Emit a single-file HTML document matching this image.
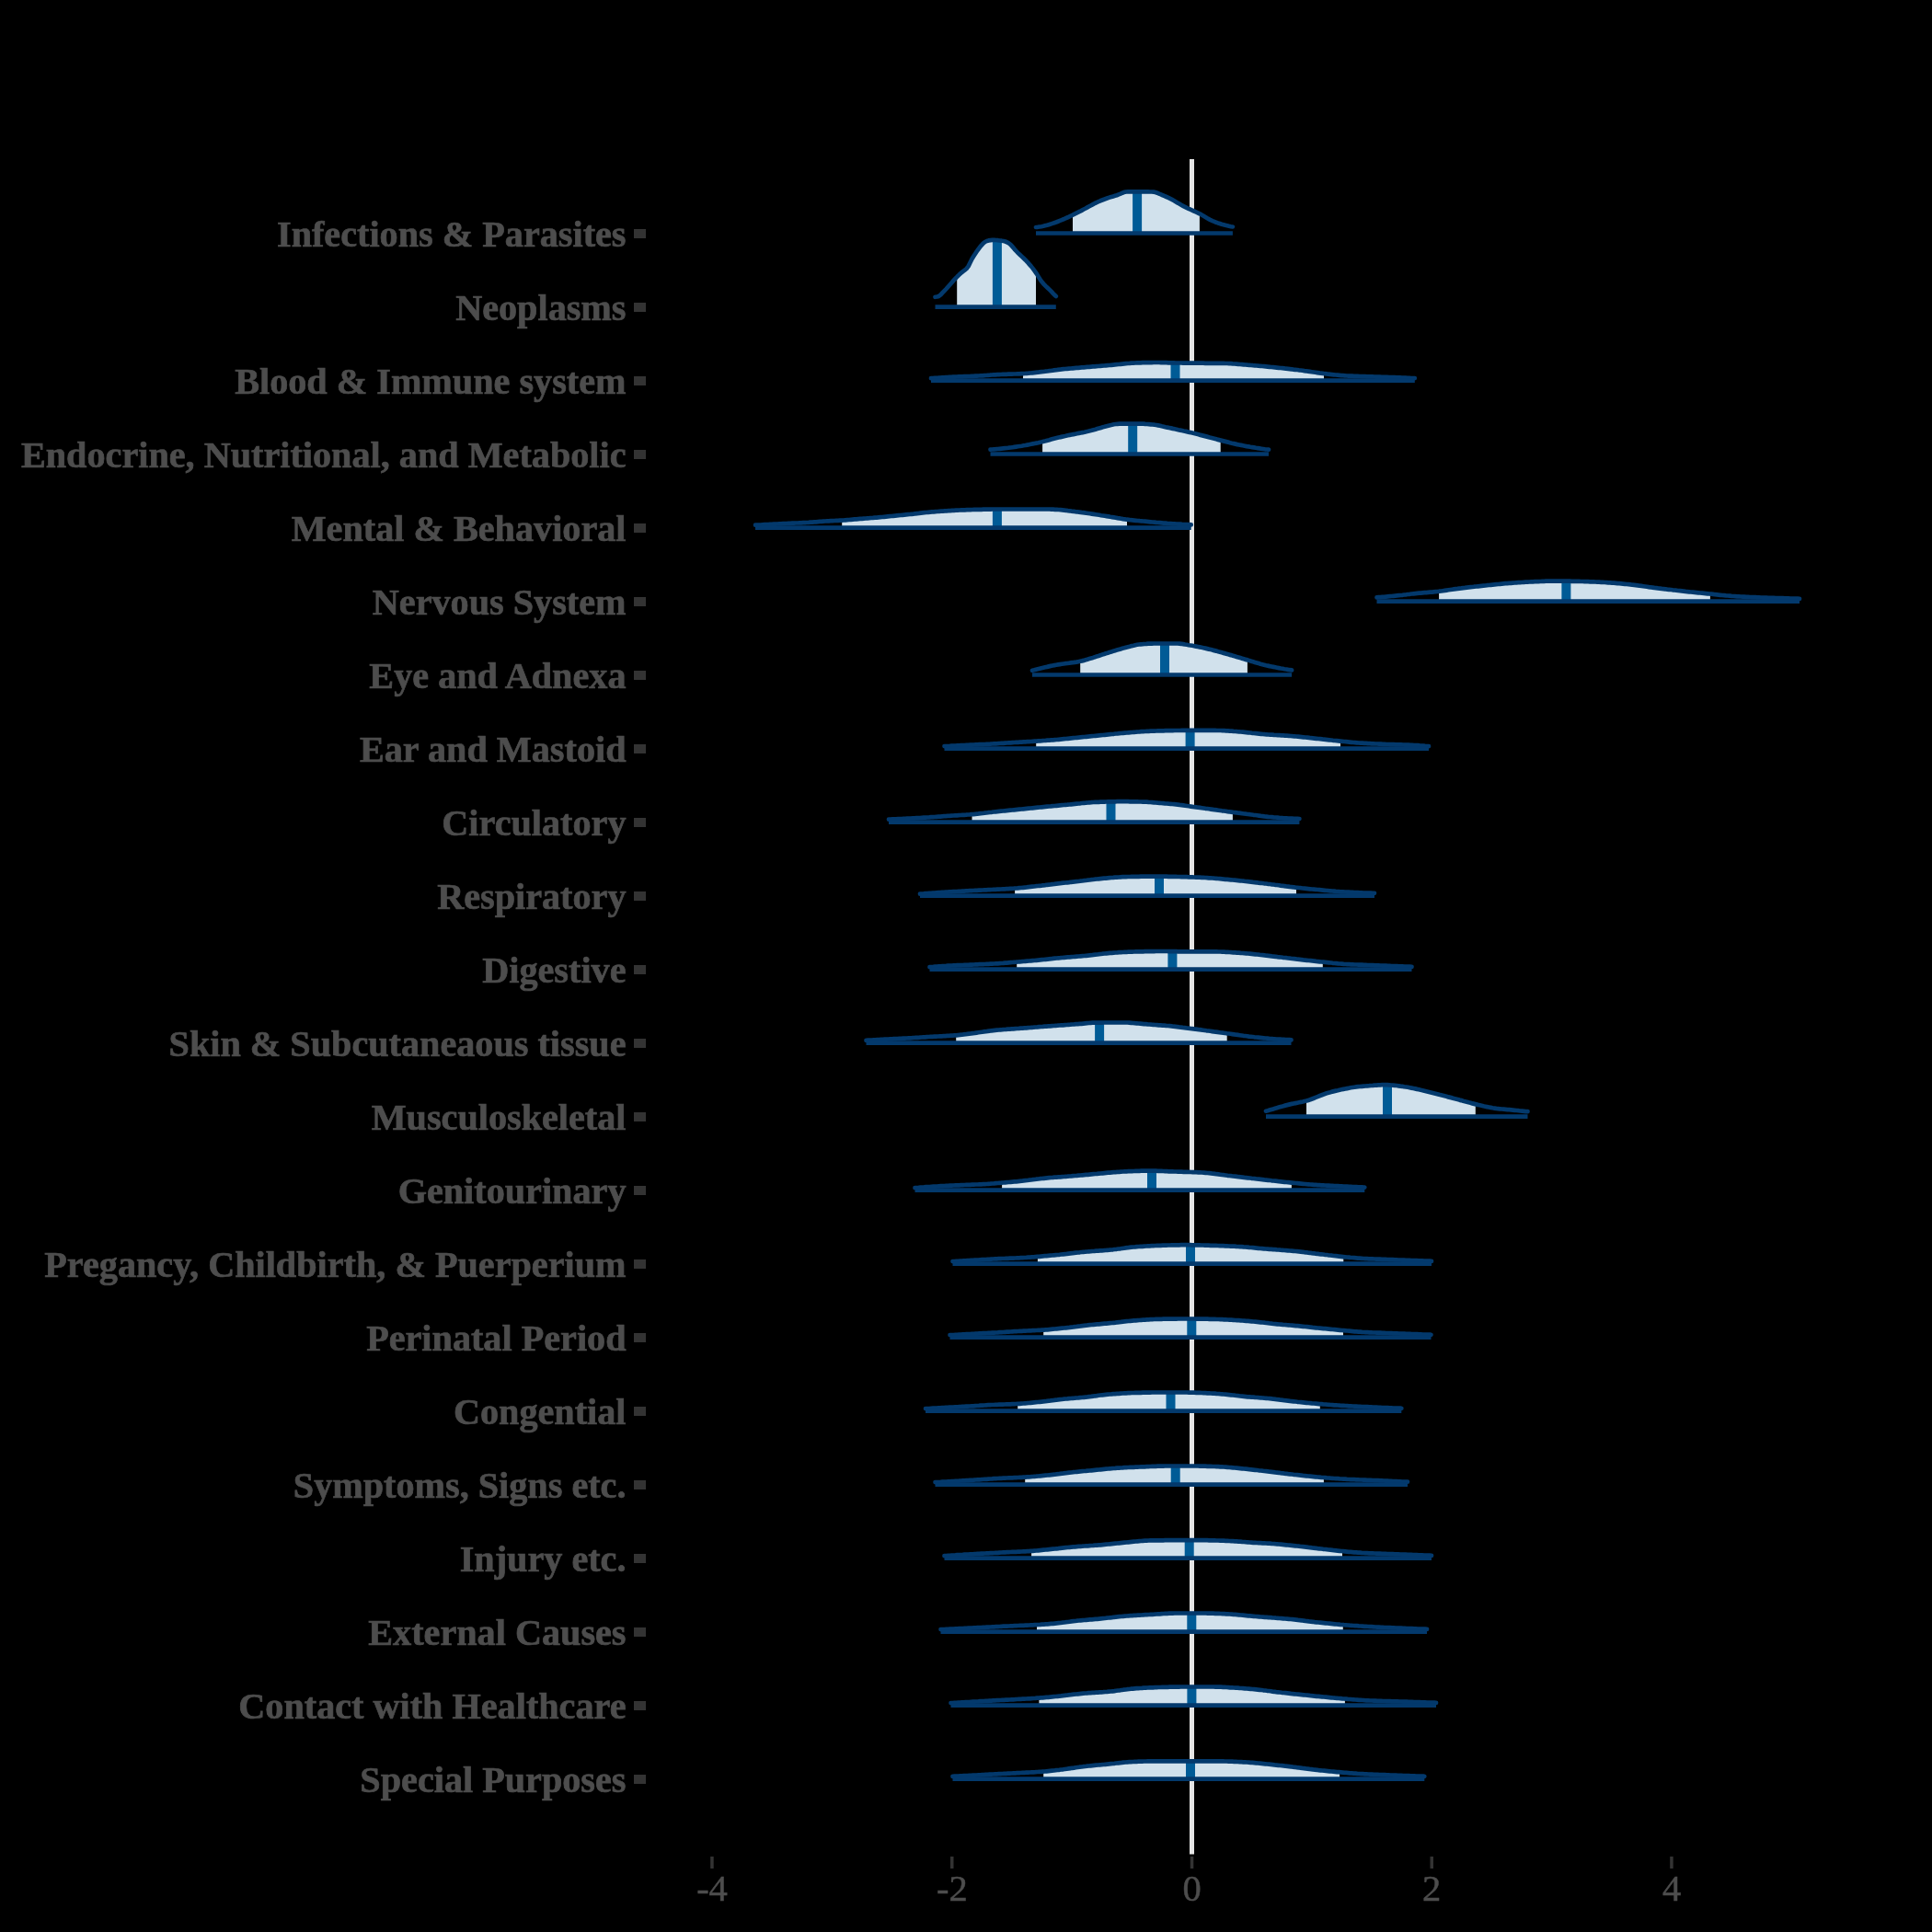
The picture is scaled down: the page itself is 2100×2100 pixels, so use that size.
<!DOCTYPE html><html><head><meta charset="utf-8"><style>html,body{margin:0;padding:0;background:#000;width:2100px;height:2100px;overflow:hidden}svg{display:block;will-change:transform}</style></head><body>
<svg width="2100" height="2100" viewBox="0 0 2100 2100">
<rect x="0" y="0" width="2100" height="2100" fill="#000"/>
<rect x="1293" y="173" width="5" height="1842.5" fill="#e5e5e5"/>
<polygon points="1166,233.7 1167,233.2 1168,232.7 1169,232.2 1170,231.7 1171,231.2 1172,230.7 1173,230.2 1174,229.7 1175,229.1 1176,228.6 1177,228.1 1178,227.5 1179,227 1180,226.5 1181,225.9 1182,225.4 1183,224.8 1184,224.3 1185,223.7 1186,223.2 1187,222.6 1188,222.1 1189,221.5 1190,221 1191,220.5 1192,220.1 1193,219.6 1194,219.2 1195,218.7 1196,218.3 1197,217.9 1198,217.5 1199,217.1 1200,216.7 1201,216.3 1202,216 1203,215.6 1204,215.3 1205,214.9 1206,214.6 1207,214.3 1208,214 1209,213.7 1210,213.4 1211,213.1 1212,212.8 1213,212.5 1214,212.2 1215,211.8 1216,211.4 1217,211 1218,210.6 1219,210.1 1220,209.7 1221,209.3 1222,208.9 1223,208.7 1224,208.5 1225,208.4 1226,208.4 1227,208.4 1228,208.4 1229,208.4 1230,208.4 1231,208.4 1232,208.4 1233,208.4 1233.9,208.4 1234.9,208.4 1235.9,208.4 1236.9,208.4 1237.9,208.4 1238.9,208.4 1239.9,208.4 1240.9,208.4 1241.9,208.4 1242.9,208.4 1243.9,208.4 1244.9,208.4 1245.9,208.4 1246.9,208.4 1247.9,208.4 1248.9,208.4 1249.9,208.5 1250.9,208.5 1251.9,208.5 1252.9,208.5 1253.9,208.6 1254.9,208.7 1255.9,209 1256.9,209.3 1257.9,209.7 1258.9,210.2 1259.9,210.6 1260.9,211 1261.9,211.4 1262.9,211.8 1263.9,212.3 1264.9,212.7 1265.9,213.1 1266.9,213.6 1267.9,214 1268.9,214.5 1269.9,214.9 1270.9,215.4 1271.9,215.9 1272.9,216.4 1273.9,216.9 1274.9,217.5 1275.9,218 1276.9,218.6 1277.9,219.2 1278.9,219.8 1279.9,220.4 1280.9,221 1281.9,221.6 1282.9,222.2 1283.9,222.8 1284.9,223.4 1285.9,223.9 1286.9,224.4 1287.9,224.9 1288.9,225.4 1289.9,225.9 1290.9,226.3 1291.9,226.8 1292.9,227.2 1293.9,227.7 1294.9,228.1 1295.9,228.6 1296.9,229 1297.9,229.5 1298.9,229.9 1299.9,230.4 1300.9,230.8 1301.9,231.3 1302.9,231.8 1303.9,232.3 1303.9,253.5 1166,253.5" fill="#d1e1ec"/>
<rect x="1231.1" y="208.4" width="10" height="45.1" fill="#005b96"/>
<path d="M1126,247 L1128,246.8 L1130,246.5 L1132,246.2 L1134,245.8 L1136,245.3 L1138,244.8 L1140,244.2 L1142,243.6 L1144,242.9 L1146,242.2 L1148,241.5 L1150,240.7 L1152,239.9 L1154,239.1 L1156,238.3 L1158,237.4 L1160,236.5 L1162,235.6 L1164,234.6 L1166,233.7 L1168,232.7 L1170,231.7 L1172,230.7 L1174,229.7 L1176,228.6 L1178,227.5 L1180,226.5 L1182,225.4 L1184,224.3 L1186,223.2 L1188,222.1 L1190,221 L1192,220.1 L1194,219.2 L1196,218.3 L1198,217.5 L1200,216.7 L1202,216 L1204,215.3 L1206,214.6 L1208,214 L1210,213.4 L1212,212.8 L1214,212.2 L1216,211.4 L1218,210.6 L1220,209.7 L1222,208.9 L1224,208.5 L1226,208.4 L1228,208.4 L1230,208.4 L1232,208.4 L1233.9,208.4 L1235.9,208.4 L1237.9,208.4 L1239.9,208.4 L1241.9,208.4 L1243.9,208.4 L1245.9,208.4 L1247.9,208.4 L1249.9,208.5 L1251.9,208.5 L1253.9,208.6 L1255.9,209 L1257.9,209.7 L1259.9,210.6 L1261.9,211.4 L1263.9,212.3 L1265.9,213.1 L1267.9,214 L1269.9,214.9 L1271.9,215.9 L1273.9,216.9 L1275.9,218 L1277.9,219.2 L1279.9,220.4 L1281.9,221.6 L1283.9,222.8 L1285.9,223.9 L1287.9,224.9 L1289.9,225.9 L1291.9,226.8 L1293.9,227.7 L1295.9,228.6 L1297.9,229.5 L1299.9,230.4 L1301.9,231.3 L1303.9,232.3 L1305.9,233.4 L1307.9,234.6 L1309.9,235.8 L1311.9,237 L1313.9,238.1 L1315.9,239.2 L1317.9,240.1 L1319.9,240.9 L1321.9,241.7 L1323.9,242.4 L1325.9,243 L1327.9,243.7 L1329.9,244.2 L1331.9,244.8 L1333.9,245.3 L1335.9,245.8 L1337.9,246.2 L1339.9,246.5" fill="none" stroke="#03396c" stroke-width="4.7" stroke-linecap="round" stroke-linejoin="round"/>
<line x1="1126" y1="253.5" x2="1339.9" y2="253.5" stroke="#03396c" stroke-width="4.7"/>
<rect x="689" y="249" width="13" height="10" fill="#333333"/>
<text x="680.5" y="267.5" text-anchor="end" font-family="&quot;Liberation Serif&quot;, serif" font-weight="bold" font-size="40.2" fill="#4d4d4d" stroke="#4d4d4d" stroke-width="0.7">Infections &amp; Parasites</text>
<polygon points="1040.2,300.8 1040.6,300.5 1041.6,299.5 1042.6,298.6 1043.6,297.7 1044.6,296.8 1045.6,296 1046.6,295.1 1047.6,294.3 1048.6,293.6 1049.6,292.9 1050.6,292 1051.6,291 1052.6,289.4 1053.6,287.5 1054.6,285.3 1055.6,283.2 1056.6,281.3 1057.6,279.6 1058.6,278 1059.6,276.4 1060.6,274.9 1061.6,273.5 1062.6,272 1063.6,270.7 1064.6,269.3 1065.6,268.1 1066.6,266.8 1067.6,265.6 1068.6,264.6 1069.6,263.7 1070.6,263 1071.6,262.4 1072.6,262 1073.6,261.6 1074.6,261.4 1075.6,261.2 1076.6,261.1 1077.6,260.9 1078.6,260.9 1079.6,260.8 1080.6,260.8 1081.6,260.9 1082.7,261 1083.7,261.1 1084.7,261.2 1085.7,261.4 1086.7,261.5 1087.7,261.6 1088.7,261.7 1089.7,261.8 1090.7,262 1091.7,262.2 1092.7,262.5 1093.7,262.9 1094.7,263.4 1095.7,263.9 1096.7,264.5 1097.7,265.2 1098.7,266.1 1099.7,267.2 1100.7,268.4 1101.7,269.6 1102.7,270.8 1103.7,271.9 1104.7,273 1105.7,274.1 1106.7,275.1 1107.7,276.1 1108.7,277 1109.7,278 1110.7,278.9 1111.7,279.8 1112.7,280.8 1113.7,281.7 1114.7,282.7 1115.7,283.8 1116.7,284.8 1117.7,285.9 1118.7,287.1 1119.7,288.2 1120.7,289.4 1121.7,290.6 1122.7,291.9 1123.7,293.2 1124.7,294.6 1125.7,296.1 1126,296.5 1126,333.6 1040.2,333.6" fill="#d1e1ec"/>
<rect x="1078.9" y="261.1" width="10" height="72.5" fill="#005b96"/>
<path d="M1016.5,322.8 L1018.5,322.5 L1020.5,321.9 L1022.5,320.4 L1024.5,318.2 L1026.5,316.1 L1028.5,314 L1030.5,311.7 L1032.5,309.5 L1034.5,307.2 L1036.5,304.9 L1038.6,302.6 L1040.6,300.5 L1042.6,298.6 L1044.6,296.8 L1046.6,295.1 L1048.6,293.6 L1050.6,292 L1052.6,289.4 L1054.6,285.3 L1056.6,281.3 L1058.6,278 L1060.6,274.9 L1062.6,272 L1064.6,269.3 L1066.6,266.8 L1068.6,264.6 L1070.6,263 L1072.6,262 L1074.6,261.4 L1076.6,261.1 L1078.6,260.9 L1080.6,260.8 L1082.7,261 L1084.7,261.2 L1086.7,261.5 L1088.7,261.7 L1090.7,262 L1092.7,262.5 L1094.7,263.4 L1096.7,264.5 L1098.7,266.1 L1100.7,268.4 L1102.7,270.8 L1104.7,273 L1106.7,275.1 L1108.7,277 L1110.7,278.9 L1112.7,280.8 L1114.7,282.7 L1116.7,284.8 L1118.7,287.1 L1120.7,289.4 L1122.7,291.9 L1124.7,294.6 L1126.8,297.6 L1128.8,300.9 L1130.8,304.1 L1132.8,306.8 L1134.8,309.1 L1136.8,311.1 L1138.8,313 L1140.8,314.9 L1142.8,316.9 L1144.8,319.1 L1146.8,321.2 L1147.8,322" fill="none" stroke="#03396c" stroke-width="4.7" stroke-linecap="round" stroke-linejoin="round"/>
<line x1="1016.5" y1="333.6" x2="1147.8" y2="333.6" stroke="#03396c" stroke-width="4.7"/>
<rect x="689" y="329" width="13" height="10" fill="#333333"/>
<text x="680.5" y="347.5" text-anchor="end" font-family="&quot;Liberation Serif&quot;, serif" font-weight="bold" font-size="40.2" fill="#4d4d4d" stroke="#4d4d4d" stroke-width="0.7">Neoplasms</text>
<polygon points="1112,406.1 1113,406 1114,406 1115,405.9 1116,405.8 1117,405.8 1118,405.7 1119,405.6 1120,405.5 1121,405.4 1122,405.3 1123,405.2 1124,405.1 1125,405 1126,404.9 1127,404.8 1128,404.7 1129,404.5 1130,404.4 1131,404.3 1132,404.2 1133,404.1 1134,404 1135,403.9 1136,403.7 1137,403.6 1138,403.5 1139,403.4 1140,403.2 1141,403.1 1142,403 1143,402.8 1143.9,402.7 1144.9,402.6 1145.9,402.4 1146.9,402.3 1147.9,402.2 1148.9,402 1149.9,401.9 1150.9,401.8 1151.9,401.7 1152.9,401.5 1153.9,401.4 1154.9,401.3 1155.9,401.2 1156.9,401.1 1157.9,401 1158.9,400.9 1159.9,400.8 1160.9,400.7 1161.9,400.6 1162.9,400.5 1163.9,400.5 1164.9,400.4 1165.9,400.3 1166.9,400.2 1167.9,400.1 1168.9,400 1169.9,399.9 1170.9,399.9 1171.9,399.8 1172.9,399.7 1173.9,399.6 1174.9,399.5 1175.9,399.4 1176.9,399.4 1177.9,399.3 1178.9,399.2 1179.9,399.1 1180.9,399 1181.9,398.9 1182.9,398.9 1183.9,398.8 1184.9,398.7 1185.9,398.6 1186.9,398.5 1187.9,398.4 1188.9,398.4 1189.9,398.3 1190.9,398.2 1191.9,398.1 1192.9,398 1193.9,398 1194.9,397.9 1195.9,397.8 1196.9,397.7 1197.9,397.6 1198.9,397.5 1199.9,397.5 1200.9,397.4 1201.9,397.3 1202.9,397.2 1203.9,397.1 1204.9,397.1 1205.9,397 1206.9,396.9 1207.9,396.8 1208.9,396.7 1209.9,396.6 1210.9,396.5 1211.9,396.4 1212.9,396.3 1213.9,396.2 1214.9,396.1 1215.9,396 1216.9,395.9 1217.9,395.8 1218.9,395.7 1219.9,395.6 1220.9,395.5 1221.9,395.4 1222.9,395.3 1223.9,395.2 1224.9,395.1 1225.9,395 1226.9,395 1227.9,394.9 1228.9,394.8 1229.9,394.7 1230.9,394.7 1231.9,394.6 1232.9,394.5 1233.9,394.5 1234.9,394.4 1235.9,394.4 1236.9,394.4 1237.9,394.3 1238.9,394.3 1239.9,394.3 1240.9,394.3 1241.9,394.2 1242.9,394.2 1243.9,394.2 1244.9,394.2 1245.9,394.2 1246.9,394.1 1247.9,394.1 1248.9,394.1 1249.9,394.1 1250.9,394.1 1251.9,394.1 1252.9,394 1253.9,394 1254.9,394 1255.9,394 1256.9,394 1257.9,394 1258.9,394 1259.9,394 1260.9,394 1261.9,394.1 1262.9,394.1 1263.9,394.1 1264.9,394.1 1265.9,394.2 1266.9,394.2 1267.9,394.2 1268.9,394.3 1269.9,394.3 1270.9,394.3 1271.9,394.4 1272.9,394.4 1273.9,394.4 1274.9,394.4 1275.9,394.4 1276.9,394.5 1277.9,394.5 1278.9,394.5 1279.9,394.5 1280.9,394.5 1281.9,394.5 1282.9,394.5 1283.9,394.5 1284.9,394.6 1285.9,394.6 1286.9,394.6 1287.9,394.6 1288.9,394.6 1289.9,394.6 1290.9,394.6 1291.9,394.6 1292.9,394.6 1293.9,394.6 1294.9,394.6 1295.9,394.7 1296.9,394.7 1297.9,394.7 1298.9,394.7 1299.9,394.7 1300.9,394.7 1301.9,394.7 1302.9,394.7 1303.9,394.7 1304.9,394.7 1305.9,394.7 1306.9,394.7 1307.9,394.7 1308.9,394.8 1309.9,394.8 1310.9,394.8 1311.9,394.8 1312.9,394.8 1313.9,394.8 1314.9,394.8 1315.9,394.8 1316.9,394.8 1317.9,394.8 1318.9,394.8 1319.9,394.8 1320.9,394.8 1321.9,394.8 1322.9,394.8 1323.9,394.8 1324.9,394.9 1325.9,394.9 1326.9,394.9 1327.9,394.9 1328.9,394.9 1329.9,394.9 1330.9,394.9 1331.9,395 1332.9,395 1333.9,395 1334.9,395.1 1335.9,395.1 1336.9,395.2 1337.9,395.2 1338.9,395.3 1339.9,395.4 1340.9,395.4 1341.9,395.5 1342.9,395.6 1343.9,395.6 1344.9,395.7 1345.9,395.8 1346.9,395.9 1347.9,396 1348.9,396.1 1349.9,396.1 1350.9,396.2 1351.9,396.3 1352.9,396.4 1353.9,396.5 1354.9,396.6 1355.9,396.7 1356.9,396.7 1357.9,396.8 1358.9,396.9 1359.9,397 1360.9,397.1 1361.9,397.2 1362.9,397.2 1363.9,397.3 1364.9,397.4 1365.9,397.5 1366.9,397.6 1367.9,397.7 1368.9,397.7 1369.9,397.8 1370.9,397.9 1371.9,398 1372.9,398.1 1373.9,398.2 1374.9,398.3 1375.9,398.4 1376.9,398.5 1377.9,398.6 1378.9,398.7 1379.9,398.8 1380.9,398.9 1381.9,399 1382.9,399.1 1383.9,399.2 1384.9,399.3 1385.9,399.4 1386.9,399.5 1387.9,399.6 1388.9,399.7 1389.9,399.8 1390.9,399.9 1391.9,400 1392.9,400.1 1393.9,400.2 1394.9,400.3 1395.9,400.4 1396.9,400.5 1397.9,400.7 1398.9,400.8 1399.9,400.9 1400.9,401 1401.9,401.1 1402.9,401.2 1403.9,401.3 1404.9,401.5 1405.9,401.6 1406.8,401.7 1407.8,401.8 1408.8,401.9 1409.8,402 1410.8,402.2 1411.8,402.3 1412.8,402.4 1413.8,402.5 1414.8,402.7 1415.8,402.8 1416.8,402.9 1417.8,403.1 1418.8,403.2 1419.8,403.3 1420.8,403.5 1421.8,403.6 1422.8,403.8 1423.8,403.9 1424.8,404.1 1425.8,404.2 1426.8,404.4 1427.8,404.5 1428.8,404.7 1429.8,404.8 1430.8,405 1431.8,405.1 1432.8,405.3 1433.8,405.4 1434.8,405.6 1435.8,405.7 1436.8,405.8 1437.8,405.9 1438.8,406.1 1439,406.1 1439,413.6 1112,413.6" fill="#d1e1ec"/>
<rect x="1272.5" y="394.5" width="10" height="19.1" fill="#005b96"/>
<path d="M1012,411.1 L1014,411 L1016,410.9 L1018,410.8 L1020,410.7 L1022,410.5 L1024,410.4 L1026,410.3 L1028,410.2 L1030,410.1 L1032,409.9 L1034,409.8 L1036,409.7 L1038,409.6 L1040,409.5 L1042,409.4 L1044,409.3 L1046,409.3 L1048,409.2 L1050,409.1 L1052,409 L1054,409 L1056,408.9 L1058,408.8 L1060,408.7 L1062,408.6 L1064,408.5 L1066,408.4 L1068,408.3 L1070,408.1 L1072,408 L1074,407.8 L1076,407.7 L1078,407.5 L1080,407.4 L1082,407.3 L1084,407.2 L1086,407.1 L1088,407 L1090,406.9 L1092,406.9 L1094,406.8 L1096,406.7 L1098,406.7 L1100,406.6 L1102,406.5 L1104,406.5 L1106,406.4 L1108,406.3 L1110,406.2 L1112,406.1 L1114,406 L1116,405.8 L1118,405.7 L1120,405.5 L1122,405.3 L1124,405.1 L1126,404.9 L1128,404.7 L1130,404.4 L1132,404.2 L1134,404 L1136,403.7 L1138,403.5 L1140,403.2 L1142,403 L1143.9,402.7 L1145.9,402.4 L1147.9,402.2 L1149.9,401.9 L1151.9,401.7 L1153.9,401.4 L1155.9,401.2 L1157.9,401 L1159.9,400.8 L1161.9,400.6 L1163.9,400.5 L1165.9,400.3 L1167.9,400.1 L1169.9,399.9 L1171.9,399.8 L1173.9,399.6 L1175.9,399.4 L1177.9,399.3 L1179.9,399.1 L1181.9,398.9 L1183.9,398.8 L1185.9,398.6 L1187.9,398.4 L1189.9,398.3 L1191.9,398.1 L1193.9,398 L1195.9,397.8 L1197.9,397.6 L1199.9,397.5 L1201.9,397.3 L1203.9,397.1 L1205.9,397 L1207.9,396.8 L1209.9,396.6 L1211.9,396.4 L1213.9,396.2 L1215.9,396 L1217.9,395.8 L1219.9,395.6 L1221.9,395.4 L1223.9,395.2 L1225.9,395 L1227.9,394.9 L1229.9,394.7 L1231.9,394.6 L1233.9,394.5 L1235.9,394.4 L1237.9,394.3 L1239.9,394.3 L1241.9,394.2 L1243.9,394.2 L1245.9,394.2 L1247.9,394.1 L1249.9,394.1 L1251.9,394.1 L1253.9,394 L1255.9,394 L1257.9,394 L1259.9,394 L1261.9,394.1 L1263.9,394.1 L1265.9,394.2 L1267.9,394.2 L1269.9,394.3 L1271.9,394.4 L1273.9,394.4 L1275.9,394.4 L1277.9,394.5 L1279.9,394.5 L1281.9,394.5 L1283.9,394.5 L1285.9,394.6 L1287.9,394.6 L1289.9,394.6 L1291.9,394.6 L1293.9,394.6 L1295.9,394.7 L1297.9,394.7 L1299.9,394.7 L1301.9,394.7 L1303.9,394.7 L1305.9,394.7 L1307.9,394.7 L1309.9,394.8 L1311.9,394.8 L1313.9,394.8 L1315.9,394.8 L1317.9,394.8 L1319.9,394.8 L1321.9,394.8 L1323.9,394.8 L1325.9,394.9 L1327.9,394.9 L1329.9,394.9 L1331.9,395 L1333.9,395 L1335.9,395.1 L1337.9,395.2 L1339.9,395.4 L1341.9,395.5 L1343.9,395.6 L1345.9,395.8 L1347.9,396 L1349.9,396.1 L1351.9,396.3 L1353.9,396.5 L1355.9,396.7 L1357.9,396.8 L1359.9,397 L1361.9,397.2 L1363.9,397.3 L1365.9,397.5 L1367.9,397.7 L1369.9,397.8 L1371.9,398 L1373.9,398.2 L1375.9,398.4 L1377.9,398.6 L1379.9,398.8 L1381.9,399 L1383.9,399.2 L1385.9,399.4 L1387.9,399.6 L1389.9,399.8 L1391.9,400 L1393.9,400.2 L1395.9,400.4 L1397.9,400.7 L1399.9,400.9 L1401.9,401.1 L1403.9,401.3 L1405.9,401.6 L1407.8,401.8 L1409.8,402 L1411.8,402.3 L1413.8,402.5 L1415.8,402.8 L1417.8,403.1 L1419.8,403.3 L1421.8,403.6 L1423.8,403.9 L1425.8,404.2 L1427.8,404.5 L1429.8,404.8 L1431.8,405.1 L1433.8,405.4 L1435.8,405.7 L1437.8,405.9 L1439.8,406.2 L1441.8,406.4 L1443.8,406.7 L1445.8,406.9 L1447.8,407.1 L1449.8,407.3 L1451.8,407.5 L1453.8,407.7 L1455.8,407.9 L1457.8,408.1 L1459.8,408.2 L1461.8,408.3 L1463.8,408.5 L1465.8,408.6 L1467.8,408.6 L1469.8,408.7 L1471.8,408.8 L1473.8,408.9 L1475.8,408.9 L1477.8,409 L1479.8,409.1 L1481.8,409.1 L1483.8,409.2 L1485.8,409.3 L1487.8,409.3 L1489.8,409.4 L1491.8,409.4 L1493.8,409.5 L1495.8,409.6 L1497.8,409.6 L1499.8,409.7 L1501.8,409.8 L1503.8,409.8 L1505.8,409.9 L1507.8,409.9 L1509.8,410 L1511.8,410.1 L1513.8,410.1 L1515.8,410.2 L1517.8,410.3 L1519.8,410.4 L1521.8,410.4 L1523.8,410.5 L1525.8,410.6 L1527.8,410.7 L1529.8,410.8 L1531.8,410.9 L1533.8,411 L1535.8,411.1 L1537.8,411.1" fill="none" stroke="#03396c" stroke-width="4.7" stroke-linecap="round" stroke-linejoin="round"/>
<line x1="1012" y1="413.6" x2="1537.8" y2="413.6" stroke="#03396c" stroke-width="4.7"/>
<rect x="689" y="409" width="13" height="10" fill="#333333"/>
<text x="680.5" y="427.5" text-anchor="end" font-family="&quot;Liberation Serif&quot;, serif" font-weight="bold" font-size="40.2" fill="#4d4d4d" stroke="#4d4d4d" stroke-width="0.7">Blood &amp; Immune system</text>
<polygon points="1133.1,480.1 1133.6,480 1134.6,479.8 1135.6,479.5 1136.6,479.3 1137.6,479 1138.6,478.7 1139.6,478.5 1140.6,478.2 1141.6,477.9 1142.6,477.6 1143.6,477.3 1144.6,477 1145.6,476.8 1146.6,476.5 1147.6,476.3 1148.6,476 1149.6,475.8 1150.6,475.5 1151.6,475.3 1152.6,475.1 1153.6,474.8 1154.6,474.6 1155.6,474.4 1156.6,474.2 1157.6,474 1158.6,473.8 1159.6,473.6 1160.6,473.3 1161.6,473.1 1162.6,472.9 1163.6,472.7 1164.6,472.5 1165.6,472.3 1166.6,472.1 1167.7,471.9 1168.7,471.7 1169.7,471.5 1170.7,471.3 1171.7,471.1 1172.7,470.9 1173.7,470.7 1174.7,470.5 1175.7,470.3 1176.7,470.1 1177.7,469.9 1178.7,469.7 1179.7,469.5 1180.7,469.2 1181.7,469 1182.7,468.8 1183.7,468.5 1184.7,468.3 1185.7,468 1186.7,467.8 1187.7,467.5 1188.7,467.2 1189.7,467 1190.7,466.7 1191.7,466.4 1192.7,466.1 1193.7,465.8 1194.7,465.5 1195.7,465.2 1196.7,464.9 1197.7,464.6 1198.7,464.3 1199.7,464 1200.7,463.8 1201.7,463.5 1202.7,463.2 1203.7,463 1204.7,462.7 1205.7,462.5 1206.7,462.2 1207.7,462 1208.7,461.8 1209.7,461.5 1210.7,461.3 1211.7,461.2 1212.7,461 1213.7,460.9 1214.7,460.8 1215.7,460.8 1216.7,460.7 1217.7,460.7 1218.7,460.7 1219.7,460.7 1220.7,460.6 1221.7,460.6 1222.7,460.6 1223.7,460.6 1224.7,460.6 1225.7,460.6 1226.7,460.6 1227.8,460.6 1228.8,460.6 1229.8,460.6 1230.8,460.6 1231.8,460.6 1232.8,460.6 1233.8,460.6 1234.8,460.6 1235.8,460.6 1236.8,460.6 1237.8,460.6 1238.8,460.6 1239.8,460.6 1240.8,460.7 1241.8,460.7 1242.8,460.7 1243.8,460.8 1244.8,460.9 1245.8,460.9 1246.8,461 1247.8,461.1 1248.8,461.1 1249.8,461.2 1250.8,461.3 1251.8,461.4 1252.8,461.5 1253.8,461.6 1254.8,461.7 1255.8,461.8 1256.8,462 1257.8,462.2 1258.8,462.4 1259.8,462.6 1260.8,462.8 1261.8,463.1 1262.8,463.3 1263.8,463.5 1264.8,463.7 1265.8,464 1266.8,464.2 1267.8,464.4 1268.8,464.6 1269.8,464.8 1270.8,465 1271.8,465.2 1272.8,465.4 1273.8,465.7 1274.8,465.9 1275.8,466.1 1276.8,466.3 1277.8,466.5 1278.8,466.7 1279.8,466.9 1280.8,467.2 1281.8,467.4 1282.8,467.6 1283.8,467.8 1284.8,468 1285.8,468.3 1286.8,468.5 1287.8,468.7 1288.9,468.9 1289.9,469.2 1290.9,469.4 1291.9,469.6 1292.9,469.9 1293.9,470.1 1294.9,470.3 1295.9,470.6 1296.9,470.8 1297.9,471.1 1298.9,471.3 1299.9,471.6 1300.9,471.8 1301.9,472.1 1302.9,472.3 1303.9,472.6 1304.9,472.9 1305.9,473.1 1306.9,473.4 1307.9,473.6 1308.9,473.9 1309.9,474.1 1310.9,474.4 1311.9,474.7 1312.9,474.9 1313.9,475.2 1314.9,475.5 1315.9,475.7 1316.9,476 1317.9,476.3 1318.9,476.5 1319.9,476.8 1320.9,477 1321.9,477.3 1322.9,477.6 1323.9,477.8 1324.9,478.1 1325.9,478.3 1326.7,478.5 1326.7,493.5 1133.1,493.5" fill="#d1e1ec"/>
<rect x="1226.2" y="460.6" width="10" height="32.9" fill="#005b96"/>
<path d="M1076.5,488.6 L1078.5,488.5 L1080.5,488.3 L1082.5,488.2 L1084.5,488 L1086.5,487.8 L1088.5,487.6 L1090.5,487.4 L1092.5,487.2 L1094.5,487 L1096.5,486.7 L1098.5,486.5 L1100.5,486.2 L1102.5,485.9 L1104.5,485.6 L1106.5,485.3 L1108.6,485 L1110.6,484.7 L1112.6,484.3 L1114.6,484 L1116.6,483.6 L1118.6,483.2 L1120.6,482.8 L1122.6,482.4 L1124.6,482 L1126.6,481.6 L1128.6,481.2 L1130.6,480.7 L1132.6,480.3 L1134.6,479.8 L1136.6,479.3 L1138.6,478.7 L1140.6,478.2 L1142.6,477.6 L1144.6,477 L1146.6,476.5 L1148.6,476 L1150.6,475.5 L1152.6,475.1 L1154.6,474.6 L1156.6,474.2 L1158.6,473.8 L1160.6,473.3 L1162.6,472.9 L1164.6,472.5 L1166.6,472.1 L1168.7,471.7 L1170.7,471.3 L1172.7,470.9 L1174.7,470.5 L1176.7,470.1 L1178.7,469.7 L1180.7,469.2 L1182.7,468.8 L1184.7,468.3 L1186.7,467.8 L1188.7,467.2 L1190.7,466.7 L1192.7,466.1 L1194.7,465.5 L1196.7,464.9 L1198.7,464.3 L1200.7,463.8 L1202.7,463.2 L1204.7,462.7 L1206.7,462.2 L1208.7,461.8 L1210.7,461.3 L1212.7,461 L1214.7,460.8 L1216.7,460.7 L1218.7,460.7 L1220.7,460.6 L1222.7,460.6 L1224.7,460.6 L1226.7,460.6 L1228.8,460.6 L1230.8,460.6 L1232.8,460.6 L1234.8,460.6 L1236.8,460.6 L1238.8,460.6 L1240.8,460.7 L1242.8,460.7 L1244.8,460.9 L1246.8,461 L1248.8,461.1 L1250.8,461.3 L1252.8,461.5 L1254.8,461.7 L1256.8,462 L1258.8,462.4 L1260.8,462.8 L1262.8,463.3 L1264.8,463.7 L1266.8,464.2 L1268.8,464.6 L1270.8,465 L1272.8,465.4 L1274.8,465.9 L1276.8,466.3 L1278.8,466.7 L1280.8,467.2 L1282.8,467.6 L1284.8,468 L1286.8,468.5 L1288.9,468.9 L1290.9,469.4 L1292.9,469.9 L1294.9,470.3 L1296.9,470.8 L1298.9,471.3 L1300.9,471.8 L1302.9,472.3 L1304.9,472.9 L1306.9,473.4 L1308.9,473.9 L1310.9,474.4 L1312.9,474.9 L1314.9,475.5 L1316.9,476 L1318.9,476.5 L1320.9,477 L1322.9,477.6 L1324.9,478.1 L1326.9,478.6 L1328.9,479.1 L1330.9,479.6 L1332.9,480.1 L1334.9,480.6 L1336.9,481.2 L1338.9,481.7 L1340.9,482.1 L1342.9,482.6 L1344.9,483.1 L1346.9,483.5 L1349,483.9 L1351,484.3 L1353,484.7 L1355,485.1 L1357,485.4 L1359,485.8 L1361,486.1 L1363,486.4 L1365,486.8 L1367,487.1 L1369,487.4 L1371,487.7 L1373,488 L1375,488.3 L1377,488.5 L1379,488.7" fill="none" stroke="#03396c" stroke-width="4.7" stroke-linecap="round" stroke-linejoin="round"/>
<line x1="1076.5" y1="493.5" x2="1379" y2="493.5" stroke="#03396c" stroke-width="4.7"/>
<rect x="689" y="489" width="13" height="10" fill="#333333"/>
<text x="680.5" y="507.5" text-anchor="end" font-family="&quot;Liberation Serif&quot;, serif" font-weight="bold" font-size="40.2" fill="#4d4d4d" stroke="#4d4d4d" stroke-width="0.7">Endocrine, Nutritional, and Metabolic</text>
<polygon points="915.2,565.6 915.9,565.5 916.9,565.5 917.9,565.4 918.9,565.3 919.9,565.2 920.9,565.1 921.9,565.1 922.9,565 923.9,564.9 924.9,564.8 925.9,564.7 926.9,564.6 927.9,564.5 928.9,564.4 929.9,564.3 930.9,564.3 931.9,564.2 932.9,564.1 933.9,564 934.9,563.9 935.9,563.9 936.9,563.8 937.9,563.7 938.9,563.6 939.9,563.6 940.9,563.5 941.9,563.4 942.9,563.3 943.9,563.3 944.9,563.2 945.9,563.1 946.9,563 947.9,563 948.9,562.9 949.9,562.8 950.9,562.7 951.9,562.6 952.9,562.6 953.9,562.5 954.9,562.4 955.9,562.3 956.9,562.2 957.9,562.1 958.9,562 959.9,561.9 960.9,561.8 961.9,561.7 962.9,561.6 963.9,561.5 964.9,561.4 965.9,561.3 966.9,561.2 967.9,561.1 968.9,561 969.9,560.9 970.9,560.8 971.9,560.7 972.9,560.6 973.9,560.5 974.9,560.4 975.9,560.3 976.9,560.2 977.9,560.1 978.9,560 979.9,559.9 980.9,559.8 981.9,559.7 982.9,559.6 983.9,559.5 984.9,559.4 985.9,559.3 986.9,559.2 987.9,559.1 988.9,559 989.9,558.9 990.9,558.8 991.9,558.7 992.9,558.6 993.9,558.4 994.9,558.3 995.9,558.2 996.9,558.1 997.9,558 998.9,557.9 999.9,557.7 1000.9,557.6 1001.9,557.5 1002.9,557.4 1003.9,557.3 1004.9,557.2 1005.9,557.1 1006.9,557 1007.9,556.9 1008.9,556.8 1009.9,556.7 1010.9,556.6 1011.9,556.5 1012.9,556.4 1013.9,556.4 1014.9,556.3 1015.9,556.2 1016.9,556.1 1017.9,556 1018.9,556 1019.9,555.9 1020.9,555.8 1021.9,555.8 1022.9,555.7 1023.9,555.6 1024.9,555.6 1025.9,555.5 1026.9,555.4 1027.9,555.4 1028.9,555.3 1029.9,555.2 1030.9,555.2 1031.9,555.1 1032.9,555.1 1033.9,555 1034.9,554.9 1035.9,554.9 1036.9,554.8 1037.9,554.8 1038.9,554.7 1039.9,554.7 1040.9,554.6 1041.9,554.6 1042.9,554.5 1043.9,554.5 1044.9,554.4 1045.9,554.4 1046.9,554.4 1047.9,554.3 1048.9,554.3 1049.9,554.2 1050.9,554.2 1051.9,554.2 1052.9,554.1 1053.9,554.1 1054.9,554.1 1055.9,554 1056.9,554 1057.8,554 1058.8,553.9 1059.8,553.9 1060.8,553.9 1061.8,553.9 1062.8,553.8 1063.8,553.8 1064.8,553.8 1065.8,553.8 1066.8,553.8 1067.8,553.7 1068.8,553.7 1069.8,553.7 1070.8,553.7 1071.8,553.6 1072.8,553.6 1073.8,553.6 1074.8,553.6 1075.8,553.6 1076.8,553.6 1077.8,553.5 1078.8,553.5 1079.8,553.5 1080.8,553.5 1081.8,553.5 1082.8,553.5 1083.8,553.5 1084.8,553.5 1085.8,553.5 1086.8,553.5 1087.8,553.5 1088.8,553.5 1089.8,553.5 1090.8,553.5 1091.8,553.5 1092.8,553.5 1093.8,553.5 1094.8,553.5 1095.8,553.5 1096.8,553.5 1097.8,553.5 1098.8,553.5 1099.8,553.5 1100.8,553.5 1101.8,553.5 1102.8,553.5 1103.8,553.5 1104.8,553.5 1105.8,553.5 1106.8,553.5 1107.8,553.5 1108.8,553.5 1109.8,553.5 1110.8,553.5 1111.8,553.5 1112.8,553.5 1113.8,553.5 1114.8,553.5 1115.8,553.5 1116.8,553.5 1117.8,553.5 1118.8,553.5 1119.8,553.5 1120.8,553.5 1121.8,553.5 1122.8,553.5 1123.8,553.5 1124.8,553.5 1125.8,553.5 1126.8,553.5 1127.8,553.5 1128.8,553.5 1129.8,553.5 1130.8,553.5 1131.8,553.5 1132.8,553.5 1133.8,553.5 1134.8,553.5 1135.8,553.5 1136.8,553.5 1137.8,553.5 1138.8,553.5 1139.8,553.5 1140.8,553.5 1141.8,553.6 1142.8,553.6 1143.8,553.6 1144.8,553.7 1145.8,553.7 1146.8,553.8 1147.8,553.8 1148.8,553.9 1149.8,553.9 1150.8,554 1151.8,554.1 1152.8,554.2 1153.8,554.3 1154.8,554.4 1155.8,554.5 1156.8,554.6 1157.8,554.7 1158.8,554.8 1159.8,554.9 1160.8,555.1 1161.8,555.2 1162.8,555.3 1163.8,555.4 1164.8,555.6 1165.8,555.7 1166.8,555.8 1167.8,555.9 1168.8,556.1 1169.8,556.2 1170.8,556.3 1171.8,556.5 1172.8,556.6 1173.8,556.7 1174.8,556.9 1175.8,557 1176.8,557.2 1177.8,557.3 1178.8,557.4 1179.8,557.6 1180.8,557.7 1181.8,557.9 1182.8,558 1183.8,558.2 1184.8,558.3 1185.8,558.5 1186.8,558.6 1187.8,558.8 1188.8,558.9 1189.8,559.1 1190.8,559.2 1191.8,559.4 1192.8,559.5 1193.8,559.7 1194.8,559.8 1195.8,560 1196.8,560.2 1197.8,560.3 1198.8,560.5 1199.8,560.6 1200.8,560.8 1201.8,561 1202.8,561.1 1203.8,561.3 1204.8,561.4 1205.8,561.6 1206.8,561.8 1207.8,561.9 1208.8,562.1 1209.8,562.2 1210.8,562.4 1211.8,562.6 1212.8,562.7 1213.8,562.9 1214.8,563.1 1215.8,563.2 1216.7,563.4 1217.7,563.6 1218.7,563.7 1219.7,563.9 1220.7,564.1 1221.7,564.2 1222.7,564.4 1223.7,564.5 1224.7,564.7 1225,564.7 1225,573.7 915.2,573.7" fill="#d1e1ec"/>
<rect x="1078.9" y="553.5" width="10" height="20.2" fill="#005b96"/>
<path d="M821,570.7 L823,570.7 L825,570.6 L827,570.5 L829,570.3 L831,570.2 L833,570.1 L835,570 L837,569.9 L839,569.8 L841,569.7 L843,569.6 L845,569.5 L847,569.4 L849,569.3 L851,569.2 L853,569.1 L855,569 L857,568.9 L859,568.8 L861,568.7 L863,568.6 L865,568.5 L867,568.5 L869,568.4 L871,568.3 L873,568.2 L875,568.1 L877,568 L879,567.9 L881,567.7 L883,567.6 L885,567.4 L887,567.3 L889,567.1 L891,566.9 L893,566.8 L895,566.6 L897,566.5 L899,566.4 L900.9,566.3 L902.9,566.2 L904.9,566.1 L906.9,566 L908.9,565.9 L910.9,565.8 L912.9,565.7 L914.9,565.6 L916.9,565.5 L918.9,565.3 L920.9,565.1 L922.9,565 L924.9,564.8 L926.9,564.6 L928.9,564.4 L930.9,564.3 L932.9,564.1 L934.9,563.9 L936.9,563.8 L938.9,563.6 L940.9,563.5 L942.9,563.3 L944.9,563.2 L946.9,563 L948.9,562.9 L950.9,562.7 L952.9,562.6 L954.9,562.4 L956.9,562.2 L958.9,562 L960.9,561.8 L962.9,561.6 L964.9,561.4 L966.9,561.2 L968.9,561 L970.9,560.8 L972.9,560.6 L974.9,560.4 L976.9,560.2 L978.9,560 L980.9,559.8 L982.9,559.6 L984.9,559.4 L986.9,559.2 L988.9,559 L990.9,558.8 L992.9,558.6 L994.9,558.3 L996.9,558.1 L998.9,557.9 L1000.9,557.6 L1002.9,557.4 L1004.9,557.2 L1006.9,557 L1008.9,556.8 L1010.9,556.6 L1012.9,556.4 L1014.9,556.3 L1016.9,556.1 L1018.9,556 L1020.9,555.8 L1022.9,555.7 L1024.9,555.6 L1026.9,555.4 L1028.9,555.3 L1030.9,555.2 L1032.9,555.1 L1034.9,554.9 L1036.9,554.8 L1038.9,554.7 L1040.9,554.6 L1042.9,554.5 L1044.9,554.4 L1046.9,554.4 L1048.9,554.3 L1050.9,554.2 L1052.9,554.1 L1054.9,554.1 L1056.9,554 L1058.8,553.9 L1060.8,553.9 L1062.8,553.8 L1064.8,553.8 L1066.8,553.8 L1068.8,553.7 L1070.8,553.7 L1072.8,553.6 L1074.8,553.6 L1076.8,553.6 L1078.8,553.5 L1080.8,553.5 L1082.8,553.5 L1084.8,553.5 L1086.8,553.5 L1088.8,553.5 L1090.8,553.5 L1092.8,553.5 L1094.8,553.5 L1096.8,553.5 L1098.8,553.5 L1100.8,553.5 L1102.8,553.5 L1104.8,553.5 L1106.8,553.5 L1108.8,553.5 L1110.8,553.5 L1112.8,553.5 L1114.8,553.5 L1116.8,553.5 L1118.8,553.5 L1120.8,553.5 L1122.8,553.5 L1124.8,553.5 L1126.8,553.5 L1128.8,553.5 L1130.8,553.5 L1132.8,553.5 L1134.8,553.5 L1136.8,553.5 L1138.8,553.5 L1140.8,553.5 L1142.8,553.6 L1144.8,553.7 L1146.8,553.8 L1148.8,553.9 L1150.8,554 L1152.8,554.2 L1154.8,554.4 L1156.8,554.6 L1158.8,554.8 L1160.8,555.1 L1162.8,555.3 L1164.8,555.6 L1166.8,555.8 L1168.8,556.1 L1170.8,556.3 L1172.8,556.6 L1174.8,556.9 L1176.8,557.2 L1178.8,557.4 L1180.8,557.7 L1182.8,558 L1184.8,558.3 L1186.8,558.6 L1188.8,558.9 L1190.8,559.2 L1192.8,559.5 L1194.8,559.8 L1196.8,560.2 L1198.8,560.5 L1200.8,560.8 L1202.8,561.1 L1204.8,561.4 L1206.8,561.8 L1208.8,562.1 L1210.8,562.4 L1212.8,562.7 L1214.8,563.1 L1216.7,563.4 L1218.7,563.7 L1220.7,564.1 L1222.7,564.4 L1224.7,564.7 L1226.7,564.9 L1228.7,565.2 L1230.7,565.4 L1232.7,565.6 L1234.7,565.8 L1236.7,566 L1238.7,566.2 L1240.7,566.3 L1242.7,566.5 L1244.7,566.7 L1246.7,566.9 L1248.7,567.1 L1250.7,567.3 L1252.7,567.5 L1254.7,567.7 L1256.7,567.9 L1258.7,568 L1260.7,568.2 L1262.7,568.4 L1264.7,568.6 L1266.7,568.7 L1268.7,568.9 L1270.7,569 L1272.7,569.1 L1274.7,569.3 L1276.7,569.4 L1278.7,569.5 L1280.7,569.6 L1282.7,569.7 L1284.7,569.9 L1286.7,570 L1288.7,570 L1290.7,570.1 L1292.7,570.2 L1294.7,570.3" fill="none" stroke="#03396c" stroke-width="4.7" stroke-linecap="round" stroke-linejoin="round"/>
<line x1="821" y1="573.7" x2="1294.7" y2="573.7" stroke="#03396c" stroke-width="4.7"/>
<rect x="689" y="569" width="13" height="10" fill="#333333"/>
<text x="680.5" y="587.5" text-anchor="end" font-family="&quot;Liberation Serif&quot;, serif" font-weight="bold" font-size="40.2" fill="#4d4d4d" stroke="#4d4d4d" stroke-width="0.7">Mental &amp; Behavioral</text>
<polygon points="1564.1,642.8 1564.4,642.7 1565.4,642.6 1566.4,642.5 1567.4,642.4 1568.4,642.2 1569.4,642.1 1570.4,641.9 1571.4,641.8 1572.4,641.6 1573.4,641.5 1574.4,641.3 1575.4,641.2 1576.4,641 1577.4,640.8 1578.4,640.7 1579.4,640.5 1580.4,640.4 1581.4,640.3 1582.4,640.1 1583.4,640 1584.4,639.9 1585.4,639.7 1586.4,639.6 1587.4,639.5 1588.4,639.4 1589.4,639.2 1590.4,639.1 1591.4,639 1592.4,638.9 1593.4,638.8 1594.4,638.6 1595.4,638.5 1596.4,638.4 1597.4,638.3 1598.4,638.2 1599.4,638.1 1600.4,638 1601.4,637.9 1602.4,637.7 1603.4,637.6 1604.4,637.5 1605.4,637.4 1606.4,637.3 1607.4,637.2 1608.4,637.1 1609.4,637 1610.4,636.9 1611.4,636.8 1612.4,636.7 1613.4,636.6 1614.4,636.5 1615.4,636.3 1616.4,636.2 1617.4,636.1 1618.4,636 1619.4,635.9 1620.4,635.8 1621.4,635.7 1622.4,635.6 1623.4,635.5 1624.4,635.4 1625.4,635.3 1626.4,635.2 1627.4,635.1 1628.4,635 1629.4,634.9 1630.4,634.8 1631.4,634.7 1632.4,634.6 1633.4,634.5 1634.3,634.4 1635.3,634.3 1636.3,634.2 1637.3,634.1 1638.3,634.1 1639.3,634 1640.3,633.9 1641.3,633.8 1642.3,633.8 1643.3,633.7 1644.3,633.6 1645.3,633.5 1646.3,633.5 1647.3,633.4 1648.3,633.3 1649.3,633.3 1650.3,633.2 1651.3,633.1 1652.3,633.1 1653.3,633 1654.3,633 1655.3,632.9 1656.3,632.8 1657.3,632.8 1658.3,632.7 1659.3,632.7 1660.3,632.6 1661.3,632.6 1662.3,632.5 1663.3,632.5 1664.3,632.4 1665.3,632.4 1666.3,632.3 1667.3,632.3 1668.3,632.2 1669.3,632.2 1670.3,632.2 1671.3,632.1 1672.3,632.1 1673.3,632 1674.3,632 1675.3,631.9 1676.3,631.9 1677.3,631.8 1678.3,631.8 1679.3,631.8 1680.3,631.7 1681.3,631.7 1682.3,631.7 1683.3,631.7 1684.3,631.6 1685.3,631.6 1686.3,631.6 1687.3,631.6 1688.3,631.6 1689.3,631.6 1690.3,631.6 1691.3,631.6 1692.3,631.6 1693.3,631.6 1694.3,631.6 1695.3,631.6 1696.3,631.6 1697.3,631.6 1698.3,631.7 1699.3,631.7 1700.3,631.7 1701.3,631.7 1702.3,631.7 1703.3,631.7 1704.3,631.7 1705.3,631.7 1706.3,631.7 1707.3,631.8 1708.3,631.8 1709.3,631.8 1710.3,631.8 1711.3,631.8 1712.3,631.8 1713.3,631.9 1714.3,631.9 1715.3,631.9 1716.3,631.9 1717.3,631.9 1718.3,632 1719.3,632 1720.3,632 1721.3,632 1722.3,632.1 1723.3,632.1 1724.3,632.1 1725.3,632.1 1726.2,632.2 1727.2,632.2 1728.2,632.3 1729.2,632.3 1730.2,632.3 1731.2,632.4 1732.2,632.4 1733.2,632.5 1734.2,632.5 1735.2,632.6 1736.2,632.6 1737.2,632.7 1738.2,632.7 1739.2,632.8 1740.2,632.8 1741.2,632.9 1742.2,632.9 1743.2,633 1744.2,633 1745.2,633.1 1746.2,633.1 1747.2,633.2 1748.2,633.3 1749.2,633.3 1750.2,633.4 1751.2,633.5 1752.2,633.6 1753.2,633.6 1754.2,633.7 1755.2,633.8 1756.2,633.9 1757.2,634 1758.2,634.1 1759.2,634.2 1760.2,634.2 1761.2,634.3 1762.2,634.4 1763.2,634.5 1764.2,634.6 1765.2,634.7 1766.2,634.8 1767.2,634.9 1768.2,635 1769.2,635.1 1770.2,635.2 1771.2,635.3 1772.2,635.4 1773.2,635.6 1774.2,635.7 1775.2,635.8 1776.2,635.9 1777.2,636 1778.2,636.1 1779.2,636.3 1780.2,636.4 1781.2,636.5 1782.2,636.7 1783.2,636.8 1784.2,636.9 1785.2,637.1 1786.2,637.2 1787.2,637.4 1788.2,637.5 1789.2,637.6 1790.2,637.8 1791.2,637.9 1792.2,638.1 1793.2,638.2 1794.2,638.3 1795.2,638.5 1796.2,638.6 1797.2,638.7 1798.2,638.9 1799.2,639 1800.2,639.1 1801.2,639.2 1802.2,639.4 1803.2,639.5 1804.2,639.6 1805.2,639.7 1806.2,639.9 1807.2,640 1808.2,640.1 1809.2,640.2 1810.2,640.3 1811.2,640.5 1812.2,640.6 1813.2,640.7 1814.2,640.8 1815.2,640.9 1816.2,641 1817.2,641.2 1818.2,641.3 1819.1,641.4 1820.1,641.5 1821.1,641.6 1822.1,641.7 1823.1,641.9 1824.1,642 1825.1,642.1 1826.1,642.2 1827.1,642.3 1828.1,642.4 1829.1,642.5 1830.1,642.6 1831.1,642.7 1832.1,642.9 1833.1,643 1834.1,643.1 1835.1,643.2 1836.1,643.3 1837.1,643.4 1838.1,643.5 1839.1,643.6 1840.1,643.7 1841.1,643.8 1842.1,643.9 1843.1,644 1844.1,644.1 1845.1,644.2 1846.1,644.3 1847.1,644.4 1848.1,644.5 1849.1,644.6 1850.1,644.7 1851.1,644.8 1852.1,644.9 1853.1,645 1854.1,645.1 1855.1,645.2 1856.1,645.3 1857.1,645.4 1858.1,645.5 1858.9,645.6 1858.9,653.7 1564.1,653.7" fill="#d1e1ec"/>
<rect x="1697.4" y="631.7" width="10" height="22" fill="#005b96"/>
<path d="M1496.5,649.3 L1498.5,649.2 L1500.5,649.1 L1502.5,648.9 L1504.5,648.8 L1506.5,648.6 L1508.5,648.4 L1510.5,648.2 L1512.5,648 L1514.5,647.8 L1516.5,647.6 L1518.5,647.4 L1520.5,647.2 L1522.5,647 L1524.5,646.8 L1526.5,646.5 L1528.5,646.3 L1530.5,646 L1532.5,645.8 L1534.5,645.5 L1536.5,645.3 L1538.5,645.1 L1540.5,644.9 L1542.5,644.7 L1544.4,644.6 L1546.4,644.4 L1548.4,644.2 L1550.4,644.1 L1552.4,643.9 L1554.4,643.7 L1556.4,643.6 L1558.4,643.4 L1560.4,643.2 L1562.4,643 L1564.4,642.7 L1566.4,642.5 L1568.4,642.2 L1570.4,641.9 L1572.4,641.6 L1574.4,641.3 L1576.4,641 L1578.4,640.7 L1580.4,640.4 L1582.4,640.1 L1584.4,639.9 L1586.4,639.6 L1588.4,639.4 L1590.4,639.1 L1592.4,638.9 L1594.4,638.6 L1596.4,638.4 L1598.4,638.2 L1600.4,638 L1602.4,637.7 L1604.4,637.5 L1606.4,637.3 L1608.4,637.1 L1610.4,636.9 L1612.4,636.7 L1614.4,636.5 L1616.4,636.2 L1618.4,636 L1620.4,635.8 L1622.4,635.6 L1624.4,635.4 L1626.4,635.2 L1628.4,635 L1630.4,634.8 L1632.4,634.6 L1634.3,634.4 L1636.3,634.2 L1638.3,634.1 L1640.3,633.9 L1642.3,633.8 L1644.3,633.6 L1646.3,633.5 L1648.3,633.3 L1650.3,633.2 L1652.3,633.1 L1654.3,633 L1656.3,632.8 L1658.3,632.7 L1660.3,632.6 L1662.3,632.5 L1664.3,632.4 L1666.3,632.3 L1668.3,632.2 L1670.3,632.2 L1672.3,632.1 L1674.3,632 L1676.3,631.9 L1678.3,631.8 L1680.3,631.7 L1682.3,631.7 L1684.3,631.6 L1686.3,631.6 L1688.3,631.6 L1690.3,631.6 L1692.3,631.6 L1694.3,631.6 L1696.3,631.6 L1698.3,631.7 L1700.3,631.7 L1702.3,631.7 L1704.3,631.7 L1706.3,631.7 L1708.3,631.8 L1710.3,631.8 L1712.3,631.8 L1714.3,631.9 L1716.3,631.9 L1718.3,632 L1720.3,632 L1722.3,632.1 L1724.3,632.1 L1726.2,632.2 L1728.2,632.3 L1730.2,632.3 L1732.2,632.4 L1734.2,632.5 L1736.2,632.6 L1738.2,632.7 L1740.2,632.8 L1742.2,632.9 L1744.2,633 L1746.2,633.1 L1748.2,633.3 L1750.2,633.4 L1752.2,633.6 L1754.2,633.7 L1756.2,633.9 L1758.2,634.1 L1760.2,634.2 L1762.2,634.4 L1764.2,634.6 L1766.2,634.8 L1768.2,635 L1770.2,635.2 L1772.2,635.4 L1774.2,635.7 L1776.2,635.9 L1778.2,636.1 L1780.2,636.4 L1782.2,636.7 L1784.2,636.9 L1786.2,637.2 L1788.2,637.5 L1790.2,637.8 L1792.2,638.1 L1794.2,638.3 L1796.2,638.6 L1798.2,638.9 L1800.2,639.1 L1802.2,639.4 L1804.2,639.6 L1806.2,639.9 L1808.2,640.1 L1810.2,640.3 L1812.2,640.6 L1814.2,640.8 L1816.2,641 L1818.2,641.3 L1820.1,641.5 L1822.1,641.7 L1824.1,642 L1826.1,642.2 L1828.1,642.4 L1830.1,642.6 L1832.1,642.9 L1834.1,643.1 L1836.1,643.3 L1838.1,643.5 L1840.1,643.7 L1842.1,643.9 L1844.1,644.1 L1846.1,644.3 L1848.1,644.5 L1850.1,644.7 L1852.1,644.9 L1854.1,645.1 L1856.1,645.3 L1858.1,645.5 L1860.1,645.7 L1862.1,645.9 L1864.1,646.2 L1866.1,646.4 L1868.1,646.6 L1870.1,646.8 L1872.1,647 L1874.1,647.2 L1876.1,647.4 L1878.1,647.5 L1880.1,647.7 L1882.1,647.9 L1884.1,648 L1886.1,648.1 L1888.1,648.3 L1890.1,648.4 L1892.1,648.5 L1894.1,648.6 L1896.1,648.7 L1898.1,648.8 L1900.1,648.9 L1902.1,649 L1904.1,649.1 L1906.1,649.2 L1908.1,649.2 L1910,649.3 L1912,649.4 L1914,649.5 L1916,649.6 L1918,649.6 L1920,649.7 L1922,649.8 L1924,649.8 L1926,649.9 L1928,649.9 L1930,650 L1932,650.1 L1934,650.1 L1936,650.2 L1938,650.2 L1940,650.3 L1942,650.4 L1944,650.4 L1946,650.5 L1948,650.6 L1950,650.6 L1952,650.7 L1954,650.7 L1956,650.8" fill="none" stroke="#03396c" stroke-width="4.7" stroke-linecap="round" stroke-linejoin="round"/>
<line x1="1496.5" y1="653.7" x2="1956" y2="653.7" stroke="#03396c" stroke-width="4.7"/>
<rect x="689" y="649" width="13" height="10" fill="#333333"/>
<text x="680.5" y="667.5" text-anchor="end" font-family="&quot;Liberation Serif&quot;, serif" font-weight="bold" font-size="40.2" fill="#4d4d4d" stroke="#4d4d4d" stroke-width="0.7">Nervous System</text>
<polygon points="1174.2,718.8 1175,718.6 1176,718.4 1177,718.1 1178,717.9 1179,717.6 1180,717.3 1181,717 1182,716.7 1183,716.4 1184,716.1 1185,715.8 1186,715.5 1187,715.2 1188,714.9 1189,714.5 1190,714.2 1191,713.9 1192,713.6 1193,713.3 1194,713 1195,712.6 1196,712.3 1197,712 1198,711.6 1199,711.3 1200,711 1201,710.6 1202,710.3 1203,710 1204,709.7 1205,709.3 1206,709 1207,708.7 1208,708.4 1209,708.1 1210,707.8 1211,707.5 1212,707.2 1213,706.9 1214,706.6 1215,706.2 1216,706 1217,705.7 1218,705.4 1219,705.1 1220,704.8 1221,704.5 1222,704.3 1223,704 1224,703.7 1225,703.5 1226,703.2 1227,702.9 1228,702.7 1229,702.4 1230,702.1 1231,701.9 1232,701.7 1233,701.4 1234,701.2 1235,701 1236,700.8 1237,700.7 1238,700.5 1239,700.4 1240,700.3 1241,700.2 1242,700.2 1243,700.1 1244,700 1245,699.9 1246,699.9 1247,699.8 1248,699.7 1249,699.7 1250,699.6 1251,699.6 1252,699.6 1253,699.5 1254,699.5 1255,699.5 1256,699.5 1257,699.5 1258,699.5 1259,699.5 1260,699.5 1261,699.5 1262,699.5 1263,699.5 1264.1,699.5 1265.1,699.5 1266.1,699.5 1267.1,699.5 1268.1,699.5 1269.1,699.5 1270.1,699.5 1271.1,699.5 1272.1,699.5 1273.1,699.5 1274.1,699.5 1275.1,699.5 1276.1,699.5 1277.1,699.5 1278.1,699.5 1279.1,699.5 1280.1,699.5 1281.1,699.6 1282.1,699.6 1283.1,699.7 1284.1,699.8 1285.1,700 1286.1,700.1 1287.1,700.3 1288.1,700.5 1289.1,700.6 1290.1,700.8 1291.1,701 1292.1,701.2 1293.1,701.3 1294.1,701.5 1295.1,701.7 1296.1,701.8 1297.1,702 1298.1,702.2 1299.1,702.4 1300.1,702.6 1301.1,702.8 1302.1,703 1303.1,703.2 1304.1,703.4 1305.1,703.6 1306.1,703.8 1307.1,704 1308.1,704.2 1309.1,704.4 1310.1,704.6 1311.1,704.9 1312.1,705.1 1313.1,705.3 1314.1,705.6 1315.1,705.8 1316.1,706 1317.1,706.3 1318.1,706.6 1319.1,706.8 1320.1,707.1 1321.1,707.4 1322.1,707.6 1323.1,707.9 1324.1,708.2 1325.1,708.5 1326.1,708.7 1327.1,709 1328.1,709.3 1329.1,709.6 1330.1,709.9 1331.1,710.1 1332.1,710.4 1333.1,710.7 1334.1,711 1335.1,711.3 1336.1,711.6 1337.1,711.8 1338.1,712.1 1339.1,712.4 1340.1,712.7 1341.1,713 1342.1,713.3 1343.1,713.6 1344.1,713.9 1345.1,714.2 1346.1,714.5 1347.1,714.8 1348.1,715.1 1349.1,715.4 1350.1,715.7 1351.1,716 1352.1,716.3 1353.1,716.6 1354.1,716.9 1355.1,717.1 1355.9,717.4 1355.9,733.5 1174.2,733.5" fill="#d1e1ec"/>
<rect x="1261" y="699.5" width="10" height="34" fill="#005b96"/>
<path d="M1122,728.7 L1124,728.3 L1126,727.8 L1128,727.3 L1130,726.8 L1132,726.3 L1134,725.8 L1136,725.3 L1138,724.9 L1140,724.4 L1142,723.9 L1144,723.5 L1146,723.1 L1148,722.7 L1150,722.4 L1152,722.1 L1154,721.8 L1156,721.5 L1158,721.2 L1160,721 L1162,720.7 L1164,720.4 L1166,720.2 L1168,719.9 L1170,719.6 L1172,719.2 L1174,718.8 L1176,718.4 L1178,717.9 L1180,717.3 L1182,716.7 L1184,716.1 L1186,715.5 L1188,714.9 L1190,714.2 L1192,713.6 L1194,713 L1196,712.3 L1198,711.6 L1200,711 L1202,710.3 L1204,709.7 L1206,709 L1208,708.4 L1210,707.8 L1212,707.2 L1214,706.6 L1216,706 L1218,705.4 L1220,704.8 L1222,704.3 L1224,703.7 L1226,703.2 L1228,702.7 L1230,702.1 L1232,701.7 L1234,701.2 L1236,700.8 L1238,700.5 L1240,700.3 L1242,700.2 L1244,700 L1246,699.9 L1248,699.7 L1250,699.6 L1252,699.6 L1254,699.5 L1256,699.5 L1258,699.5 L1260,699.5 L1262,699.5 L1264.1,699.5 L1266.1,699.5 L1268.1,699.5 L1270.1,699.5 L1272.1,699.5 L1274.1,699.5 L1276.1,699.5 L1278.1,699.5 L1280.1,699.5 L1282.1,699.6 L1284.1,699.8 L1286.1,700.1 L1288.1,700.5 L1290.1,700.8 L1292.1,701.2 L1294.1,701.5 L1296.1,701.8 L1298.1,702.2 L1300.1,702.6 L1302.1,703 L1304.1,703.4 L1306.1,703.8 L1308.1,704.2 L1310.1,704.6 L1312.1,705.1 L1314.1,705.6 L1316.1,706 L1318.1,706.6 L1320.1,707.1 L1322.1,707.6 L1324.1,708.2 L1326.1,708.7 L1328.1,709.3 L1330.1,709.9 L1332.1,710.4 L1334.1,711 L1336.1,711.6 L1338.1,712.1 L1340.1,712.7 L1342.1,713.3 L1344.1,713.9 L1346.1,714.5 L1348.1,715.1 L1350.1,715.7 L1352.1,716.3 L1354.1,716.9 L1356.1,717.4 L1358.1,718.1 L1360.1,718.7 L1362.1,719.3 L1364.1,719.9 L1366.1,720.5 L1368.1,721.1 L1370.1,721.7 L1372.1,722.2 L1374.1,722.7 L1376.1,723.2 L1378.1,723.6 L1380.1,724.1 L1382.1,724.5 L1384.1,724.9 L1386.1,725.3 L1388.1,725.7 L1390.1,726.1 L1392.1,726.5 L1394.1,726.8 L1396.1,727.2 L1398.1,727.5 L1400.1,727.9 L1402.1,728.2 L1404.1,728.4" fill="none" stroke="#03396c" stroke-width="4.7" stroke-linecap="round" stroke-linejoin="round"/>
<line x1="1122" y1="733.5" x2="1404.1" y2="733.5" stroke="#03396c" stroke-width="4.7"/>
<rect x="689" y="729" width="13" height="10" fill="#333333"/>
<text x="680.5" y="747.5" text-anchor="end" font-family="&quot;Liberation Serif&quot;, serif" font-weight="bold" font-size="40.2" fill="#4d4d4d" stroke="#4d4d4d" stroke-width="0.7">Eye and Adnexa</text>
<polygon points="1126.2,805.6 1126.6,805.6 1127.6,805.5 1128.6,805.4 1129.6,805.4 1130.6,805.3 1131.6,805.2 1132.6,805.2 1133.6,805.1 1134.6,805 1135.6,805 1136.6,804.9 1137.6,804.8 1138.6,804.7 1139.6,804.7 1140.6,804.6 1141.6,804.5 1142.6,804.4 1143.6,804.4 1144.6,804.3 1145.6,804.2 1146.6,804.1 1147.6,804 1148.6,804 1149.6,803.9 1150.6,803.8 1151.6,803.7 1152.6,803.6 1153.6,803.5 1154.6,803.4 1155.6,803.3 1156.6,803.2 1157.6,803.1 1158.6,803 1159.6,802.9 1160.6,802.8 1161.6,802.7 1162.6,802.6 1163.6,802.5 1164.6,802.4 1165.6,802.3 1166.6,802.2 1167.6,802.1 1168.6,802 1169.6,801.9 1170.6,801.8 1171.6,801.7 1172.6,801.6 1173.6,801.5 1174.6,801.4 1175.6,801.3 1176.6,801.2 1177.6,801.1 1178.6,801 1179.6,800.9 1180.6,800.8 1181.6,800.7 1182.6,800.6 1183.6,800.5 1184.7,800.4 1185.7,800.3 1186.7,800.2 1187.7,800.1 1188.7,800 1189.7,799.9 1190.7,799.8 1191.7,799.7 1192.7,799.6 1193.7,799.5 1194.7,799.4 1195.7,799.3 1196.7,799.2 1197.7,799.1 1198.7,799 1199.7,798.9 1200.7,798.8 1201.7,798.7 1202.7,798.6 1203.7,798.5 1204.7,798.4 1205.7,798.3 1206.7,798.2 1207.7,798.1 1208.7,798 1209.7,797.9 1210.7,797.8 1211.7,797.6 1212.7,797.5 1213.7,797.5 1214.7,797.4 1215.7,797.3 1216.7,797.2 1217.7,797.1 1218.7,797 1219.7,796.9 1220.7,796.8 1221.7,796.7 1222.7,796.6 1223.7,796.5 1224.7,796.5 1225.7,796.4 1226.7,796.3 1227.7,796.2 1228.7,796.1 1229.7,796.1 1230.7,796 1231.7,795.9 1232.7,795.8 1233.7,795.7 1234.7,795.7 1235.7,795.6 1236.7,795.5 1237.7,795.4 1238.7,795.4 1239.7,795.3 1240.7,795.2 1241.7,795.2 1242.7,795.1 1243.7,795.1 1244.7,795 1245.7,794.9 1246.7,794.9 1247.7,794.8 1248.7,794.8 1249.7,794.8 1250.7,794.7 1251.7,794.7 1252.7,794.6 1253.7,794.6 1254.7,794.6 1255.7,794.5 1256.7,794.5 1257.7,794.5 1258.7,794.4 1259.7,794.4 1260.7,794.4 1261.7,794.3 1262.7,794.3 1263.7,794.3 1264.7,794.3 1265.7,794.2 1266.7,794.2 1267.7,794.2 1268.7,794.2 1269.7,794.2 1270.7,794.1 1271.7,794.1 1272.7,794.1 1273.7,794.1 1274.7,794.1 1275.7,794 1276.7,794 1277.7,794 1278.7,794 1279.7,794 1280.7,794 1281.7,794 1282.7,794 1283.7,793.9 1284.7,793.9 1285.7,793.9 1286.7,793.9 1287.7,793.9 1288.7,793.9 1289.8,793.9 1290.8,793.9 1291.8,793.9 1292.8,793.9 1293.8,793.9 1294.8,793.8 1295.8,793.8 1296.8,793.8 1297.8,793.8 1298.8,793.8 1299.8,793.8 1300.8,793.8 1301.8,793.8 1302.8,793.8 1303.8,793.8 1304.8,793.8 1305.8,793.8 1306.8,793.8 1307.8,793.8 1308.8,793.8 1309.8,793.8 1310.8,793.8 1311.8,793.8 1312.8,793.8 1313.8,793.8 1314.8,793.8 1315.8,793.9 1316.8,793.9 1317.8,793.9 1318.8,793.9 1319.8,793.9 1320.8,793.9 1321.8,793.9 1322.8,794 1323.8,794 1324.8,794 1325.8,794 1326.8,794 1327.8,794.1 1328.8,794.1 1329.8,794.2 1330.8,794.2 1331.8,794.3 1332.8,794.3 1333.8,794.4 1334.8,794.4 1335.8,794.5 1336.8,794.6 1337.8,794.6 1338.8,794.7 1339.8,794.8 1340.8,794.9 1341.8,794.9 1342.8,795 1343.8,795.1 1344.8,795.2 1345.8,795.2 1346.8,795.3 1347.8,795.4 1348.8,795.5 1349.8,795.6 1350.8,795.7 1351.8,795.8 1352.8,795.9 1353.8,796 1354.8,796.1 1355.8,796.2 1356.8,796.3 1357.8,796.4 1358.8,796.5 1359.8,796.7 1360.8,796.8 1361.8,796.9 1362.8,797 1363.8,797.1 1364.8,797.2 1365.8,797.3 1366.8,797.4 1367.8,797.5 1368.8,797.6 1369.8,797.7 1370.8,797.8 1371.8,797.9 1372.8,798 1373.8,798.1 1374.8,798.2 1375.8,798.3 1376.8,798.3 1377.8,798.4 1378.8,798.5 1379.8,798.5 1380.8,798.6 1381.8,798.7 1382.8,798.7 1383.8,798.8 1384.8,798.9 1385.8,798.9 1386.8,799 1387.8,799 1388.8,799.1 1389.8,799.1 1390.8,799.2 1391.8,799.3 1392.8,799.3 1393.8,799.4 1394.8,799.4 1395.9,799.5 1396.9,799.6 1397.9,799.6 1398.9,799.7 1399.9,799.8 1400.9,799.8 1401.9,799.9 1402.9,800 1403.9,800.1 1404.9,800.2 1405.9,800.2 1406.9,800.3 1407.9,800.4 1408.9,800.5 1409.9,800.6 1410.9,800.7 1411.9,800.8 1412.9,800.9 1413.9,801 1414.9,801.1 1415.9,801.2 1416.9,801.3 1417.9,801.4 1418.9,801.5 1419.9,801.6 1420.9,801.7 1421.9,801.8 1422.9,801.9 1423.9,802.1 1424.9,802.2 1425.9,802.3 1426.9,802.4 1427.9,802.5 1428.9,802.6 1429.9,802.7 1430.9,802.8 1431.9,802.9 1432.9,803 1433.9,803.1 1434.9,803.2 1435.9,803.3 1436.9,803.4 1437.9,803.5 1438.9,803.7 1439.9,803.8 1440.9,803.9 1441.9,804 1442.9,804.1 1443.9,804.2 1444.9,804.3 1445.9,804.4 1446.9,804.5 1447.9,804.6 1448.9,804.8 1449.9,804.9 1450.9,805 1451.9,805.1 1452.9,805.2 1453.9,805.3 1454.9,805.4 1455.9,805.5 1456.9,805.6 1457,805.6 1457,813.6 1126.2,813.6" fill="#d1e1ec"/>
<rect x="1288.6" y="793.9" width="10" height="19.7" fill="#005b96"/>
<path d="M1026.5,811.1 L1028.5,811.1 L1030.5,811 L1032.5,810.9 L1034.5,810.7 L1036.5,810.6 L1038.5,810.5 L1040.5,810.4 L1042.5,810.3 L1044.5,810.2 L1046.5,810.1 L1048.5,810 L1050.5,809.9 L1052.5,809.8 L1054.5,809.7 L1056.5,809.6 L1058.5,809.5 L1060.5,809.4 L1062.5,809.3 L1064.5,809.2 L1066.5,809.1 L1068.5,809.1 L1070.5,809 L1072.5,808.9 L1074.5,808.8 L1076.5,808.7 L1078.5,808.5 L1080.6,808.4 L1082.6,808.3 L1084.6,808.2 L1086.6,808 L1088.6,807.9 L1090.6,807.8 L1092.6,807.6 L1094.6,807.5 L1096.6,807.4 L1098.6,807.3 L1100.6,807.1 L1102.6,807 L1104.6,806.9 L1106.6,806.8 L1108.6,806.7 L1110.6,806.6 L1112.6,806.4 L1114.6,806.3 L1116.6,806.2 L1118.6,806.1 L1120.6,806 L1122.6,805.8 L1124.6,805.7 L1126.6,805.6 L1128.6,805.4 L1130.6,805.3 L1132.6,805.2 L1134.6,805 L1136.6,804.9 L1138.6,804.7 L1140.6,804.6 L1142.6,804.4 L1144.6,804.3 L1146.6,804.1 L1148.6,804 L1150.6,803.8 L1152.6,803.6 L1154.6,803.4 L1156.6,803.2 L1158.6,803 L1160.6,802.8 L1162.6,802.6 L1164.6,802.4 L1166.6,802.2 L1168.6,802 L1170.6,801.8 L1172.6,801.6 L1174.6,801.4 L1176.6,801.2 L1178.6,801 L1180.6,800.8 L1182.6,800.6 L1184.7,800.4 L1186.7,800.2 L1188.7,800 L1190.7,799.8 L1192.7,799.6 L1194.7,799.4 L1196.7,799.2 L1198.7,799 L1200.7,798.8 L1202.7,798.6 L1204.7,798.4 L1206.7,798.2 L1208.7,798 L1210.7,797.8 L1212.7,797.5 L1214.7,797.4 L1216.7,797.2 L1218.7,797 L1220.7,796.8 L1222.7,796.6 L1224.7,796.5 L1226.7,796.3 L1228.7,796.1 L1230.7,796 L1232.7,795.8 L1234.7,795.7 L1236.7,795.5 L1238.7,795.4 L1240.7,795.2 L1242.7,795.1 L1244.7,795 L1246.7,794.9 L1248.7,794.8 L1250.7,794.7 L1252.7,794.6 L1254.7,794.6 L1256.7,794.5 L1258.7,794.4 L1260.7,794.4 L1262.7,794.3 L1264.7,794.3 L1266.7,794.2 L1268.7,794.2 L1270.7,794.1 L1272.7,794.1 L1274.7,794.1 L1276.7,794 L1278.7,794 L1280.7,794 L1282.7,794 L1284.7,793.9 L1286.7,793.9 L1288.7,793.9 L1290.8,793.9 L1292.8,793.9 L1294.8,793.8 L1296.8,793.8 L1298.8,793.8 L1300.8,793.8 L1302.8,793.8 L1304.8,793.8 L1306.8,793.8 L1308.8,793.8 L1310.8,793.8 L1312.8,793.8 L1314.8,793.8 L1316.8,793.9 L1318.8,793.9 L1320.8,793.9 L1322.8,794 L1324.8,794 L1326.8,794 L1328.8,794.1 L1330.8,794.2 L1332.8,794.3 L1334.8,794.4 L1336.8,794.6 L1338.8,794.7 L1340.8,794.9 L1342.8,795 L1344.8,795.2 L1346.8,795.3 L1348.8,795.5 L1350.8,795.7 L1352.8,795.9 L1354.8,796.1 L1356.8,796.3 L1358.8,796.5 L1360.8,796.8 L1362.8,797 L1364.8,797.2 L1366.8,797.4 L1368.8,797.6 L1370.8,797.8 L1372.8,798 L1374.8,798.2 L1376.8,798.3 L1378.8,798.5 L1380.8,798.6 L1382.8,798.7 L1384.8,798.9 L1386.8,799 L1388.8,799.1 L1390.8,799.2 L1392.8,799.3 L1394.8,799.4 L1396.9,799.6 L1398.9,799.7 L1400.9,799.8 L1402.9,800 L1404.9,800.2 L1406.9,800.3 L1408.9,800.5 L1410.9,800.7 L1412.9,800.9 L1414.9,801.1 L1416.9,801.3 L1418.9,801.5 L1420.9,801.7 L1422.9,801.9 L1424.9,802.2 L1426.9,802.4 L1428.9,802.6 L1430.9,802.8 L1432.9,803 L1434.9,803.2 L1436.9,803.4 L1438.9,803.7 L1440.9,803.9 L1442.9,804.1 L1444.9,804.3 L1446.9,804.5 L1448.9,804.8 L1450.9,805 L1452.9,805.2 L1454.9,805.4 L1456.9,805.6 L1458.9,805.8 L1460.9,806 L1462.9,806.2 L1464.9,806.4 L1466.9,806.6 L1468.9,806.8 L1470.9,807 L1472.9,807.1 L1474.9,807.3 L1476.9,807.5 L1478.9,807.6 L1480.9,807.7 L1482.9,807.8 L1484.9,807.9 L1486.9,808.1 L1488.9,808.2 L1490.9,808.3 L1492.9,808.4 L1494.9,808.5 L1496.9,808.5 L1498.9,808.6 L1501,808.7 L1503,808.8 L1505,808.9 L1507,809 L1509,809 L1511,809.1 L1513,809.1 L1515,809.2 L1517,809.3 L1519,809.3 L1521,809.4 L1523,809.4 L1525,809.5 L1527,809.6 L1529,809.6 L1531,809.7 L1533,809.8 L1535,809.9 L1537,810 L1539,810.1 L1541,810.2 L1543,810.4 L1545,810.5 L1547,810.7 L1549,810.9 L1551,811 L1553,811.1" fill="none" stroke="#03396c" stroke-width="4.7" stroke-linecap="round" stroke-linejoin="round"/>
<line x1="1026.5" y1="813.6" x2="1553" y2="813.6" stroke="#03396c" stroke-width="4.7"/>
<rect x="689" y="809" width="13" height="10" fill="#333333"/>
<text x="680.5" y="827.5" text-anchor="end" font-family="&quot;Liberation Serif&quot;, serif" font-weight="bold" font-size="40.2" fill="#4d4d4d" stroke="#4d4d4d" stroke-width="0.7">Ear and Mastoid</text>
<polygon points="1056.5,885.2 1057.1,885.1 1058.1,885.1 1059.1,885 1060.1,884.9 1061.1,884.8 1062.1,884.7 1063.1,884.6 1064.1,884.4 1065.1,884.3 1066.1,884.2 1067.1,884.1 1068.1,884 1069.1,883.8 1070.1,883.7 1071.1,883.6 1072.1,883.5 1073.1,883.4 1074.1,883.2 1075.1,883.1 1076.1,883 1077.1,882.9 1078.1,882.8 1079.1,882.6 1080.1,882.5 1081.1,882.4 1082.1,882.3 1083.1,882.2 1084.1,882.1 1085.1,882 1086.1,881.9 1087.1,881.8 1088.1,881.7 1089.1,881.6 1090.1,881.5 1091.1,881.4 1092.1,881.3 1093.1,881.2 1094.1,881.1 1095.1,881 1096.1,880.9 1097.1,880.8 1098.1,880.7 1099.1,880.6 1100.1,880.5 1101.1,880.4 1102.1,880.3 1103.1,880.2 1104.1,880.1 1105.1,880 1106.1,879.9 1107.1,879.8 1108.1,879.7 1109.1,879.6 1110.1,879.5 1111.1,879.4 1112.1,879.3 1113.1,879.2 1114.1,879.1 1115.1,879 1116.1,878.9 1117.1,878.8 1118.1,878.7 1119.1,878.6 1120.1,878.5 1121.1,878.4 1122.1,878.3 1123.1,878.2 1124.1,878.1 1125.1,878 1126.1,877.9 1127.1,877.8 1128.1,877.7 1129.1,877.6 1130.1,877.5 1131.1,877.4 1132.1,877.3 1133.1,877.2 1134.2,877.1 1135.2,877 1136.2,876.9 1137.2,876.8 1138.2,876.7 1139.2,876.6 1140.2,876.5 1141.2,876.4 1142.2,876.4 1143.2,876.3 1144.2,876.2 1145.2,876.1 1146.2,876 1147.2,875.9 1148.2,875.8 1149.2,875.7 1150.2,875.6 1151.2,875.5 1152.2,875.4 1153.2,875.3 1154.2,875.2 1155.2,875.1 1156.2,875 1157.2,874.9 1158.2,874.8 1159.2,874.8 1160.2,874.7 1161.2,874.6 1162.2,874.5 1163.2,874.4 1164.2,874.3 1165.2,874.2 1166.2,874.1 1167.2,874 1168.2,873.9 1169.2,873.8 1170.2,873.7 1171.2,873.6 1172.2,873.5 1173.2,873.4 1174.2,873.3 1175.2,873.2 1176.2,873 1177.2,872.9 1178.2,872.8 1179.2,872.8 1180.2,872.7 1181.2,872.6 1182.2,872.5 1183.2,872.4 1184.2,872.3 1185.2,872.2 1186.2,872.2 1187.2,872.1 1188.2,872 1189.2,872 1190.2,871.9 1191.2,871.9 1192.2,871.9 1193.2,871.8 1194.2,871.8 1195.2,871.7 1196.2,871.7 1197.2,871.7 1198.2,871.6 1199.2,871.6 1200.2,871.6 1201.2,871.5 1202.2,871.5 1203.2,871.5 1204.2,871.4 1205.2,871.4 1206.2,871.4 1207.2,871.4 1208.2,871.3 1209.2,871.3 1210.2,871.3 1211.2,871.3 1212.2,871.3 1213.2,871.2 1214.2,871.2 1215.2,871.2 1216.2,871.2 1217.2,871.2 1218.2,871.2 1219.2,871.2 1220.2,871.2 1221.2,871.2 1222.2,871.2 1223.2,871.2 1224.2,871.2 1225.2,871.2 1226.2,871.2 1227.2,871.3 1228.2,871.3 1229.2,871.3 1230.2,871.3 1231.2,871.3 1232.2,871.3 1233.2,871.4 1234.2,871.4 1235.2,871.4 1236.2,871.4 1237.2,871.5 1238.2,871.5 1239.2,871.5 1240.2,871.5 1241.2,871.6 1242.2,871.6 1243.2,871.6 1244.2,871.7 1245.3,871.7 1246.3,871.7 1247.3,871.8 1248.3,871.9 1249.3,871.9 1250.3,872 1251.3,872.1 1252.3,872.1 1253.3,872.2 1254.3,872.3 1255.3,872.4 1256.3,872.5 1257.3,872.6 1258.3,872.7 1259.3,872.7 1260.3,872.8 1261.3,872.9 1262.3,873 1263.3,873.1 1264.3,873.2 1265.3,873.3 1266.3,873.4 1267.3,873.4 1268.3,873.5 1269.3,873.6 1270.3,873.7 1271.3,873.7 1272.3,873.8 1273.3,873.9 1274.3,874 1275.3,874.1 1276.3,874.2 1277.3,874.3 1278.3,874.4 1279.3,874.5 1280.3,874.6 1281.3,874.7 1282.3,874.9 1283.3,875 1284.3,875.1 1285.3,875.3 1286.3,875.4 1287.3,875.6 1288.3,875.7 1289.3,875.9 1290.3,876 1291.3,876.1 1292.3,876.3 1293.3,876.4 1294.3,876.6 1295.3,876.7 1296.3,876.9 1297.3,877 1298.3,877.1 1299.3,877.3 1300.3,877.4 1301.3,877.5 1302.3,877.7 1303.3,877.8 1304.3,877.9 1305.3,878.1 1306.3,878.2 1307.3,878.4 1308.3,878.5 1309.3,878.6 1310.3,878.8 1311.3,878.9 1312.3,879 1313.3,879.2 1314.3,879.3 1315.3,879.5 1316.3,879.6 1317.3,879.7 1318.3,879.9 1319.3,880 1320.3,880.2 1321.3,880.3 1322.3,880.4 1323.3,880.6 1324.3,880.7 1325.3,880.8 1326.3,881 1327.3,881.1 1328.3,881.3 1329.3,881.4 1330.3,881.5 1331.3,881.7 1332.3,881.8 1333.3,881.9 1334.3,882.1 1335.3,882.2 1336.3,882.3 1337.3,882.5 1338.3,882.6 1339.3,882.8 1339.9,882.8 1339.9,893.6 1056.5,893.6" fill="#d1e1ec"/>
<rect x="1202.5" y="871.4" width="10" height="22.2" fill="#005b96"/>
<path d="M966,890.6 L968,890.5 L970,890.4 L972,890.3 L974,890.3 L976,890.2 L978,890.1 L980,890 L982,889.9 L984,889.8 L986,889.7 L988,889.6 L990,889.5 L992,889.4 L994,889.3 L996,889.2 L998,889.1 L1000,889 L1002,888.8 L1004,888.7 L1006,888.6 L1008,888.5 L1010,888.4 L1012,888.2 L1014,888.1 L1016,888 L1018,887.8 L1020,887.7 L1022.1,887.6 L1024.1,887.4 L1026.1,887.2 L1028.1,887.1 L1030.1,886.9 L1032.1,886.8 L1034.1,886.6 L1036.1,886.5 L1038.1,886.4 L1040.1,886.3 L1042.1,886.1 L1044.1,886 L1046.1,885.9 L1048.1,885.8 L1050.1,885.7 L1052.1,885.5 L1054.1,885.4 L1056.1,885.2 L1058.1,885.1 L1060.1,884.9 L1062.1,884.7 L1064.1,884.4 L1066.1,884.2 L1068.1,884 L1070.1,883.7 L1072.1,883.5 L1074.1,883.2 L1076.1,883 L1078.1,882.8 L1080.1,882.5 L1082.1,882.3 L1084.1,882.1 L1086.1,881.9 L1088.1,881.7 L1090.1,881.5 L1092.1,881.3 L1094.1,881.1 L1096.1,880.9 L1098.1,880.7 L1100.1,880.5 L1102.1,880.3 L1104.1,880.1 L1106.1,879.9 L1108.1,879.7 L1110.1,879.5 L1112.1,879.3 L1114.1,879.1 L1116.1,878.9 L1118.1,878.7 L1120.1,878.5 L1122.1,878.3 L1124.1,878.1 L1126.1,877.9 L1128.1,877.7 L1130.1,877.5 L1132.1,877.3 L1134.2,877.1 L1136.2,876.9 L1138.2,876.7 L1140.2,876.5 L1142.2,876.4 L1144.2,876.2 L1146.2,876 L1148.2,875.8 L1150.2,875.6 L1152.2,875.4 L1154.2,875.2 L1156.2,875 L1158.2,874.8 L1160.2,874.7 L1162.2,874.5 L1164.2,874.3 L1166.2,874.1 L1168.2,873.9 L1170.2,873.7 L1172.2,873.5 L1174.2,873.3 L1176.2,873 L1178.2,872.8 L1180.2,872.7 L1182.2,872.5 L1184.2,872.3 L1186.2,872.2 L1188.2,872 L1190.2,871.9 L1192.2,871.9 L1194.2,871.8 L1196.2,871.7 L1198.2,871.6 L1200.2,871.6 L1202.2,871.5 L1204.2,871.4 L1206.2,871.4 L1208.2,871.3 L1210.2,871.3 L1212.2,871.3 L1214.2,871.2 L1216.2,871.2 L1218.2,871.2 L1220.2,871.2 L1222.2,871.2 L1224.2,871.2 L1226.2,871.2 L1228.2,871.3 L1230.2,871.3 L1232.2,871.3 L1234.2,871.4 L1236.2,871.4 L1238.2,871.5 L1240.2,871.5 L1242.2,871.6 L1244.2,871.7 L1246.3,871.7 L1248.3,871.9 L1250.3,872 L1252.3,872.1 L1254.3,872.3 L1256.3,872.5 L1258.3,872.7 L1260.3,872.8 L1262.3,873 L1264.3,873.2 L1266.3,873.4 L1268.3,873.5 L1270.3,873.7 L1272.3,873.8 L1274.3,874 L1276.3,874.2 L1278.3,874.4 L1280.3,874.6 L1282.3,874.9 L1284.3,875.1 L1286.3,875.4 L1288.3,875.7 L1290.3,876 L1292.3,876.3 L1294.3,876.6 L1296.3,876.9 L1298.3,877.1 L1300.3,877.4 L1302.3,877.7 L1304.3,877.9 L1306.3,878.2 L1308.3,878.5 L1310.3,878.8 L1312.3,879 L1314.3,879.3 L1316.3,879.6 L1318.3,879.9 L1320.3,880.2 L1322.3,880.4 L1324.3,880.7 L1326.3,881 L1328.3,881.3 L1330.3,881.5 L1332.3,881.8 L1334.3,882.1 L1336.3,882.3 L1338.3,882.6 L1340.3,882.9 L1342.3,883.1 L1344.3,883.4 L1346.3,883.7 L1348.3,883.9 L1350.3,884.2 L1352.3,884.5 L1354.3,884.7 L1356.3,885 L1358.4,885.2 L1360.4,885.5 L1362.4,885.8 L1364.4,886 L1366.4,886.3 L1368.4,886.6 L1370.4,886.9 L1372.4,887.1 L1374.4,887.4 L1376.4,887.6 L1378.4,887.9 L1380.4,888 L1382.4,888.2 L1384.4,888.4 L1386.4,888.5 L1388.4,888.7 L1390.4,888.9 L1392.4,889 L1394.4,889.2 L1396.4,889.3 L1398.4,889.4 L1400.4,889.5 L1402.4,889.6 L1404.4,889.7 L1406.4,889.8 L1408.4,889.9 L1410.4,889.9 L1412.4,890" fill="none" stroke="#03396c" stroke-width="4.7" stroke-linecap="round" stroke-linejoin="round"/>
<line x1="966" y1="893.6" x2="1412.4" y2="893.6" stroke="#03396c" stroke-width="4.7"/>
<rect x="689" y="889" width="13" height="10" fill="#333333"/>
<text x="680.5" y="907.5" text-anchor="end" font-family="&quot;Liberation Serif&quot;, serif" font-weight="bold" font-size="40.2" fill="#4d4d4d" stroke="#4d4d4d" stroke-width="0.7">Circulatory</text>
<polygon points="1103.1,965.6 1104,965.5 1105,965.4 1106,965.4 1107,965.3 1108,965.2 1109,965.1 1110,965 1111,964.9 1112,964.8 1113,964.7 1114,964.6 1115,964.5 1116,964.4 1117,964.3 1118,964.1 1119,964 1120,963.9 1121,963.8 1122,963.7 1123,963.6 1124,963.5 1125,963.4 1126,963.2 1127,963.1 1128,963 1129,962.9 1130,962.8 1131,962.7 1132,962.6 1133,962.4 1134,962.3 1135,962.2 1136,962.1 1137,962 1138,961.8 1139,961.7 1140,961.6 1141,961.5 1142,961.4 1143,961.2 1144,961.1 1145,961 1146,960.9 1147,960.8 1148,960.6 1149,960.5 1150,960.4 1151,960.3 1152,960.2 1153,960 1154,959.9 1155,959.8 1156,959.7 1157,959.6 1158,959.5 1159,959.4 1160,959.3 1161,959.2 1162,959.1 1163,958.9 1164,958.8 1165,958.7 1166,958.6 1167,958.5 1168,958.4 1169,958.3 1170,958.2 1171,958.1 1172,958 1173,957.8 1174,957.7 1175,957.6 1176,957.5 1177,957.4 1178,957.2 1179,957.1 1180,957 1181,956.9 1182,956.7 1183,956.6 1184,956.5 1185,956.3 1186,956.2 1187,956.1 1188,956 1189,955.9 1190,955.7 1191,955.6 1192,955.5 1193,955.4 1194,955.3 1195,955.2 1196,955.1 1197,955 1198,954.9 1199,954.8 1200,954.7 1201,954.6 1202,954.6 1203,954.5 1204,954.4 1205,954.3 1206,954.2 1207,954.1 1208,954 1209,954 1210,953.9 1211,953.8 1212,953.7 1213,953.7 1214,953.6 1215,953.5 1216,953.5 1217,953.4 1218,953.3 1219,953.3 1220,953.2 1221,953.2 1222,953.1 1223,953.1 1224,953.1 1225,953 1226,953 1227,953 1228,953 1229,952.9 1230,952.9 1231,952.9 1232,952.9 1233,952.8 1234,952.8 1235,952.8 1236,952.8 1237,952.8 1238,952.8 1239,952.7 1240,952.7 1241,952.7 1242,952.7 1243,952.7 1244,952.7 1245,952.7 1246,952.6 1247,952.6 1248,952.6 1249,952.6 1250,952.6 1251,952.6 1252,952.6 1253,952.6 1254,952.6 1255,952.6 1256,952.6 1257,952.6 1258,952.6 1259,952.6 1260,952.6 1261,952.6 1262,952.7 1263,952.7 1264,952.7 1265,952.7 1266,952.7 1267,952.7 1268,952.7 1269,952.7 1270,952.8 1271,952.8 1272,952.8 1273,952.8 1274,952.8 1275,952.9 1276,952.9 1277,952.9 1278,952.9 1279,952.9 1280,953 1281,953 1282,953 1283,953 1284,953.1 1285,953.1 1286,953.1 1287,953.1 1288,953.2 1289,953.2 1290,953.2 1291,953.2 1292,953.3 1293,953.3 1294,953.3 1295,953.4 1296,953.4 1297,953.4 1298,953.5 1299,953.5 1300,953.6 1301,953.6 1302,953.6 1303,953.7 1304,953.7 1305,953.8 1306,953.8 1307,953.9 1308,953.9 1309,954 1310,954 1311,954.1 1312,954.1 1313,954.2 1314,954.3 1315,954.3 1316,954.4 1317,954.5 1318,954.5 1319,954.6 1320,954.7 1321,954.8 1322,954.8 1323,954.9 1324,955 1325,955.1 1326,955.2 1327,955.3 1328,955.4 1329,955.5 1330,955.6 1331,955.7 1332,955.8 1333,955.8 1334,955.9 1335,956 1336,956.1 1337,956.2 1338,956.3 1339,956.4 1340,956.5 1341,956.6 1342,956.7 1343,956.8 1344,956.9 1345,957 1346,957.1 1347,957.2 1348,957.3 1349,957.4 1350,957.5 1351,957.6 1352,957.7 1353,957.9 1354,958 1355,958.1 1356,958.2 1357,958.3 1358,958.4 1359,958.5 1360,958.6 1361,958.8 1362,958.9 1363,959 1364,959.1 1365,959.2 1366,959.3 1367,959.5 1368,959.6 1369,959.7 1370,959.8 1371,959.9 1372,960 1373,960.2 1374,960.3 1375,960.4 1376,960.5 1377,960.6 1378,960.8 1379,960.9 1380,961 1381,961.1 1382,961.3 1383,961.4 1384,961.5 1385,961.6 1386,961.8 1387,961.9 1388,962 1389,962.2 1390,962.3 1391,962.4 1392,962.6 1393,962.7 1394,962.8 1395,963 1396,963.1 1397,963.2 1398,963.4 1399,963.5 1400,963.6 1401,963.7 1402,963.9 1403,964 1404,964.1 1405,964.2 1406,964.3 1407,964.5 1408,964.6 1409,964.7 1409,973.6 1103.1,973.6" fill="#d1e1ec"/>
<rect x="1255" y="952.6" width="10" height="21" fill="#005b96"/>
<path d="M1000,971.6 L1002,971.5 L1004,971.4 L1006,971.2 L1008,971.1 L1010,970.9 L1012,970.8 L1014,970.6 L1016,970.5 L1018,970.3 L1020,970.2 L1022,970.1 L1024,969.9 L1026,969.8 L1028,969.7 L1030,969.6 L1032,969.4 L1034,969.3 L1036,969.2 L1038,969.1 L1040,969 L1042,968.9 L1044,968.8 L1046,968.7 L1048,968.6 L1050,968.4 L1052,968.3 L1054,968.2 L1056,968.1 L1058,968 L1060,967.9 L1062,967.8 L1064,967.7 L1066,967.6 L1068,967.5 L1070,967.4 L1072,967.3 L1074,967.2 L1076,967.1 L1078,967 L1080,966.9 L1082,966.8 L1084,966.7 L1086,966.6 L1088,966.5 L1090,966.4 L1092,966.3 L1094,966.2 L1096,966.1 L1098,965.9 L1100,965.8 L1102,965.7 L1104,965.5 L1106,965.4 L1108,965.2 L1110,965 L1112,964.8 L1114,964.6 L1116,964.4 L1118,964.1 L1120,963.9 L1122,963.7 L1124,963.5 L1126,963.2 L1128,963 L1130,962.8 L1132,962.6 L1134,962.3 L1136,962.1 L1138,961.8 L1140,961.6 L1142,961.4 L1144,961.1 L1146,960.9 L1148,960.6 L1150,960.4 L1152,960.2 L1154,959.9 L1156,959.7 L1158,959.5 L1160,959.3 L1162,959.1 L1164,958.8 L1166,958.6 L1168,958.4 L1170,958.2 L1172,958 L1174,957.7 L1176,957.5 L1178,957.2 L1180,957 L1182,956.7 L1184,956.5 L1186,956.2 L1188,956 L1190,955.7 L1192,955.5 L1194,955.3 L1196,955.1 L1198,954.9 L1200,954.7 L1202,954.6 L1204,954.4 L1206,954.2 L1208,954 L1210,953.9 L1212,953.7 L1214,953.6 L1216,953.5 L1218,953.3 L1220,953.2 L1222,953.1 L1224,953.1 L1226,953 L1228,953 L1230,952.9 L1232,952.9 L1234,952.8 L1236,952.8 L1238,952.8 L1240,952.7 L1242,952.7 L1244,952.7 L1246,952.6 L1248,952.6 L1250,952.6 L1252,952.6 L1254,952.6 L1256,952.6 L1258,952.6 L1260,952.6 L1262,952.7 L1264,952.7 L1266,952.7 L1268,952.7 L1270,952.8 L1272,952.8 L1274,952.8 L1276,952.9 L1278,952.9 L1280,953 L1282,953 L1284,953.1 L1286,953.1 L1288,953.2 L1290,953.2 L1292,953.3 L1294,953.3 L1296,953.4 L1298,953.5 L1300,953.6 L1302,953.6 L1304,953.7 L1306,953.8 L1308,953.9 L1310,954 L1312,954.1 L1314,954.3 L1316,954.4 L1318,954.5 L1320,954.7 L1322,954.8 L1324,955 L1326,955.2 L1328,955.4 L1330,955.6 L1332,955.8 L1334,955.9 L1336,956.1 L1338,956.3 L1340,956.5 L1342,956.7 L1344,956.9 L1346,957.1 L1348,957.3 L1350,957.5 L1352,957.7 L1354,958 L1356,958.2 L1358,958.4 L1360,958.6 L1362,958.9 L1364,959.1 L1366,959.3 L1368,959.6 L1370,959.8 L1372,960 L1374,960.3 L1376,960.5 L1378,960.8 L1380,961 L1382,961.3 L1384,961.5 L1386,961.8 L1388,962 L1390,962.3 L1392,962.6 L1394,962.8 L1396,963.1 L1398,963.4 L1400,963.6 L1402,963.9 L1404,964.1 L1406,964.3 L1408,964.6 L1410,964.8 L1412,965 L1414,965.2 L1416,965.5 L1418,965.7 L1420,965.9 L1422,966.1 L1424,966.3 L1426,966.5 L1428,966.6 L1430,966.8 L1432,967 L1434,967.2 L1436,967.4 L1438,967.6 L1440,967.8 L1442,968 L1444,968.2 L1446,968.3 L1448,968.5 L1450,968.7 L1452,968.9 L1454,969 L1456,969.2 L1458,969.3 L1460,969.4 L1462,969.5 L1464,969.6 L1466,969.7 L1468,969.8 L1470,969.9 L1472,970 L1474,970.1 L1476,970.2 L1478,970.3 L1480,970.4 L1482,970.5 L1484,970.5 L1486,970.6 L1488,970.7 L1490,970.7 L1492,970.8 L1494,970.8" fill="none" stroke="#03396c" stroke-width="4.7" stroke-linecap="round" stroke-linejoin="round"/>
<line x1="1000" y1="973.6" x2="1494" y2="973.6" stroke="#03396c" stroke-width="4.7"/>
<rect x="689" y="969" width="13" height="10" fill="#333333"/>
<text x="680.5" y="987.5" text-anchor="end" font-family="&quot;Liberation Serif&quot;, serif" font-weight="bold" font-size="40.2" fill="#4d4d4d" stroke="#4d4d4d" stroke-width="0.7">Respiratory</text>
<polygon points="1105.2,1045.6 1105.5,1045.6 1106.5,1045.5 1107.5,1045.4 1108.5,1045.3 1109.5,1045.2 1110.5,1045.2 1111.5,1045.1 1112.5,1045 1113.5,1044.9 1114.5,1044.8 1115.5,1044.7 1116.5,1044.6 1117.5,1044.6 1118.5,1044.5 1119.5,1044.4 1120.5,1044.3 1121.5,1044.2 1122.5,1044.1 1123.5,1044 1124.5,1044 1125.5,1043.9 1126.5,1043.8 1127.5,1043.7 1128.5,1043.6 1129.5,1043.5 1130.5,1043.4 1131.5,1043.3 1132.5,1043.2 1133.5,1043.1 1134.5,1043 1135.5,1042.9 1136.5,1042.8 1137.5,1042.7 1138.5,1042.6 1139.5,1042.5 1140.5,1042.4 1141.5,1042.3 1142.5,1042.2 1143.5,1042.1 1144.5,1041.9 1145.5,1041.8 1146.5,1041.7 1147.5,1041.6 1148.5,1041.5 1149.5,1041.4 1150.5,1041.3 1151.5,1041.2 1152.5,1041.2 1153.5,1041.1 1154.5,1041 1155.5,1040.9 1156.5,1040.8 1157.5,1040.7 1158.5,1040.6 1159.5,1040.5 1160.5,1040.4 1161.5,1040.4 1162.5,1040.3 1163.5,1040.2 1164.5,1040.1 1165.5,1040 1166.5,1040 1167.5,1039.9 1168.5,1039.8 1169.5,1039.7 1170.5,1039.6 1171.5,1039.6 1172.5,1039.5 1173.5,1039.4 1174.5,1039.3 1175.5,1039.2 1176.5,1039.1 1177.5,1039.1 1178.5,1039 1179.5,1038.9 1180.5,1038.8 1181.5,1038.7 1182.5,1038.6 1183.5,1038.5 1184.5,1038.4 1185.5,1038.3 1186.5,1038.2 1187.5,1038.1 1188.5,1037.9 1189.5,1037.8 1190.5,1037.7 1191.5,1037.6 1192.5,1037.5 1193.5,1037.3 1194.5,1037.2 1195.5,1037.1 1196.5,1037 1197.5,1036.8 1198.5,1036.7 1199.5,1036.6 1200.5,1036.5 1201.5,1036.4 1202.5,1036.3 1203.5,1036.2 1204.5,1036.1 1205.5,1036 1206.5,1035.9 1207.5,1035.8 1208.5,1035.8 1209.5,1035.7 1210.5,1035.6 1211.5,1035.6 1212.5,1035.5 1213.5,1035.4 1214.5,1035.4 1215.5,1035.3 1216.5,1035.2 1217.5,1035.2 1218.5,1035.1 1219.5,1035.1 1220.5,1035 1221.5,1035 1222.5,1034.9 1223.5,1034.9 1224.5,1034.8 1225.5,1034.8 1226.5,1034.7 1227.5,1034.7 1228.5,1034.6 1229.5,1034.6 1230.5,1034.6 1231.5,1034.5 1232.5,1034.5 1233.5,1034.5 1234.5,1034.4 1235.5,1034.4 1236.5,1034.4 1237.5,1034.4 1238.5,1034.3 1239.5,1034.3 1240.5,1034.3 1241.5,1034.3 1242.5,1034.3 1243.5,1034.2 1244.5,1034.2 1245.5,1034.2 1246.5,1034.2 1247.5,1034.2 1248.5,1034.1 1249.5,1034.1 1250.5,1034.1 1251.5,1034.1 1252.5,1034.1 1253.5,1034.1 1254.5,1034.1 1255.5,1034.1 1256.5,1034 1257.5,1034 1258.5,1034 1259.5,1034 1260.5,1034 1261.5,1034 1262.5,1034 1263.5,1034 1264.5,1034 1265.5,1034 1266.5,1034 1267.5,1034 1268.5,1034 1269.5,1034 1270.5,1034.1 1271.5,1034.1 1272.5,1034.1 1273.5,1034.1 1274.5,1034.1 1275.5,1034.2 1276.5,1034.2 1277.5,1034.2 1278.5,1034.2 1279.5,1034.2 1280.5,1034.3 1281.5,1034.3 1282.5,1034.3 1283.5,1034.3 1284.5,1034.3 1285.5,1034.3 1286.5,1034.4 1287.5,1034.4 1288.5,1034.4 1289.5,1034.4 1290.5,1034.4 1291.5,1034.4 1292.5,1034.4 1293.5,1034.4 1294.5,1034.4 1295.5,1034.4 1296.5,1034.4 1297.5,1034.4 1298.5,1034.4 1299.5,1034.4 1300.5,1034.4 1301.5,1034.4 1302.5,1034.4 1303.5,1034.4 1304.5,1034.4 1305.5,1034.4 1306.5,1034.4 1307.5,1034.4 1308.5,1034.4 1309.5,1034.4 1310.5,1034.4 1311.5,1034.4 1312.5,1034.4 1313.5,1034.4 1314.5,1034.4 1315.5,1034.4 1316.5,1034.4 1317.5,1034.4 1318.5,1034.4 1319.5,1034.4 1320.5,1034.4 1321.5,1034.4 1322.5,1034.4 1323.5,1034.5 1324.5,1034.5 1325.5,1034.5 1326.5,1034.5 1327.5,1034.6 1328.5,1034.6 1329.5,1034.7 1330.5,1034.7 1331.5,1034.7 1332.5,1034.8 1333.5,1034.9 1334.5,1034.9 1335.5,1035 1336.5,1035 1337.5,1035.1 1338.5,1035.2 1339.5,1035.2 1340.5,1035.3 1341.5,1035.4 1342.5,1035.4 1343.5,1035.5 1344.5,1035.6 1345.5,1035.6 1346.5,1035.7 1347.5,1035.8 1348.5,1035.9 1349.5,1035.9 1350.5,1036 1351.5,1036.1 1352.5,1036.2 1353.5,1036.2 1354.5,1036.3 1355.5,1036.4 1356.5,1036.5 1357.5,1036.6 1358.5,1036.7 1359.5,1036.8 1360.5,1036.9 1361.5,1037 1362.5,1037.1 1363.5,1037.2 1364.5,1037.3 1365.5,1037.4 1366.5,1037.5 1367.5,1037.6 1368.5,1037.7 1369.5,1037.9 1370.5,1038 1371.5,1038.1 1372.5,1038.2 1373.5,1038.3 1374.5,1038.4 1375.5,1038.6 1376.5,1038.7 1377.5,1038.8 1378.5,1038.9 1379.5,1039 1380.5,1039.1 1381.5,1039.3 1382.5,1039.4 1383.5,1039.5 1384.5,1039.6 1385.5,1039.7 1386.5,1039.8 1387.5,1039.9 1388.5,1040.1 1389.5,1040.2 1390.5,1040.3 1391.5,1040.4 1392.5,1040.5 1393.5,1040.6 1394.5,1040.8 1395.5,1040.9 1396.5,1041 1397.5,1041.1 1398.5,1041.2 1399.5,1041.4 1400.5,1041.5 1401.5,1041.6 1402.5,1041.7 1403.5,1041.8 1404.5,1042 1405.5,1042.1 1406.5,1042.2 1407.5,1042.3 1408.5,1042.4 1409.5,1042.6 1410.5,1042.7 1411.5,1042.8 1412.5,1042.9 1413.5,1043 1414.5,1043.1 1415.5,1043.3 1416.5,1043.4 1417.5,1043.5 1418.5,1043.6 1419.5,1043.7 1420.5,1043.8 1421.5,1043.9 1422.5,1044 1423.5,1044.1 1424.5,1044.2 1425.5,1044.3 1426.5,1044.4 1427.5,1044.5 1428.5,1044.6 1429.5,1044.8 1430.5,1044.9 1431.5,1045 1432.5,1045.1 1433.5,1045.2 1434.5,1045.3 1435.5,1045.4 1436.5,1045.5 1437.5,1045.6 1437.8,1045.6 1437.8,1053.6 1105.2,1053.6" fill="#d1e1ec"/>
<rect x="1269.4" y="1034.1" width="10" height="19.5" fill="#005b96"/>
<path d="M1010.5,1051.1 L1012.5,1051 L1014.5,1050.9 L1016.5,1050.7 L1018.5,1050.6 L1020.5,1050.4 L1022.5,1050.3 L1024.5,1050.1 L1026.5,1050 L1028.5,1049.9 L1030.5,1049.7 L1032.5,1049.6 L1034.5,1049.5 L1036.5,1049.4 L1038.5,1049.3 L1040.5,1049.2 L1042.5,1049.2 L1044.5,1049.1 L1046.5,1049 L1048.5,1048.9 L1050.5,1048.8 L1052.5,1048.8 L1054.5,1048.7 L1056.5,1048.6 L1058.5,1048.5 L1060.5,1048.4 L1062.5,1048.3 L1064.5,1048.2 L1066.5,1048.1 L1068.5,1048.1 L1070.5,1048 L1072.5,1047.9 L1074.5,1047.8 L1076.5,1047.7 L1078.5,1047.6 L1080.5,1047.5 L1082.5,1047.4 L1084.5,1047.3 L1086.5,1047.1 L1088.5,1047 L1090.5,1046.9 L1092.5,1046.7 L1094.5,1046.6 L1096.5,1046.4 L1098.5,1046.2 L1100.5,1046 L1102.5,1045.8 L1104.5,1045.7 L1106.5,1045.5 L1108.5,1045.3 L1110.5,1045.2 L1112.5,1045 L1114.5,1044.8 L1116.5,1044.6 L1118.5,1044.5 L1120.5,1044.3 L1122.5,1044.1 L1124.5,1044 L1126.5,1043.8 L1128.5,1043.6 L1130.5,1043.4 L1132.5,1043.2 L1134.5,1043 L1136.5,1042.8 L1138.5,1042.6 L1140.5,1042.4 L1142.5,1042.2 L1144.5,1041.9 L1146.5,1041.7 L1148.5,1041.5 L1150.5,1041.3 L1152.5,1041.2 L1154.5,1041 L1156.5,1040.8 L1158.5,1040.6 L1160.5,1040.4 L1162.5,1040.3 L1164.5,1040.1 L1166.5,1040 L1168.5,1039.8 L1170.5,1039.6 L1172.5,1039.5 L1174.5,1039.3 L1176.5,1039.1 L1178.5,1039 L1180.5,1038.8 L1182.5,1038.6 L1184.5,1038.4 L1186.5,1038.2 L1188.5,1037.9 L1190.5,1037.7 L1192.5,1037.5 L1194.5,1037.2 L1196.5,1037 L1198.5,1036.7 L1200.5,1036.5 L1202.5,1036.3 L1204.5,1036.1 L1206.5,1035.9 L1208.5,1035.8 L1210.5,1035.6 L1212.5,1035.5 L1214.5,1035.4 L1216.5,1035.2 L1218.5,1035.1 L1220.5,1035 L1222.5,1034.9 L1224.5,1034.8 L1226.5,1034.7 L1228.5,1034.6 L1230.5,1034.6 L1232.5,1034.5 L1234.5,1034.4 L1236.5,1034.4 L1238.5,1034.3 L1240.5,1034.3 L1242.5,1034.3 L1244.5,1034.2 L1246.5,1034.2 L1248.5,1034.1 L1250.5,1034.1 L1252.5,1034.1 L1254.5,1034.1 L1256.5,1034 L1258.5,1034 L1260.5,1034 L1262.5,1034 L1264.5,1034 L1266.5,1034 L1268.5,1034 L1270.5,1034.1 L1272.5,1034.1 L1274.5,1034.1 L1276.5,1034.2 L1278.5,1034.2 L1280.5,1034.3 L1282.5,1034.3 L1284.5,1034.3 L1286.5,1034.4 L1288.5,1034.4 L1290.5,1034.4 L1292.5,1034.4 L1294.5,1034.4 L1296.5,1034.4 L1298.5,1034.4 L1300.5,1034.4 L1302.5,1034.4 L1304.5,1034.4 L1306.5,1034.4 L1308.5,1034.4 L1310.5,1034.4 L1312.5,1034.4 L1314.5,1034.4 L1316.5,1034.4 L1318.5,1034.4 L1320.5,1034.4 L1322.5,1034.4 L1324.5,1034.5 L1326.5,1034.5 L1328.5,1034.6 L1330.5,1034.7 L1332.5,1034.8 L1334.5,1034.9 L1336.5,1035 L1338.5,1035.2 L1340.5,1035.3 L1342.5,1035.4 L1344.5,1035.6 L1346.5,1035.7 L1348.5,1035.9 L1350.5,1036 L1352.5,1036.2 L1354.5,1036.3 L1356.5,1036.5 L1358.5,1036.7 L1360.5,1036.9 L1362.5,1037.1 L1364.5,1037.3 L1366.5,1037.5 L1368.5,1037.7 L1370.5,1038 L1372.5,1038.2 L1374.5,1038.4 L1376.5,1038.7 L1378.5,1038.9 L1380.5,1039.1 L1382.5,1039.4 L1384.5,1039.6 L1386.5,1039.8 L1388.5,1040.1 L1390.5,1040.3 L1392.5,1040.5 L1394.5,1040.8 L1396.5,1041 L1398.5,1041.2 L1400.5,1041.5 L1402.5,1041.7 L1404.5,1042 L1406.5,1042.2 L1408.5,1042.4 L1410.5,1042.7 L1412.5,1042.9 L1414.5,1043.1 L1416.5,1043.4 L1418.5,1043.6 L1420.5,1043.8 L1422.5,1044 L1424.5,1044.2 L1426.5,1044.4 L1428.5,1044.6 L1430.5,1044.9 L1432.5,1045.1 L1434.5,1045.3 L1436.5,1045.5 L1438.5,1045.7 L1440.5,1045.9 L1442.5,1046.1 L1444.5,1046.3 L1446.5,1046.5 L1448.5,1046.8 L1450.5,1047 L1452.5,1047.2 L1454.5,1047.4 L1456.5,1047.5 L1458.5,1047.7 L1460.5,1047.9 L1462.5,1048 L1464.5,1048.1 L1466.5,1048.2 L1468.5,1048.3 L1470.5,1048.4 L1472.5,1048.5 L1474.5,1048.5 L1476.5,1048.6 L1478.5,1048.7 L1480.5,1048.7 L1482.5,1048.8 L1484.5,1048.9 L1486.5,1049 L1488.5,1049 L1490.5,1049.1 L1492.5,1049.2 L1494.5,1049.3 L1496.5,1049.3 L1498.5,1049.4 L1500.5,1049.5 L1502.5,1049.6 L1504.5,1049.6 L1506.5,1049.7 L1508.5,1049.8 L1510.5,1049.9 L1512.5,1050 L1514.5,1050 L1516.5,1050.1 L1518.5,1050.2 L1520.5,1050.3 L1522.5,1050.3 L1524.5,1050.4 L1526.5,1050.5 L1528.5,1050.6 L1530.5,1050.6 L1532.5,1050.7 L1534.5,1050.8" fill="none" stroke="#03396c" stroke-width="4.7" stroke-linecap="round" stroke-linejoin="round"/>
<line x1="1010.5" y1="1053.6" x2="1534.5" y2="1053.6" stroke="#03396c" stroke-width="4.7"/>
<rect x="689" y="1049" width="13" height="10" fill="#333333"/>
<text x="680.5" y="1067.5" text-anchor="end" font-family="&quot;Liberation Serif&quot;, serif" font-weight="bold" font-size="40.2" fill="#4d4d4d" stroke="#4d4d4d" stroke-width="0.7">Digestive</text>
<polygon points="1039.2,1125.3 1039.5,1125.3 1040.5,1125.2 1041.5,1125.1 1042.5,1125 1043.5,1124.9 1044.5,1124.8 1045.5,1124.7 1046.5,1124.5 1047.5,1124.4 1048.5,1124.3 1049.5,1124.2 1050.5,1124 1051.5,1123.9 1052.5,1123.8 1053.5,1123.6 1054.5,1123.5 1055.5,1123.4 1056.5,1123.3 1057.5,1123.1 1058.5,1123 1059.5,1122.9 1060.5,1122.7 1061.5,1122.6 1062.5,1122.4 1063.5,1122.3 1064.5,1122.2 1065.5,1122 1066.5,1121.9 1067.5,1121.7 1068.5,1121.6 1069.5,1121.4 1070.5,1121.3 1071.5,1121.2 1072.5,1121 1073.5,1120.9 1074.5,1120.7 1075.5,1120.6 1076.5,1120.5 1077.5,1120.3 1078.5,1120.2 1079.5,1120.1 1080.5,1120 1081.5,1119.9 1082.5,1119.8 1083.5,1119.7 1084.5,1119.6 1085.5,1119.5 1086.5,1119.4 1087.5,1119.3 1088.5,1119.2 1089.5,1119.2 1090.5,1119.1 1091.5,1119 1092.5,1118.9 1093.5,1118.9 1094.5,1118.8 1095.5,1118.7 1096.5,1118.6 1097.5,1118.6 1098.5,1118.5 1099.5,1118.4 1100.5,1118.4 1101.5,1118.3 1102.5,1118.2 1103.5,1118.1 1104.5,1118.1 1105.5,1118 1106.5,1117.9 1107.5,1117.9 1108.5,1117.8 1109.5,1117.7 1110.5,1117.6 1111.5,1117.6 1112.5,1117.5 1113.5,1117.4 1114.5,1117.3 1115.5,1117.3 1116.5,1117.2 1117.5,1117.1 1118.5,1117 1119.5,1117 1120.5,1116.9 1121.5,1116.8 1122.5,1116.7 1123.5,1116.7 1124.5,1116.6 1125.5,1116.5 1126.5,1116.4 1127.5,1116.4 1128.5,1116.3 1129.5,1116.2 1130.5,1116.1 1131.5,1116 1132.5,1116 1133.5,1115.9 1134.5,1115.8 1135.5,1115.7 1136.5,1115.7 1137.5,1115.6 1138.5,1115.5 1139.5,1115.4 1140.5,1115.3 1141.5,1115.3 1142.5,1115.2 1143.5,1115.1 1144.5,1115.1 1145.5,1115 1146.5,1114.9 1147.5,1114.8 1148.5,1114.8 1149.5,1114.7 1150.5,1114.6 1151.5,1114.5 1152.5,1114.5 1153.5,1114.4 1154.5,1114.3 1155.5,1114.3 1156.5,1114.2 1157.5,1114.1 1158.5,1114.1 1159.5,1114 1160.5,1113.9 1161.5,1113.8 1162.5,1113.8 1163.5,1113.7 1164.5,1113.6 1165.5,1113.5 1166.5,1113.5 1167.5,1113.4 1168.5,1113.3 1169.5,1113.2 1170.5,1113.2 1171.5,1113.1 1172.5,1113 1173.5,1112.9 1174.5,1112.9 1175.5,1112.8 1176.5,1112.7 1177.5,1112.6 1178.5,1112.5 1179.5,1112.4 1180.5,1112.3 1181.5,1112.2 1182.5,1112.1 1183.5,1112 1184.5,1111.9 1185.5,1111.8 1186.5,1111.7 1187.5,1111.7 1188.5,1111.6 1189.5,1111.6 1190.5,1111.6 1191.5,1111.6 1192.5,1111.6 1193.5,1111.6 1194.5,1111.6 1195.5,1111.6 1196.5,1111.6 1197.5,1111.6 1198.5,1111.5 1199.5,1111.5 1200.5,1111.5 1201.5,1111.5 1202.5,1111.5 1203.5,1111.5 1204.5,1111.5 1205.5,1111.5 1206.5,1111.5 1207.5,1111.5 1208.5,1111.5 1209.5,1111.5 1210.5,1111.5 1211.5,1111.5 1212.5,1111.5 1213.5,1111.5 1214.5,1111.5 1215.5,1111.5 1216.5,1111.5 1217.5,1111.5 1218.5,1111.5 1219.5,1111.5 1220.5,1111.5 1221.5,1111.5 1222.5,1111.5 1223.5,1111.5 1224.5,1111.5 1225.5,1111.5 1226.5,1111.6 1227.5,1111.6 1228.5,1111.7 1229.5,1111.8 1230.5,1111.9 1231.5,1112 1232.5,1112.1 1233.5,1112.2 1234.5,1112.3 1235.5,1112.3 1236.5,1112.4 1237.5,1112.5 1238.5,1112.6 1239.5,1112.7 1240.5,1112.8 1241.5,1112.9 1242.5,1113 1243.5,1113.1 1244.5,1113.1 1245.5,1113.2 1246.5,1113.3 1247.5,1113.4 1248.5,1113.5 1249.5,1113.5 1250.5,1113.6 1251.5,1113.7 1252.5,1113.8 1253.5,1113.8 1254.5,1113.9 1255.5,1114 1256.5,1114 1257.5,1114.1 1258.5,1114.2 1259.5,1114.3 1260.5,1114.3 1261.5,1114.4 1262.5,1114.5 1263.5,1114.6 1264.5,1114.6 1265.5,1114.7 1266.5,1114.8 1267.5,1114.9 1268.5,1115 1269.5,1115 1270.5,1115.1 1271.5,1115.2 1272.5,1115.3 1273.5,1115.4 1274.5,1115.6 1275.5,1115.7 1276.5,1115.8 1277.5,1115.9 1278.5,1116 1279.5,1116.1 1280.5,1116.2 1281.5,1116.4 1282.5,1116.5 1283.5,1116.6 1284.5,1116.7 1285.5,1116.9 1286.5,1117 1287.5,1117.1 1288.5,1117.3 1289.5,1117.4 1290.5,1117.5 1291.5,1117.6 1292.5,1117.8 1293.5,1117.9 1294.5,1118 1295.5,1118.1 1296.5,1118.3 1297.5,1118.4 1298.5,1118.5 1299.5,1118.7 1300.5,1118.8 1301.5,1118.9 1302.5,1119.1 1303.5,1119.2 1304.5,1119.3 1305.5,1119.4 1306.5,1119.6 1307.5,1119.7 1308.5,1119.8 1309.5,1120 1310.5,1120.1 1311.5,1120.3 1312.5,1120.4 1313.5,1120.5 1314.5,1120.7 1315.5,1120.8 1316.5,1120.9 1317.5,1121.1 1318.5,1121.2 1319.5,1121.4 1320.5,1121.5 1321.5,1121.6 1322.5,1121.8 1323.5,1121.9 1324.5,1122 1325.5,1122.2 1326.5,1122.3 1327.5,1122.5 1328.5,1122.6 1329.5,1122.7 1330.5,1122.9 1331.5,1123 1332.5,1123.1 1333.5,1123.3 1333.7,1123.3 1333.7,1133.6 1039.2,1133.6" fill="#d1e1ec"/>
<rect x="1190.1" y="1111.6" width="10" height="22" fill="#005b96"/>
<path d="M941.5,1130.8 L943.5,1130.7 L945.5,1130.6 L947.5,1130.5 L949.5,1130.4 L951.5,1130.3 L953.5,1130.1 L955.5,1130 L957.5,1129.9 L959.5,1129.8 L961.5,1129.7 L963.5,1129.6 L965.5,1129.5 L967.5,1129.4 L969.5,1129.3 L971.5,1129.2 L973.5,1129.1 L975.5,1129 L977.5,1128.9 L979.5,1128.8 L981.5,1128.7 L983.5,1128.6 L985.5,1128.5 L987.5,1128.4 L989.5,1128.3 L991.5,1128.2 L993.5,1128 L995.5,1127.9 L997.5,1127.8 L999.5,1127.7 L1001.5,1127.5 L1003.5,1127.4 L1005.5,1127.3 L1007.5,1127.1 L1009.5,1127 L1011.5,1126.9 L1013.5,1126.8 L1015.5,1126.7 L1017.5,1126.6 L1019.5,1126.5 L1021.5,1126.4 L1023.5,1126.3 L1025.5,1126.2 L1027.5,1126.1 L1029.5,1125.9 L1031.5,1125.8 L1033.5,1125.7 L1035.5,1125.6 L1037.5,1125.4 L1039.5,1125.3 L1041.5,1125.1 L1043.5,1124.9 L1045.5,1124.7 L1047.5,1124.4 L1049.5,1124.2 L1051.5,1123.9 L1053.5,1123.6 L1055.5,1123.4 L1057.5,1123.1 L1059.5,1122.9 L1061.5,1122.6 L1063.5,1122.3 L1065.5,1122 L1067.5,1121.7 L1069.5,1121.4 L1071.5,1121.2 L1073.5,1120.9 L1075.5,1120.6 L1077.5,1120.3 L1079.5,1120.1 L1081.5,1119.9 L1083.5,1119.7 L1085.5,1119.5 L1087.5,1119.3 L1089.5,1119.2 L1091.5,1119 L1093.5,1118.9 L1095.5,1118.7 L1097.5,1118.6 L1099.5,1118.4 L1101.5,1118.3 L1103.5,1118.1 L1105.5,1118 L1107.5,1117.9 L1109.5,1117.7 L1111.5,1117.6 L1113.5,1117.4 L1115.5,1117.3 L1117.5,1117.1 L1119.5,1117 L1121.5,1116.8 L1123.5,1116.7 L1125.5,1116.5 L1127.5,1116.4 L1129.5,1116.2 L1131.5,1116 L1133.5,1115.9 L1135.5,1115.7 L1137.5,1115.6 L1139.5,1115.4 L1141.5,1115.3 L1143.5,1115.1 L1145.5,1115 L1147.5,1114.8 L1149.5,1114.7 L1151.5,1114.5 L1153.5,1114.4 L1155.5,1114.3 L1157.5,1114.1 L1159.5,1114 L1161.5,1113.8 L1163.5,1113.7 L1165.5,1113.5 L1167.5,1113.4 L1169.5,1113.2 L1171.5,1113.1 L1173.5,1112.9 L1175.5,1112.8 L1177.5,1112.6 L1179.5,1112.4 L1181.5,1112.2 L1183.5,1112 L1185.5,1111.8 L1187.5,1111.7 L1189.5,1111.6 L1191.5,1111.6 L1193.5,1111.6 L1195.5,1111.6 L1197.5,1111.6 L1199.5,1111.5 L1201.5,1111.5 L1203.5,1111.5 L1205.5,1111.5 L1207.5,1111.5 L1209.5,1111.5 L1211.5,1111.5 L1213.5,1111.5 L1215.5,1111.5 L1217.5,1111.5 L1219.5,1111.5 L1221.5,1111.5 L1223.5,1111.5 L1225.5,1111.5 L1227.5,1111.6 L1229.5,1111.8 L1231.5,1112 L1233.5,1112.2 L1235.5,1112.3 L1237.5,1112.5 L1239.5,1112.7 L1241.5,1112.9 L1243.5,1113.1 L1245.5,1113.2 L1247.5,1113.4 L1249.5,1113.5 L1251.5,1113.7 L1253.5,1113.8 L1255.5,1114 L1257.5,1114.1 L1259.5,1114.3 L1261.5,1114.4 L1263.5,1114.6 L1265.5,1114.7 L1267.5,1114.9 L1269.5,1115 L1271.5,1115.2 L1273.5,1115.4 L1275.5,1115.7 L1277.5,1115.9 L1279.5,1116.1 L1281.5,1116.4 L1283.5,1116.6 L1285.5,1116.9 L1287.5,1117.1 L1289.5,1117.4 L1291.5,1117.6 L1293.5,1117.9 L1295.5,1118.1 L1297.5,1118.4 L1299.5,1118.7 L1301.5,1118.9 L1303.5,1119.2 L1305.5,1119.4 L1307.5,1119.7 L1309.5,1120 L1311.5,1120.3 L1313.5,1120.5 L1315.5,1120.8 L1317.5,1121.1 L1319.5,1121.4 L1321.5,1121.6 L1323.5,1121.9 L1325.5,1122.2 L1327.5,1122.5 L1329.5,1122.7 L1331.5,1123 L1333.5,1123.3 L1335.5,1123.5 L1337.5,1123.8 L1339.5,1124.1 L1341.5,1124.4 L1343.5,1124.7 L1345.5,1124.9 L1347.5,1125.2 L1349.5,1125.5 L1351.5,1125.8 L1353.5,1126 L1355.5,1126.3 L1357.5,1126.6 L1359.5,1126.8 L1361.5,1127 L1363.5,1127.3 L1365.5,1127.5 L1367.5,1127.7 L1369.5,1127.9 L1371.5,1128.1 L1373.5,1128.3 L1375.5,1128.5 L1377.5,1128.7 L1379.5,1128.9 L1381.5,1129 L1383.5,1129.2 L1385.5,1129.3 L1387.5,1129.5 L1389.5,1129.6 L1391.5,1129.7 L1393.5,1129.8 L1395.5,1129.9 L1397.5,1130 L1399.5,1130.1 L1401.5,1130.2 L1403.5,1130.3" fill="none" stroke="#03396c" stroke-width="4.7" stroke-linecap="round" stroke-linejoin="round"/>
<line x1="941.5" y1="1133.6" x2="1403.5" y2="1133.6" stroke="#03396c" stroke-width="4.7"/>
<rect x="689" y="1129" width="13" height="10" fill="#333333"/>
<text x="680.5" y="1147.5" text-anchor="end" font-family="&quot;Liberation Serif&quot;, serif" font-weight="bold" font-size="40.2" fill="#4d4d4d" stroke="#4d4d4d" stroke-width="0.7">Skin &amp; Subcutaneaous tissue</text>
<polygon points="1420,1196.5 1420.1,1196.5 1421.1,1196.2 1422.1,1195.9 1423.1,1195.6 1424.1,1195.3 1425.1,1194.9 1426.1,1194.5 1427.1,1194.1 1428.1,1193.7 1429.1,1193.3 1430.1,1192.9 1431.1,1192.5 1432.1,1192.1 1433.1,1191.7 1434.1,1191.3 1435.1,1190.9 1436.1,1190.5 1437.1,1190.1 1438.1,1189.7 1439.1,1189.3 1440.1,1189 1441.1,1188.6 1442.1,1188.3 1443.1,1188 1444.1,1187.7 1445.1,1187.5 1446.1,1187.2 1447.1,1186.9 1448.1,1186.6 1449.1,1186.4 1450.1,1186.1 1451.1,1185.9 1452.1,1185.6 1453.1,1185.4 1454.1,1185.2 1455.1,1185 1456.1,1184.7 1457.1,1184.5 1458.1,1184.3 1459.1,1184.1 1460.1,1183.9 1461.1,1183.7 1462.2,1183.5 1463.2,1183.3 1464.2,1183.1 1465.2,1182.9 1466.2,1182.7 1467.2,1182.5 1468.2,1182.3 1469.2,1182.1 1470.2,1182 1471.2,1181.8 1472.2,1181.7 1473.2,1181.5 1474.2,1181.4 1475.2,1181.3 1476.2,1181.2 1477.2,1181.1 1478.2,1181 1479.2,1180.9 1480.2,1180.8 1481.2,1180.7 1482.2,1180.6 1483.2,1180.5 1484.2,1180.5 1485.2,1180.4 1486.2,1180.3 1487.2,1180.2 1488.2,1180.2 1489.2,1180.1 1490.2,1180 1491.2,1180 1492.2,1179.9 1493.2,1179.8 1494.2,1179.7 1495.2,1179.7 1496.2,1179.6 1497.2,1179.5 1498.2,1179.4 1499.2,1179.3 1500.2,1179.3 1501.2,1179.2 1502.2,1179.2 1503.2,1179.1 1504.2,1179.1 1505.2,1179.1 1506.2,1179.1 1507.2,1179.2 1508.2,1179.2 1509.2,1179.3 1510.2,1179.3 1511.2,1179.4 1512.2,1179.5 1513.2,1179.5 1514.2,1179.6 1515.2,1179.7 1516.2,1179.8 1517.2,1179.9 1518.2,1180 1519.3,1180.1 1520.3,1180.3 1521.3,1180.4 1522.3,1180.6 1523.3,1180.7 1524.3,1180.8 1525.3,1181 1526.3,1181.2 1527.3,1181.3 1528.3,1181.5 1529.3,1181.6 1530.3,1181.8 1531.3,1182 1532.3,1182.2 1533.3,1182.4 1534.3,1182.6 1535.3,1182.8 1536.3,1183 1537.3,1183.2 1538.3,1183.4 1539.3,1183.7 1540.3,1183.9 1541.3,1184.1 1542.3,1184.3 1543.3,1184.5 1544.3,1184.8 1545.3,1185 1546.3,1185.2 1547.3,1185.5 1548.3,1185.7 1549.3,1185.9 1550.3,1186.2 1551.3,1186.4 1552.3,1186.7 1553.3,1186.9 1554.3,1187.2 1555.3,1187.4 1556.3,1187.7 1557.3,1187.9 1558.3,1188.2 1559.3,1188.5 1560.3,1188.7 1561.3,1189 1562.3,1189.2 1563.3,1189.5 1564.3,1189.8 1565.3,1190 1566.3,1190.3 1567.3,1190.5 1568.3,1190.8 1569.3,1191 1570.3,1191.3 1571.3,1191.6 1572.3,1191.8 1573.3,1192.1 1574.3,1192.4 1575.4,1192.6 1576.4,1192.9 1577.4,1193.2 1578.4,1193.4 1579.4,1193.7 1580.4,1194 1581.4,1194.2 1582.4,1194.5 1583.4,1194.8 1584.4,1195 1585.4,1195.3 1586.4,1195.6 1587.4,1195.8 1588.4,1196.1 1589.4,1196.4 1590.4,1196.7 1591.4,1196.9 1592.4,1197.2 1593.4,1197.5 1594.4,1197.7 1595.4,1198 1596.4,1198.3 1597.4,1198.6 1598.4,1198.8 1599.4,1199.1 1600.4,1199.4 1601.4,1199.6 1602.4,1199.9 1603.4,1200.1 1603.8,1200.2 1603.8,1213.6 1420,1213.6" fill="#d1e1ec"/>
<rect x="1503" y="1179.2" width="10" height="34.4" fill="#005b96"/>
<path d="M1376,1207.7 L1378,1207.2 L1380,1206.6 L1382,1206 L1384,1205.4 L1386,1204.8 L1388,1204.2 L1390,1203.6 L1392,1203 L1394,1202.5 L1396,1201.9 L1398,1201.4 L1400,1200.9 L1402,1200.4 L1404,1199.9 L1406.1,1199.5 L1408.1,1199.1 L1410.1,1198.7 L1412.1,1198.3 L1414.1,1197.9 L1416.1,1197.5 L1418.1,1197 L1420.1,1196.5 L1422.1,1195.9 L1424.1,1195.3 L1426.1,1194.5 L1428.1,1193.7 L1430.1,1192.9 L1432.1,1192.1 L1434.1,1191.3 L1436.1,1190.5 L1438.1,1189.7 L1440.1,1189 L1442.1,1188.3 L1444.1,1187.7 L1446.1,1187.2 L1448.1,1186.6 L1450.1,1186.1 L1452.1,1185.6 L1454.1,1185.2 L1456.1,1184.7 L1458.1,1184.3 L1460.1,1183.9 L1462.2,1183.5 L1464.2,1183.1 L1466.2,1182.7 L1468.2,1182.3 L1470.2,1182 L1472.2,1181.7 L1474.2,1181.4 L1476.2,1181.2 L1478.2,1181 L1480.2,1180.8 L1482.2,1180.6 L1484.2,1180.5 L1486.2,1180.3 L1488.2,1180.2 L1490.2,1180 L1492.2,1179.9 L1494.2,1179.7 L1496.2,1179.6 L1498.2,1179.4 L1500.2,1179.3 L1502.2,1179.2 L1504.2,1179.1 L1506.2,1179.1 L1508.2,1179.2 L1510.2,1179.3 L1512.2,1179.5 L1514.2,1179.6 L1516.2,1179.8 L1518.2,1180 L1520.3,1180.3 L1522.3,1180.6 L1524.3,1180.8 L1526.3,1181.2 L1528.3,1181.5 L1530.3,1181.8 L1532.3,1182.2 L1534.3,1182.6 L1536.3,1183 L1538.3,1183.4 L1540.3,1183.9 L1542.3,1184.3 L1544.3,1184.8 L1546.3,1185.2 L1548.3,1185.7 L1550.3,1186.2 L1552.3,1186.7 L1554.3,1187.2 L1556.3,1187.7 L1558.3,1188.2 L1560.3,1188.7 L1562.3,1189.2 L1564.3,1189.8 L1566.3,1190.3 L1568.3,1190.8 L1570.3,1191.3 L1572.3,1191.8 L1574.3,1192.4 L1576.4,1192.9 L1578.4,1193.4 L1580.4,1194 L1582.4,1194.5 L1584.4,1195 L1586.4,1195.6 L1588.4,1196.1 L1590.4,1196.7 L1592.4,1197.2 L1594.4,1197.7 L1596.4,1198.3 L1598.4,1198.8 L1600.4,1199.4 L1602.4,1199.9 L1604.4,1200.4 L1606.4,1200.9 L1608.4,1201.3 L1610.4,1201.8 L1612.4,1202.3 L1614.4,1202.7 L1616.4,1203.1 L1618.4,1203.5 L1620.4,1203.9 L1622.4,1204.3 L1624.4,1204.6 L1626.4,1204.9 L1628.4,1205.1 L1630.4,1205.3 L1632.5,1205.5 L1634.5,1205.7 L1636.5,1205.9 L1638.5,1206.1 L1640.5,1206.2 L1642.5,1206.4 L1644.5,1206.6 L1646.5,1206.8 L1648.5,1207 L1650.5,1207.2 L1652.5,1207.5 L1654.5,1207.7 L1656.5,1207.9 L1658.5,1208.1 L1660.5,1208.2" fill="none" stroke="#03396c" stroke-width="4.7" stroke-linecap="round" stroke-linejoin="round"/>
<line x1="1376" y1="1213.6" x2="1660.5" y2="1213.6" stroke="#03396c" stroke-width="4.7"/>
<rect x="689" y="1209" width="13" height="10" fill="#333333"/>
<text x="680.5" y="1227.5" text-anchor="end" font-family="&quot;Liberation Serif&quot;, serif" font-weight="bold" font-size="40.2" fill="#4d4d4d" stroke="#4d4d4d" stroke-width="0.7">Musculoskeletal</text>
<polygon points="1089.1,1285.6 1089.5,1285.6 1090.5,1285.5 1091.5,1285.4 1092.5,1285.3 1093.5,1285.2 1094.5,1285.1 1095.5,1285.1 1096.5,1285 1097.5,1284.9 1098.5,1284.8 1099.5,1284.7 1100.5,1284.6 1101.5,1284.5 1102.5,1284.4 1103.5,1284.3 1104.5,1284.3 1105.5,1284.2 1106.5,1284.1 1107.5,1284 1108.5,1283.9 1109.5,1283.8 1110.5,1283.7 1111.5,1283.6 1112.5,1283.4 1113.5,1283.3 1114.5,1283.2 1115.5,1283.1 1116.5,1283 1117.4,1282.8 1118.4,1282.7 1119.4,1282.6 1120.4,1282.5 1121.4,1282.3 1122.4,1282.2 1123.4,1282.1 1124.4,1282 1125.4,1281.8 1126.4,1281.7 1127.4,1281.6 1128.4,1281.5 1129.4,1281.3 1130.4,1281.2 1131.4,1281.1 1132.4,1281 1133.4,1280.9 1134.4,1280.8 1135.4,1280.7 1136.4,1280.6 1137.4,1280.5 1138.4,1280.4 1139.4,1280.3 1140.4,1280.2 1141.4,1280.1 1142.4,1280 1143.4,1280 1144.4,1279.9 1145.4,1279.8 1146.4,1279.7 1147.4,1279.6 1148.4,1279.6 1149.4,1279.5 1150.4,1279.4 1151.4,1279.3 1152.4,1279.3 1153.4,1279.2 1154.4,1279.1 1155.4,1279 1156.4,1279 1157.4,1278.9 1158.4,1278.8 1159.4,1278.8 1160.4,1278.7 1161.4,1278.6 1162.4,1278.5 1163.4,1278.4 1164.4,1278.4 1165.4,1278.3 1166.4,1278.2 1167.4,1278.1 1168.4,1278 1169.4,1277.9 1170.4,1277.9 1171.4,1277.8 1172.4,1277.7 1173.4,1277.6 1174.4,1277.5 1175.4,1277.4 1176.4,1277.3 1177.4,1277.2 1178.4,1277.1 1179.4,1277 1180.4,1276.9 1181.4,1276.9 1182.4,1276.8 1183.4,1276.7 1184.4,1276.6 1185.4,1276.5 1186.4,1276.4 1187.4,1276.3 1188.4,1276.2 1189.4,1276.1 1190.4,1276 1191.4,1275.9 1192.4,1275.9 1193.4,1275.8 1194.4,1275.7 1195.4,1275.6 1196.4,1275.5 1197.4,1275.4 1198.4,1275.3 1199.4,1275.2 1200.4,1275.1 1201.4,1275 1202.4,1274.9 1203.4,1274.8 1204.4,1274.7 1205.4,1274.7 1206.4,1274.6 1207.4,1274.5 1208.4,1274.4 1209.4,1274.3 1210.4,1274.2 1211.4,1274.1 1212.4,1274.1 1213.4,1274 1214.4,1273.9 1215.4,1273.8 1216.4,1273.8 1217.4,1273.7 1218.4,1273.6 1219.4,1273.6 1220.4,1273.5 1221.4,1273.5 1222.4,1273.4 1223.4,1273.4 1224.4,1273.3 1225.4,1273.3 1226.4,1273.2 1227.4,1273.2 1228.4,1273.2 1229.4,1273.1 1230.4,1273.1 1231.4,1273 1232.4,1273 1233.4,1272.9 1234.4,1272.9 1235.4,1272.9 1236.4,1272.8 1237.4,1272.8 1238.4,1272.8 1239.4,1272.7 1240.4,1272.7 1241.4,1272.7 1242.4,1272.7 1243.4,1272.7 1244.4,1272.6 1245.4,1272.6 1246.4,1272.6 1247.4,1272.6 1248.4,1272.6 1249.4,1272.6 1250.4,1272.6 1251.4,1272.6 1252.4,1272.6 1253.4,1272.7 1254.4,1272.7 1255.4,1272.7 1256.4,1272.7 1257.4,1272.7 1258.4,1272.8 1259.4,1272.8 1260.4,1272.8 1261.4,1272.9 1262.4,1272.9 1263.4,1273 1264.4,1273 1265.4,1273 1266.4,1273.1 1267.4,1273.1 1268.4,1273.2 1269.4,1273.2 1270.4,1273.3 1271.4,1273.3 1272.4,1273.3 1273.4,1273.4 1274.4,1273.4 1275.4,1273.4 1276.4,1273.5 1277.4,1273.5 1278.4,1273.5 1279.4,1273.6 1280.4,1273.6 1281.4,1273.6 1282.4,1273.7 1283.4,1273.7 1284.4,1273.7 1285.4,1273.7 1286.4,1273.8 1287.4,1273.8 1288.4,1273.8 1289.4,1273.9 1290.4,1273.9 1291.4,1273.9 1292.4,1273.9 1293.4,1274 1294.4,1274 1295.4,1274 1296.4,1274.1 1297.4,1274.1 1298.4,1274.1 1299.4,1274.2 1300.4,1274.2 1301.4,1274.3 1302.4,1274.3 1303.4,1274.3 1304.4,1274.4 1305.4,1274.4 1306.4,1274.5 1307.4,1274.6 1308.4,1274.6 1309.4,1274.7 1310.4,1274.8 1311.4,1274.9 1312.4,1275 1313.4,1275.1 1314.4,1275.2 1315.4,1275.3 1316.4,1275.4 1317.4,1275.5 1318.4,1275.7 1319.4,1275.8 1320.4,1275.9 1321.4,1276 1322.4,1276.2 1323.4,1276.3 1324.4,1276.4 1325.4,1276.6 1326.4,1276.7 1327.4,1276.8 1328.4,1277 1329.4,1277.1 1330.4,1277.2 1331.4,1277.4 1332.4,1277.5 1333.4,1277.6 1334.4,1277.8 1335.4,1277.9 1336.4,1278 1337.4,1278.1 1338.4,1278.2 1339.4,1278.4 1340.4,1278.5 1341.4,1278.6 1342.4,1278.7 1343.4,1278.8 1344.4,1278.9 1345.4,1279 1346.4,1279.2 1347.4,1279.3 1348.4,1279.4 1349.4,1279.5 1350.4,1279.6 1351.4,1279.7 1352.4,1279.9 1353.4,1280 1354.4,1280.1 1355.4,1280.2 1356.4,1280.3 1357.4,1280.4 1358.4,1280.5 1359.4,1280.7 1360.4,1280.8 1361.3,1280.9 1362.3,1281 1363.3,1281.1 1364.3,1281.2 1365.3,1281.3 1366.3,1281.5 1367.3,1281.6 1368.3,1281.7 1369.3,1281.8 1370.3,1281.9 1371.3,1282 1372.3,1282.1 1373.3,1282.2 1374.3,1282.4 1375.3,1282.5 1376.3,1282.6 1377.3,1282.7 1378.3,1282.8 1379.3,1282.9 1380.3,1283 1381.3,1283.2 1382.3,1283.3 1383.3,1283.4 1384.3,1283.5 1385.3,1283.6 1386.3,1283.7 1387.3,1283.8 1388.3,1283.9 1389.3,1284.1 1390.3,1284.2 1391.3,1284.3 1392.3,1284.4 1393.3,1284.5 1394.3,1284.6 1395.3,1284.7 1396.3,1284.8 1397.3,1284.9 1398.3,1285 1399.3,1285.1 1400.3,1285.2 1401.3,1285.3 1402.3,1285.4 1403.3,1285.5 1403.9,1285.6 1403.9,1293.6 1089.1,1293.6" fill="#d1e1ec"/>
<rect x="1247" y="1272.6" width="10" height="21" fill="#005b96"/>
<path d="M994.5,1291.1 L996.5,1291 L998.5,1290.9 L1000.5,1290.7 L1002.5,1290.5 L1004.5,1290.4 L1006.5,1290.2 L1008.5,1290.1 L1010.5,1290 L1012.5,1289.8 L1014.5,1289.7 L1016.5,1289.6 L1018.5,1289.5 L1020.5,1289.3 L1022.5,1289.2 L1024.5,1289.1 L1026.5,1289 L1028.5,1288.9 L1030.5,1288.8 L1032.5,1288.7 L1034.5,1288.6 L1036.5,1288.5 L1038.5,1288.4 L1040.5,1288.4 L1042.5,1288.3 L1044.5,1288.2 L1046.5,1288.1 L1048.5,1288 L1050.5,1287.9 L1052.5,1287.8 L1054.5,1287.8 L1056.5,1287.7 L1058.5,1287.6 L1060.5,1287.5 L1062.5,1287.5 L1064.5,1287.4 L1066.5,1287.3 L1068.5,1287.2 L1070.5,1287.1 L1072.5,1287 L1074.5,1286.8 L1076.5,1286.7 L1078.5,1286.5 L1080.5,1286.4 L1082.5,1286.2 L1084.5,1286 L1086.5,1285.8 L1088.5,1285.7 L1090.5,1285.5 L1092.5,1285.3 L1094.5,1285.1 L1096.5,1285 L1098.5,1284.8 L1100.5,1284.6 L1102.5,1284.4 L1104.5,1284.3 L1106.5,1284.1 L1108.5,1283.9 L1110.5,1283.7 L1112.5,1283.4 L1114.5,1283.2 L1116.5,1283 L1118.4,1282.7 L1120.4,1282.5 L1122.4,1282.2 L1124.4,1282 L1126.4,1281.7 L1128.4,1281.5 L1130.4,1281.2 L1132.4,1281 L1134.4,1280.8 L1136.4,1280.6 L1138.4,1280.4 L1140.4,1280.2 L1142.4,1280 L1144.4,1279.9 L1146.4,1279.7 L1148.4,1279.6 L1150.4,1279.4 L1152.4,1279.3 L1154.4,1279.1 L1156.4,1279 L1158.4,1278.8 L1160.4,1278.7 L1162.4,1278.5 L1164.4,1278.4 L1166.4,1278.2 L1168.4,1278 L1170.4,1277.9 L1172.4,1277.7 L1174.4,1277.5 L1176.4,1277.3 L1178.4,1277.1 L1180.4,1276.9 L1182.4,1276.8 L1184.4,1276.6 L1186.4,1276.4 L1188.4,1276.2 L1190.4,1276 L1192.4,1275.9 L1194.4,1275.7 L1196.4,1275.5 L1198.4,1275.3 L1200.4,1275.1 L1202.4,1274.9 L1204.4,1274.7 L1206.4,1274.6 L1208.4,1274.4 L1210.4,1274.2 L1212.4,1274.1 L1214.4,1273.9 L1216.4,1273.8 L1218.4,1273.6 L1220.4,1273.5 L1222.4,1273.4 L1224.4,1273.3 L1226.4,1273.2 L1228.4,1273.2 L1230.4,1273.1 L1232.4,1273 L1234.4,1272.9 L1236.4,1272.8 L1238.4,1272.8 L1240.4,1272.7 L1242.4,1272.7 L1244.4,1272.6 L1246.4,1272.6 L1248.4,1272.6 L1250.4,1272.6 L1252.4,1272.6 L1254.4,1272.7 L1256.4,1272.7 L1258.4,1272.8 L1260.4,1272.8 L1262.4,1272.9 L1264.4,1273 L1266.4,1273.1 L1268.4,1273.2 L1270.4,1273.3 L1272.4,1273.3 L1274.4,1273.4 L1276.4,1273.5 L1278.4,1273.5 L1280.4,1273.6 L1282.4,1273.7 L1284.4,1273.7 L1286.4,1273.8 L1288.4,1273.8 L1290.4,1273.9 L1292.4,1273.9 L1294.4,1274 L1296.4,1274.1 L1298.4,1274.1 L1300.4,1274.2 L1302.4,1274.3 L1304.4,1274.4 L1306.4,1274.5 L1308.4,1274.6 L1310.4,1274.8 L1312.4,1275 L1314.4,1275.2 L1316.4,1275.4 L1318.4,1275.7 L1320.4,1275.9 L1322.4,1276.2 L1324.4,1276.4 L1326.4,1276.7 L1328.4,1277 L1330.4,1277.2 L1332.4,1277.5 L1334.4,1277.8 L1336.4,1278 L1338.4,1278.2 L1340.4,1278.5 L1342.4,1278.7 L1344.4,1278.9 L1346.4,1279.2 L1348.4,1279.4 L1350.4,1279.6 L1352.4,1279.9 L1354.4,1280.1 L1356.4,1280.3 L1358.4,1280.5 L1360.4,1280.8 L1362.3,1281 L1364.3,1281.2 L1366.3,1281.5 L1368.3,1281.7 L1370.3,1281.9 L1372.3,1282.1 L1374.3,1282.4 L1376.3,1282.6 L1378.3,1282.8 L1380.3,1283 L1382.3,1283.3 L1384.3,1283.5 L1386.3,1283.7 L1388.3,1283.9 L1390.3,1284.2 L1392.3,1284.4 L1394.3,1284.6 L1396.3,1284.8 L1398.3,1285 L1400.3,1285.2 L1402.3,1285.4 L1404.3,1285.6 L1406.3,1285.8 L1408.3,1286 L1410.3,1286.2 L1412.3,1286.4 L1414.3,1286.6 L1416.3,1286.8 L1418.3,1287 L1420.3,1287.2 L1422.3,1287.3 L1424.3,1287.5 L1426.3,1287.6 L1428.3,1287.8 L1430.3,1287.9 L1432.3,1288.1 L1434.3,1288.2 L1436.3,1288.3 L1438.3,1288.4 L1440.3,1288.5 L1442.3,1288.6 L1444.3,1288.7 L1446.3,1288.8 L1448.3,1288.9 L1450.3,1289 L1452.3,1289.1 L1454.3,1289.2 L1456.3,1289.3 L1458.3,1289.4 L1460.3,1289.5 L1462.3,1289.6 L1464.3,1289.7 L1466.3,1289.8 L1468.3,1289.9 L1470.3,1290 L1472.3,1290.1 L1474.3,1290.2 L1476.3,1290.3 L1478.3,1290.4 L1480.3,1290.4 L1482.3,1290.5 L1483.3,1290.6" fill="none" stroke="#03396c" stroke-width="4.7" stroke-linecap="round" stroke-linejoin="round"/>
<line x1="994.5" y1="1293.6" x2="1483.3" y2="1293.6" stroke="#03396c" stroke-width="4.7"/>
<rect x="689" y="1289" width="13" height="10" fill="#333333"/>
<text x="680.5" y="1307.5" text-anchor="end" font-family="&quot;Liberation Serif&quot;, serif" font-weight="bold" font-size="40.2" fill="#4d4d4d" stroke="#4d4d4d" stroke-width="0.7">Genitourinary</text>
<polygon points="1127.9,1365.9 1128.6,1365.8 1129.6,1365.8 1130.6,1365.7 1131.6,1365.6 1132.6,1365.5 1133.6,1365.4 1134.6,1365.3 1135.6,1365.2 1136.6,1365.2 1137.6,1365.1 1138.6,1365 1139.6,1364.9 1140.6,1364.8 1141.6,1364.7 1142.6,1364.6 1143.6,1364.5 1144.6,1364.4 1145.6,1364.3 1146.6,1364.2 1147.6,1364.1 1148.6,1364.1 1149.6,1364 1150.6,1363.9 1151.6,1363.8 1152.6,1363.6 1153.6,1363.5 1154.6,1363.4 1155.6,1363.3 1156.6,1363.2 1157.6,1363.1 1158.6,1363 1159.6,1362.9 1160.6,1362.8 1161.6,1362.6 1162.6,1362.5 1163.6,1362.4 1164.6,1362.3 1165.6,1362.2 1166.6,1362 1167.6,1361.9 1168.6,1361.8 1169.6,1361.7 1170.6,1361.6 1171.6,1361.5 1172.6,1361.4 1173.6,1361.3 1174.6,1361.1 1175.6,1361 1176.6,1360.9 1177.6,1360.8 1178.6,1360.8 1179.6,1360.7 1180.6,1360.6 1181.6,1360.5 1182.6,1360.4 1183.6,1360.3 1184.6,1360.2 1185.6,1360.2 1186.6,1360.1 1187.6,1360 1188.6,1359.9 1189.6,1359.9 1190.6,1359.8 1191.7,1359.7 1192.7,1359.7 1193.7,1359.6 1194.7,1359.5 1195.7,1359.4 1196.7,1359.4 1197.7,1359.3 1198.7,1359.2 1199.7,1359.2 1200.7,1359.1 1201.7,1359 1202.7,1358.9 1203.7,1358.8 1204.7,1358.7 1205.7,1358.7 1206.7,1358.6 1207.7,1358.5 1208.7,1358.4 1209.7,1358.3 1210.7,1358.1 1211.7,1358 1212.7,1357.9 1213.7,1357.8 1214.7,1357.7 1215.7,1357.5 1216.7,1357.4 1217.7,1357.3 1218.7,1357.1 1219.7,1357 1220.7,1356.8 1221.7,1356.7 1222.7,1356.6 1223.7,1356.4 1224.7,1356.3 1225.7,1356.2 1226.7,1356.1 1227.7,1355.9 1228.7,1355.8 1229.7,1355.7 1230.7,1355.6 1231.7,1355.5 1232.7,1355.4 1233.7,1355.4 1234.7,1355.3 1235.7,1355.2 1236.7,1355.1 1237.7,1355 1238.7,1355 1239.7,1354.9 1240.7,1354.8 1241.7,1354.8 1242.7,1354.7 1243.7,1354.6 1244.7,1354.6 1245.7,1354.5 1246.7,1354.5 1247.7,1354.4 1248.7,1354.3 1249.7,1354.3 1250.7,1354.2 1251.7,1354.2 1252.7,1354.1 1253.7,1354.1 1254.7,1354 1255.7,1354 1256.7,1354 1257.7,1353.9 1258.7,1353.9 1259.7,1353.8 1260.7,1353.8 1261.7,1353.8 1262.7,1353.7 1263.7,1353.7 1264.7,1353.7 1265.7,1353.7 1266.7,1353.6 1267.7,1353.6 1268.7,1353.6 1269.7,1353.5 1270.7,1353.5 1271.7,1353.5 1272.7,1353.4 1273.7,1353.4 1274.7,1353.4 1275.7,1353.4 1276.7,1353.4 1277.7,1353.3 1278.7,1353.3 1279.7,1353.3 1280.7,1353.3 1281.7,1353.3 1282.7,1353.2 1283.7,1353.2 1284.7,1353.2 1285.7,1353.2 1286.7,1353.2 1287.7,1353.2 1288.7,1353.2 1289.7,1353.2 1290.7,1353.2 1291.7,1353.2 1292.7,1353.2 1293.7,1353.2 1294.7,1353.2 1295.8,1353.3 1296.8,1353.3 1297.8,1353.3 1298.8,1353.3 1299.8,1353.3 1300.8,1353.4 1301.8,1353.4 1302.8,1353.4 1303.8,1353.4 1304.8,1353.5 1305.8,1353.5 1306.8,1353.5 1307.8,1353.5 1308.8,1353.6 1309.8,1353.6 1310.8,1353.6 1311.8,1353.7 1312.8,1353.7 1313.8,1353.7 1314.8,1353.7 1315.8,1353.8 1316.8,1353.8 1317.8,1353.8 1318.8,1353.9 1319.8,1353.9 1320.8,1353.9 1321.8,1353.9 1322.8,1354 1323.8,1354 1324.8,1354 1325.8,1354.1 1326.8,1354.1 1327.8,1354.2 1328.8,1354.2 1329.8,1354.2 1330.8,1354.3 1331.8,1354.3 1332.8,1354.3 1333.8,1354.4 1334.8,1354.4 1335.8,1354.5 1336.8,1354.5 1337.8,1354.6 1338.8,1354.6 1339.8,1354.7 1340.8,1354.7 1341.8,1354.7 1342.8,1354.8 1343.8,1354.9 1344.8,1354.9 1345.8,1355 1346.8,1355 1347.8,1355.1 1348.8,1355.2 1349.8,1355.2 1350.8,1355.3 1351.8,1355.4 1352.8,1355.4 1353.8,1355.5 1354.8,1355.6 1355.8,1355.7 1356.8,1355.8 1357.8,1355.9 1358.8,1356 1359.8,1356 1360.8,1356.1 1361.8,1356.2 1362.8,1356.3 1363.8,1356.4 1364.8,1356.5 1365.8,1356.6 1366.8,1356.7 1367.8,1356.8 1368.8,1356.9 1369.8,1357 1370.8,1357.1 1371.8,1357.1 1372.8,1357.2 1373.8,1357.3 1374.8,1357.4 1375.8,1357.5 1376.8,1357.6 1377.8,1357.6 1378.8,1357.7 1379.8,1357.8 1380.8,1357.9 1381.8,1357.9 1382.8,1358 1383.8,1358.1 1384.8,1358.2 1385.8,1358.2 1386.8,1358.3 1387.8,1358.4 1388.8,1358.5 1389.8,1358.5 1390.8,1358.6 1391.8,1358.7 1392.8,1358.8 1393.8,1358.8 1394.8,1358.9 1395.8,1359 1396.8,1359.1 1397.8,1359.1 1398.8,1359.2 1399.8,1359.3 1400.9,1359.4 1401.9,1359.5 1402.9,1359.5 1403.9,1359.6 1404.9,1359.7 1405.9,1359.8 1406.9,1359.9 1407.9,1360 1408.9,1360.1 1409.9,1360.2 1410.9,1360.3 1411.9,1360.4 1412.9,1360.5 1413.9,1360.6 1414.9,1360.7 1415.9,1360.8 1416.9,1361 1417.9,1361.1 1418.9,1361.2 1419.9,1361.3 1420.9,1361.4 1421.9,1361.6 1422.9,1361.7 1423.9,1361.8 1424.9,1361.9 1425.9,1362.1 1426.9,1362.2 1427.9,1362.3 1428.9,1362.4 1429.9,1362.6 1430.9,1362.7 1431.9,1362.8 1432.9,1362.9 1433.9,1363.1 1434.9,1363.2 1435.9,1363.3 1436.9,1363.4 1437.9,1363.5 1438.9,1363.7 1439.9,1363.8 1440.9,1363.9 1441.9,1364 1442.9,1364.1 1443.9,1364.3 1444.9,1364.4 1445.9,1364.5 1446.9,1364.6 1447.9,1364.7 1448.9,1364.9 1449.9,1365 1450.9,1365.1 1451.9,1365.2 1452.9,1365.3 1453.9,1365.4 1454.9,1365.6 1455.9,1365.7 1456.9,1365.8 1457.9,1365.9 1458.9,1366 1459.9,1366.1 1460.3,1366.1 1460.3,1373.6 1127.9,1373.6" fill="#d1e1ec"/>
<rect x="1289" y="1353.2" width="10" height="20.4" fill="#005b96"/>
<path d="M1035.5,1371.1 L1037.5,1371.1 L1039.5,1370.9 L1041.5,1370.8 L1043.5,1370.7 L1045.5,1370.6 L1047.5,1370.4 L1049.5,1370.3 L1051.5,1370.2 L1053.5,1370.1 L1055.5,1369.9 L1057.5,1369.8 L1059.5,1369.7 L1061.5,1369.6 L1063.5,1369.5 L1065.5,1369.3 L1067.5,1369.2 L1069.5,1369.1 L1071.5,1369 L1073.5,1368.9 L1075.5,1368.8 L1077.5,1368.6 L1079.5,1368.5 L1081.5,1368.4 L1083.5,1368.3 L1085.5,1368.2 L1087.5,1368.1 L1089.6,1368 L1091.6,1368 L1093.6,1367.9 L1095.6,1367.8 L1097.6,1367.7 L1099.6,1367.6 L1101.6,1367.6 L1103.6,1367.5 L1105.6,1367.4 L1107.6,1367.3 L1109.6,1367.2 L1111.6,1367.1 L1113.6,1367 L1115.6,1366.9 L1117.6,1366.7 L1119.6,1366.6 L1121.6,1366.4 L1123.6,1366.3 L1125.6,1366.1 L1127.6,1365.9 L1129.6,1365.8 L1131.6,1365.6 L1133.6,1365.4 L1135.6,1365.2 L1137.6,1365.1 L1139.6,1364.9 L1141.6,1364.7 L1143.6,1364.5 L1145.6,1364.3 L1147.6,1364.1 L1149.6,1364 L1151.6,1363.8 L1153.6,1363.5 L1155.6,1363.3 L1157.6,1363.1 L1159.6,1362.9 L1161.6,1362.6 L1163.6,1362.4 L1165.6,1362.2 L1167.6,1361.9 L1169.6,1361.7 L1171.6,1361.5 L1173.6,1361.3 L1175.6,1361 L1177.6,1360.8 L1179.6,1360.7 L1181.6,1360.5 L1183.6,1360.3 L1185.6,1360.2 L1187.6,1360 L1189.6,1359.9 L1191.7,1359.7 L1193.7,1359.6 L1195.7,1359.4 L1197.7,1359.3 L1199.7,1359.2 L1201.7,1359 L1203.7,1358.8 L1205.7,1358.7 L1207.7,1358.5 L1209.7,1358.3 L1211.7,1358 L1213.7,1357.8 L1215.7,1357.5 L1217.7,1357.3 L1219.7,1357 L1221.7,1356.7 L1223.7,1356.4 L1225.7,1356.2 L1227.7,1355.9 L1229.7,1355.7 L1231.7,1355.5 L1233.7,1355.4 L1235.7,1355.2 L1237.7,1355 L1239.7,1354.9 L1241.7,1354.8 L1243.7,1354.6 L1245.7,1354.5 L1247.7,1354.4 L1249.7,1354.3 L1251.7,1354.2 L1253.7,1354.1 L1255.7,1354 L1257.7,1353.9 L1259.7,1353.8 L1261.7,1353.8 L1263.7,1353.7 L1265.7,1353.7 L1267.7,1353.6 L1269.7,1353.5 L1271.7,1353.5 L1273.7,1353.4 L1275.7,1353.4 L1277.7,1353.3 L1279.7,1353.3 L1281.7,1353.3 L1283.7,1353.2 L1285.7,1353.2 L1287.7,1353.2 L1289.7,1353.2 L1291.7,1353.2 L1293.7,1353.2 L1295.8,1353.3 L1297.8,1353.3 L1299.8,1353.3 L1301.8,1353.4 L1303.8,1353.4 L1305.8,1353.5 L1307.8,1353.5 L1309.8,1353.6 L1311.8,1353.7 L1313.8,1353.7 L1315.8,1353.8 L1317.8,1353.8 L1319.8,1353.9 L1321.8,1353.9 L1323.8,1354 L1325.8,1354.1 L1327.8,1354.2 L1329.8,1354.2 L1331.8,1354.3 L1333.8,1354.4 L1335.8,1354.5 L1337.8,1354.6 L1339.8,1354.7 L1341.8,1354.7 L1343.8,1354.9 L1345.8,1355 L1347.8,1355.1 L1349.8,1355.2 L1351.8,1355.4 L1353.8,1355.5 L1355.8,1355.7 L1357.8,1355.9 L1359.8,1356 L1361.8,1356.2 L1363.8,1356.4 L1365.8,1356.6 L1367.8,1356.8 L1369.8,1357 L1371.8,1357.1 L1373.8,1357.3 L1375.8,1357.5 L1377.8,1357.6 L1379.8,1357.8 L1381.8,1357.9 L1383.8,1358.1 L1385.8,1358.2 L1387.8,1358.4 L1389.8,1358.5 L1391.8,1358.7 L1393.8,1358.8 L1395.8,1359 L1397.8,1359.1 L1399.8,1359.3 L1401.9,1359.5 L1403.9,1359.6 L1405.9,1359.8 L1407.9,1360 L1409.9,1360.2 L1411.9,1360.4 L1413.9,1360.6 L1415.9,1360.8 L1417.9,1361.1 L1419.9,1361.3 L1421.9,1361.6 L1423.9,1361.8 L1425.9,1362.1 L1427.9,1362.3 L1429.9,1362.6 L1431.9,1362.8 L1433.9,1363.1 L1435.9,1363.3 L1437.9,1363.5 L1439.9,1363.8 L1441.9,1364 L1443.9,1364.3 L1445.9,1364.5 L1447.9,1364.7 L1449.9,1365 L1451.9,1365.2 L1453.9,1365.4 L1455.9,1365.7 L1457.9,1365.9 L1459.9,1366.1 L1461.9,1366.3 L1463.9,1366.5 L1465.9,1366.7 L1467.9,1366.9 L1469.9,1367 L1471.9,1367.2 L1473.9,1367.4 L1475.9,1367.6 L1477.9,1367.7 L1479.9,1367.8 L1481.9,1368 L1483.9,1368.1 L1485.9,1368.2 L1487.9,1368.3 L1489.9,1368.4 L1491.9,1368.4 L1493.9,1368.5 L1495.9,1368.6 L1497.9,1368.7 L1499.9,1368.7 L1501.9,1368.8 L1504,1368.9 L1506,1368.9 L1508,1369 L1510,1369.1 L1512,1369.2 L1514,1369.2 L1516,1369.3 L1518,1369.4 L1520,1369.5 L1522,1369.5 L1524,1369.6 L1526,1369.7 L1528,1369.8 L1530,1369.8 L1532,1369.9 L1534,1370 L1536,1370.1 L1538,1370.1 L1540,1370.2 L1542,1370.3 L1544,1370.4 L1546,1370.4 L1548,1370.5 L1550,1370.6 L1552,1370.7 L1554,1370.7 L1556,1370.8" fill="none" stroke="#03396c" stroke-width="4.7" stroke-linecap="round" stroke-linejoin="round"/>
<line x1="1035.5" y1="1373.6" x2="1556" y2="1373.6" stroke="#03396c" stroke-width="4.7"/>
<rect x="689" y="1369" width="13" height="10" fill="#333333"/>
<text x="680.5" y="1387.5" text-anchor="end" font-family="&quot;Liberation Serif&quot;, serif" font-weight="bold" font-size="40.2" fill="#4d4d4d" stroke="#4d4d4d" stroke-width="0.7">Pregancy, Childbirth, &amp; Puerperium</text>
<polygon points="1134.2,1445.6 1134.5,1445.6 1135.5,1445.5 1136.5,1445.4 1137.5,1445.4 1138.5,1445.3 1139.5,1445.2 1140.5,1445.1 1141.5,1445 1142.5,1444.9 1143.5,1444.8 1144.5,1444.7 1145.5,1444.6 1146.5,1444.5 1147.5,1444.4 1148.5,1444.3 1149.5,1444.2 1150.5,1444.1 1151.5,1444 1152.5,1443.9 1153.5,1443.8 1154.5,1443.7 1155.5,1443.6 1156.5,1443.5 1157.5,1443.4 1158.5,1443.3 1159.5,1443.2 1160.5,1443.1 1161.5,1443 1162.5,1442.9 1163.5,1442.7 1164.5,1442.6 1165.5,1442.5 1166.5,1442.4 1167.5,1442.3 1168.5,1442.1 1169.5,1442 1170.5,1441.9 1171.5,1441.8 1172.5,1441.6 1173.5,1441.5 1174.5,1441.4 1175.5,1441.3 1176.5,1441.1 1177.5,1441 1178.5,1440.9 1179.5,1440.8 1180.5,1440.7 1181.5,1440.5 1182.5,1440.4 1183.5,1440.3 1184.5,1440.2 1185.5,1440.1 1186.5,1440 1187.5,1439.9 1188.5,1439.8 1189.5,1439.7 1190.5,1439.6 1191.5,1439.5 1192.5,1439.4 1193.5,1439.3 1194.5,1439.3 1195.5,1439.2 1196.5,1439.1 1197.5,1439 1198.5,1438.9 1199.5,1438.8 1200.5,1438.7 1201.5,1438.7 1202.5,1438.6 1203.5,1438.5 1204.5,1438.4 1205.5,1438.3 1206.5,1438.2 1207.5,1438.1 1208.5,1438 1209.5,1437.9 1210.5,1437.8 1211.5,1437.7 1212.5,1437.6 1213.5,1437.4 1214.5,1437.3 1215.5,1437.2 1216.5,1437.1 1217.5,1437 1218.5,1436.9 1219.5,1436.8 1220.5,1436.6 1221.5,1436.5 1222.5,1436.4 1223.5,1436.3 1224.5,1436.2 1225.5,1436.1 1226.5,1436 1227.5,1435.9 1228.5,1435.8 1229.5,1435.7 1230.5,1435.6 1231.5,1435.5 1232.5,1435.4 1233.5,1435.4 1234.5,1435.3 1235.5,1435.2 1236.5,1435.1 1237.5,1435.1 1238.5,1435 1239.5,1434.9 1240.5,1434.8 1241.5,1434.8 1242.5,1434.7 1243.5,1434.6 1244.5,1434.6 1245.5,1434.5 1246.5,1434.4 1247.5,1434.4 1248.5,1434.3 1249.5,1434.3 1250.5,1434.2 1251.5,1434.1 1252.5,1434.1 1253.5,1434.1 1254.5,1434 1255.5,1434 1256.5,1433.9 1257.5,1433.9 1258.5,1433.9 1259.5,1433.8 1260.5,1433.8 1261.5,1433.8 1262.5,1433.8 1263.5,1433.8 1264.5,1433.7 1265.5,1433.7 1266.5,1433.7 1267.5,1433.7 1268.5,1433.7 1269.5,1433.7 1270.5,1433.6 1271.5,1433.6 1272.5,1433.6 1273.5,1433.6 1274.5,1433.6 1275.5,1433.6 1276.5,1433.6 1277.5,1433.6 1278.5,1433.6 1279.5,1433.5 1280.5,1433.5 1281.5,1433.5 1282.5,1433.5 1283.5,1433.5 1284.5,1433.5 1285.5,1433.5 1286.5,1433.5 1287.5,1433.5 1288.5,1433.5 1289.5,1433.5 1290.5,1433.5 1291.5,1433.5 1292.5,1433.5 1293.5,1433.5 1294.5,1433.5 1295.5,1433.5 1296.5,1433.5 1297.5,1433.5 1298.5,1433.5 1299.5,1433.6 1300.5,1433.6 1301.5,1433.6 1302.5,1433.6 1303.5,1433.6 1304.5,1433.6 1305.5,1433.6 1306.5,1433.6 1307.5,1433.7 1308.5,1433.7 1309.5,1433.7 1310.5,1433.7 1311.5,1433.7 1312.5,1433.7 1313.5,1433.7 1314.5,1433.8 1315.5,1433.8 1316.5,1433.8 1317.5,1433.8 1318.5,1433.8 1319.5,1433.9 1320.5,1433.9 1321.5,1433.9 1322.5,1434 1323.5,1434 1324.5,1434 1325.5,1434.1 1326.5,1434.1 1327.5,1434.1 1328.5,1434.2 1329.5,1434.2 1330.5,1434.3 1331.5,1434.3 1332.5,1434.4 1333.5,1434.4 1334.5,1434.5 1335.5,1434.6 1336.5,1434.6 1337.5,1434.7 1338.5,1434.7 1339.5,1434.8 1340.5,1434.8 1341.5,1434.9 1342.5,1435 1343.5,1435 1344.5,1435.1 1345.5,1435.1 1346.5,1435.2 1347.5,1435.3 1348.5,1435.3 1349.5,1435.4 1350.5,1435.5 1351.5,1435.6 1352.5,1435.6 1353.5,1435.7 1354.5,1435.8 1355.5,1435.9 1356.5,1435.9 1357.5,1436 1358.5,1436.1 1359.5,1436.2 1360.5,1436.3 1361.5,1436.4 1362.5,1436.5 1363.5,1436.6 1364.5,1436.7 1365.5,1436.8 1366.5,1436.9 1367.5,1437 1368.5,1437.1 1369.5,1437.2 1370.5,1437.3 1371.5,1437.4 1372.5,1437.5 1373.5,1437.6 1374.5,1437.7 1375.5,1437.8 1376.5,1438 1377.5,1438.1 1378.5,1438.2 1379.5,1438.4 1380.5,1438.5 1381.5,1438.6 1382.5,1438.7 1383.5,1438.8 1384.5,1439 1385.5,1439.1 1386.5,1439.1 1387.5,1439.2 1388.5,1439.3 1389.5,1439.4 1390.5,1439.5 1391.5,1439.6 1392.5,1439.7 1393.5,1439.8 1394.5,1439.9 1395.5,1439.9 1396.5,1440 1397.5,1440.1 1398.5,1440.2 1399.5,1440.3 1400.5,1440.3 1401.5,1440.4 1402.5,1440.5 1403.5,1440.6 1404.5,1440.7 1405.5,1440.8 1406.5,1440.9 1407.5,1441 1408.5,1441.1 1409.5,1441.1 1410.5,1441.2 1411.5,1441.3 1412.5,1441.4 1413.5,1441.5 1414.5,1441.6 1415.5,1441.7 1416.5,1441.8 1417.5,1441.9 1418.5,1442 1419.5,1442.1 1420.5,1442.2 1421.5,1442.3 1422.5,1442.4 1423.5,1442.5 1424.5,1442.6 1425.5,1442.8 1426.5,1442.9 1427.5,1443 1428.5,1443.1 1429.5,1443.2 1430.5,1443.3 1431.5,1443.4 1432.5,1443.5 1433.5,1443.6 1434.5,1443.7 1435.5,1443.8 1436.5,1443.9 1437.5,1444 1438.5,1444.1 1439.5,1444.2 1440.5,1444.2 1441.5,1444.3 1442.5,1444.4 1443.5,1444.5 1444.5,1444.6 1445.5,1444.7 1446.5,1444.8 1447.5,1444.9 1448.5,1445 1449.5,1445.1 1450.5,1445.2 1451.5,1445.3 1452.5,1445.4 1453.5,1445.5 1454.5,1445.6 1455.5,1445.7 1456.5,1445.8 1457.5,1445.9 1458.5,1446 1459.5,1446.1 1460,1446.1 1460,1453.6 1134.2,1453.6" fill="#d1e1ec"/>
<rect x="1290.3" y="1433.5" width="10" height="20.1" fill="#005b96"/>
<path d="M1032.5,1451.1 L1034.5,1451.1 L1036.5,1451 L1038.5,1450.9 L1040.5,1450.8 L1042.5,1450.6 L1044.5,1450.5 L1046.5,1450.4 L1048.5,1450.3 L1050.5,1450.2 L1052.5,1450.1 L1054.5,1450 L1056.5,1449.9 L1058.5,1449.8 L1060.5,1449.7 L1062.5,1449.6 L1064.5,1449.4 L1066.5,1449.3 L1068.5,1449.2 L1070.5,1449.1 L1072.5,1449 L1074.5,1448.9 L1076.5,1448.8 L1078.5,1448.7 L1080.5,1448.6 L1082.5,1448.5 L1084.5,1448.4 L1086.5,1448.2 L1088.5,1448.1 L1090.5,1448 L1092.5,1447.8 L1094.5,1447.7 L1096.5,1447.6 L1098.5,1447.5 L1100.5,1447.3 L1102.5,1447.2 L1104.5,1447.1 L1106.5,1447 L1108.5,1446.9 L1110.5,1446.8 L1112.5,1446.7 L1114.5,1446.6 L1116.5,1446.5 L1118.5,1446.4 L1120.5,1446.3 L1122.5,1446.2 L1124.5,1446.1 L1126.5,1446 L1128.5,1445.9 L1130.5,1445.8 L1132.5,1445.7 L1134.5,1445.6 L1136.5,1445.4 L1138.5,1445.3 L1140.5,1445.1 L1142.5,1444.9 L1144.5,1444.7 L1146.5,1444.5 L1148.5,1444.3 L1150.5,1444.1 L1152.5,1443.9 L1154.5,1443.7 L1156.5,1443.5 L1158.5,1443.3 L1160.5,1443.1 L1162.5,1442.9 L1164.5,1442.6 L1166.5,1442.4 L1168.5,1442.1 L1170.5,1441.9 L1172.5,1441.6 L1174.5,1441.4 L1176.5,1441.1 L1178.5,1440.9 L1180.5,1440.7 L1182.5,1440.4 L1184.5,1440.2 L1186.5,1440 L1188.5,1439.8 L1190.5,1439.6 L1192.5,1439.4 L1194.5,1439.3 L1196.5,1439.1 L1198.5,1438.9 L1200.5,1438.7 L1202.5,1438.6 L1204.5,1438.4 L1206.5,1438.2 L1208.5,1438 L1210.5,1437.8 L1212.5,1437.6 L1214.5,1437.3 L1216.5,1437.1 L1218.5,1436.9 L1220.5,1436.6 L1222.5,1436.4 L1224.5,1436.2 L1226.5,1436 L1228.5,1435.8 L1230.5,1435.6 L1232.5,1435.4 L1234.5,1435.3 L1236.5,1435.1 L1238.5,1435 L1240.5,1434.8 L1242.5,1434.7 L1244.5,1434.6 L1246.5,1434.4 L1248.5,1434.3 L1250.5,1434.2 L1252.5,1434.1 L1254.5,1434 L1256.5,1433.9 L1258.5,1433.9 L1260.5,1433.8 L1262.5,1433.8 L1264.5,1433.7 L1266.5,1433.7 L1268.5,1433.7 L1270.5,1433.6 L1272.5,1433.6 L1274.5,1433.6 L1276.5,1433.6 L1278.5,1433.6 L1280.5,1433.5 L1282.5,1433.5 L1284.5,1433.5 L1286.5,1433.5 L1288.5,1433.5 L1290.5,1433.5 L1292.5,1433.5 L1294.5,1433.5 L1296.5,1433.5 L1298.5,1433.5 L1300.5,1433.6 L1302.5,1433.6 L1304.5,1433.6 L1306.5,1433.6 L1308.5,1433.7 L1310.5,1433.7 L1312.5,1433.7 L1314.5,1433.8 L1316.5,1433.8 L1318.5,1433.8 L1320.5,1433.9 L1322.5,1434 L1324.5,1434 L1326.5,1434.1 L1328.5,1434.2 L1330.5,1434.3 L1332.5,1434.4 L1334.5,1434.5 L1336.5,1434.6 L1338.5,1434.7 L1340.5,1434.8 L1342.5,1435 L1344.5,1435.1 L1346.5,1435.2 L1348.5,1435.3 L1350.5,1435.5 L1352.5,1435.6 L1354.5,1435.8 L1356.5,1435.9 L1358.5,1436.1 L1360.5,1436.3 L1362.5,1436.5 L1364.5,1436.7 L1366.5,1436.9 L1368.5,1437.1 L1370.5,1437.3 L1372.5,1437.5 L1374.5,1437.7 L1376.5,1438 L1378.5,1438.2 L1380.5,1438.5 L1382.5,1438.7 L1384.5,1439 L1386.5,1439.1 L1388.5,1439.3 L1390.5,1439.5 L1392.5,1439.7 L1394.5,1439.9 L1396.5,1440 L1398.5,1440.2 L1400.5,1440.3 L1402.5,1440.5 L1404.5,1440.7 L1406.5,1440.9 L1408.5,1441.1 L1410.5,1441.2 L1412.5,1441.4 L1414.5,1441.6 L1416.5,1441.8 L1418.5,1442 L1420.5,1442.2 L1422.5,1442.4 L1424.5,1442.6 L1426.5,1442.9 L1428.5,1443.1 L1430.5,1443.3 L1432.5,1443.5 L1434.5,1443.7 L1436.5,1443.9 L1438.5,1444.1 L1440.5,1444.2 L1442.5,1444.4 L1444.5,1444.6 L1446.5,1444.8 L1448.5,1445 L1450.5,1445.2 L1452.5,1445.4 L1454.5,1445.6 L1456.5,1445.8 L1458.5,1446 L1460.5,1446.1 L1462.5,1446.3 L1464.5,1446.5 L1466.5,1446.7 L1468.5,1446.9 L1470.5,1447.1 L1472.5,1447.3 L1474.5,1447.4 L1476.5,1447.6 L1478.5,1447.7 L1480.5,1447.9 L1482.5,1448 L1484.5,1448.1 L1486.5,1448.2 L1488.5,1448.3 L1490.5,1448.4 L1492.5,1448.5 L1494.5,1448.5 L1496.5,1448.6 L1498.5,1448.7 L1500.5,1448.7 L1502.5,1448.8 L1504.5,1448.9 L1506.5,1449 L1508.5,1449 L1510.5,1449.1 L1512.5,1449.2 L1514.5,1449.3 L1516.5,1449.3 L1518.5,1449.4 L1520.5,1449.5 L1522.5,1449.6 L1524.5,1449.6 L1526.5,1449.7 L1528.5,1449.8 L1530.5,1449.9 L1532.5,1449.9 L1534.5,1450 L1536.5,1450.1 L1538.5,1450.2 L1540.5,1450.2 L1542.5,1450.3 L1544.5,1450.4 L1546.5,1450.5 L1548.5,1450.5 L1550.5,1450.6 L1552.5,1450.7 L1554.5,1450.7 L1555.5,1450.8" fill="none" stroke="#03396c" stroke-width="4.7" stroke-linecap="round" stroke-linejoin="round"/>
<line x1="1032.5" y1="1453.6" x2="1555.5" y2="1453.6" stroke="#03396c" stroke-width="4.7"/>
<rect x="689" y="1449" width="13" height="10" fill="#333333"/>
<text x="680.5" y="1467.5" text-anchor="end" font-family="&quot;Liberation Serif&quot;, serif" font-weight="bold" font-size="40.2" fill="#4d4d4d" stroke="#4d4d4d" stroke-width="0.7">Perinatal Period</text>
<polygon points="1106.2,1525.9 1107.1,1525.8 1108.1,1525.8 1109.1,1525.7 1110.1,1525.6 1111.1,1525.6 1112.1,1525.5 1113.1,1525.4 1114.1,1525.3 1115.1,1525.3 1116.1,1525.2 1117.1,1525.1 1118.1,1525 1119.1,1524.9 1120.1,1524.8 1121.1,1524.7 1122.1,1524.6 1123.1,1524.5 1124.1,1524.4 1125.1,1524.3 1126.1,1524.2 1127.1,1524.1 1128.1,1524 1129.1,1523.9 1130.1,1523.8 1131.1,1523.7 1132.1,1523.6 1133.1,1523.5 1134.1,1523.4 1135.1,1523.3 1136.1,1523.2 1137.1,1523.1 1138.1,1522.9 1139.1,1522.8 1140.1,1522.7 1141.1,1522.6 1142.1,1522.4 1143.1,1522.3 1144.1,1522.2 1145.1,1522.1 1146.1,1521.9 1147.1,1521.8 1148.1,1521.7 1149.1,1521.6 1150.1,1521.4 1151.1,1521.3 1152.1,1521.2 1153.1,1521.1 1154.1,1521 1155.1,1520.9 1156.1,1520.7 1157.1,1520.6 1158.1,1520.5 1159.1,1520.4 1160.1,1520.4 1161.1,1520.3 1162.1,1520.2 1163.1,1520.1 1164.1,1520 1165.1,1519.9 1166.1,1519.8 1167.1,1519.8 1168.1,1519.7 1169.1,1519.6 1170.1,1519.5 1171.1,1519.5 1172.1,1519.4 1173.1,1519.3 1174.1,1519.2 1175.1,1519.1 1176.1,1519 1177.1,1518.9 1178.1,1518.8 1179.1,1518.7 1180.1,1518.6 1181.1,1518.5 1182.1,1518.4 1183.1,1518.3 1184.1,1518.1 1185.1,1518 1186.1,1517.9 1187.1,1517.7 1188.1,1517.6 1189.1,1517.5 1190.1,1517.3 1191.1,1517.2 1192.1,1517.1 1193.1,1516.9 1194.1,1516.8 1195.1,1516.7 1196.1,1516.5 1197.1,1516.4 1198.1,1516.3 1199.1,1516.2 1200.1,1516.1 1201.1,1516 1202.1,1515.9 1203.1,1515.8 1204.1,1515.7 1205.1,1515.6 1206.1,1515.5 1207.1,1515.5 1208.1,1515.4 1209.1,1515.3 1210.1,1515.2 1211.1,1515.1 1212.1,1515.1 1213.1,1515 1214.1,1514.9 1215.1,1514.8 1216.1,1514.8 1217.1,1514.7 1218.1,1514.6 1219.1,1514.6 1220.1,1514.5 1221.1,1514.4 1222.1,1514.4 1223.1,1514.3 1224.1,1514.3 1225.1,1514.2 1226.1,1514.2 1227.1,1514.1 1228.1,1514.1 1229.1,1514.1 1230.1,1514 1231.1,1514 1232.1,1514 1233.1,1513.9 1234.1,1513.9 1235.1,1513.9 1236.1,1513.9 1237.1,1513.8 1238.1,1513.8 1239.1,1513.8 1240.1,1513.8 1241.1,1513.7 1242.1,1513.7 1243.1,1513.7 1244.1,1513.7 1245.1,1513.7 1246.1,1513.6 1247.1,1513.6 1248.1,1513.6 1249.1,1513.6 1250.1,1513.6 1251.1,1513.6 1252.1,1513.5 1253.1,1513.5 1254.1,1513.5 1255.1,1513.5 1256.1,1513.5 1257.1,1513.5 1258.1,1513.5 1259.1,1513.5 1260.1,1513.5 1261.1,1513.5 1262.1,1513.5 1263.1,1513.5 1264.1,1513.5 1265.2,1513.5 1266.2,1513.5 1267.2,1513.5 1268.2,1513.5 1269.2,1513.5 1270.2,1513.5 1271.2,1513.5 1272.2,1513.5 1273.2,1513.5 1274.2,1513.5 1275.2,1513.5 1276.2,1513.5 1277.2,1513.5 1278.2,1513.5 1279.2,1513.5 1280.2,1513.5 1281.2,1513.5 1282.2,1513.5 1283.2,1513.5 1284.2,1513.5 1285.2,1513.5 1286.2,1513.5 1287.2,1513.5 1288.2,1513.5 1289.2,1513.5 1290.2,1513.5 1291.2,1513.5 1292.2,1513.6 1293.2,1513.6 1294.2,1513.6 1295.2,1513.6 1296.2,1513.6 1297.2,1513.7 1298.2,1513.7 1299.2,1513.7 1300.2,1513.8 1301.2,1513.8 1302.2,1513.8 1303.2,1513.9 1304.2,1513.9 1305.2,1514 1306.2,1514 1307.2,1514 1308.2,1514.1 1309.2,1514.1 1310.2,1514.2 1311.2,1514.2 1312.2,1514.3 1313.2,1514.3 1314.2,1514.4 1315.2,1514.4 1316.2,1514.5 1317.2,1514.5 1318.2,1514.6 1319.2,1514.7 1320.2,1514.7 1321.2,1514.8 1322.2,1514.9 1323.2,1514.9 1324.2,1515 1325.2,1515.1 1326.2,1515.2 1327.2,1515.3 1328.2,1515.3 1329.2,1515.4 1330.2,1515.5 1331.2,1515.6 1332.2,1515.7 1333.2,1515.8 1334.2,1515.9 1335.2,1516 1336.2,1516.1 1337.2,1516.2 1338.2,1516.3 1339.2,1516.4 1340.2,1516.5 1341.2,1516.6 1342.2,1516.7 1343.2,1516.9 1344.2,1517 1345.2,1517.1 1346.2,1517.2 1347.2,1517.3 1348.2,1517.5 1349.2,1517.6 1350.2,1517.7 1351.2,1517.8 1352.2,1517.9 1353.2,1518 1354.2,1518.1 1355.2,1518.2 1356.2,1518.3 1357.2,1518.3 1358.2,1518.4 1359.2,1518.5 1360.2,1518.6 1361.2,1518.7 1362.2,1518.7 1363.2,1518.8 1364.2,1518.9 1365.2,1519 1366.2,1519 1367.2,1519.1 1368.2,1519.2 1369.2,1519.3 1370.2,1519.3 1371.2,1519.4 1372.2,1519.5 1373.2,1519.6 1374.2,1519.7 1375.2,1519.8 1376.2,1519.8 1377.2,1519.9 1378.2,1520 1379.2,1520.1 1380.2,1520.2 1381.2,1520.3 1382.2,1520.4 1383.2,1520.6 1384.2,1520.7 1385.2,1520.8 1386.2,1520.9 1387.2,1521 1388.2,1521.2 1389.2,1521.3 1390.2,1521.4 1391.2,1521.5 1392.2,1521.7 1393.2,1521.8 1394.2,1521.9 1395.2,1522 1396.2,1522.2 1397.2,1522.3 1398.2,1522.4 1399.2,1522.5 1400.2,1522.6 1401.2,1522.8 1402.2,1522.9 1403.2,1523 1404.2,1523.1 1405.2,1523.2 1406.2,1523.3 1407.2,1523.4 1408.2,1523.5 1409.2,1523.7 1410.2,1523.8 1411.2,1523.9 1412.2,1524 1413.2,1524.1 1414.2,1524.2 1415.2,1524.3 1416.2,1524.4 1417.2,1524.5 1418.2,1524.6 1419.2,1524.7 1420.2,1524.8 1421.2,1524.9 1422.2,1525 1423.2,1525.1 1424.2,1525.2 1425.2,1525.3 1426.2,1525.4 1427.2,1525.4 1428.2,1525.5 1429.2,1525.6 1430.2,1525.7 1431.2,1525.8 1432.2,1525.9 1433.2,1526 1434.2,1526.1 1434.8,1526.1 1434.8,1533.6 1106.2,1533.6" fill="#d1e1ec"/>
<rect x="1267.5" y="1513.5" width="10" height="20.1" fill="#005b96"/>
<path d="M1006,1531.1 L1008,1531.1 L1010,1531 L1012,1530.8 L1014,1530.7 L1016,1530.6 L1018,1530.5 L1020,1530.4 L1022,1530.3 L1024,1530.1 L1026,1530 L1028,1529.9 L1030,1529.8 L1032,1529.7 L1034,1529.6 L1036,1529.5 L1038,1529.4 L1040,1529.3 L1042,1529.2 L1044,1529 L1046,1528.9 L1048,1528.8 L1050,1528.7 L1052,1528.6 L1054,1528.5 L1056,1528.4 L1058,1528.3 L1060,1528.1 L1062,1528 L1064,1527.9 L1066,1527.7 L1068,1527.6 L1070,1527.5 L1072,1527.3 L1074,1527.2 L1076,1527.1 L1078,1527 L1080,1527 L1082,1526.9 L1084,1526.8 L1086,1526.7 L1088,1526.7 L1090,1526.6 L1092,1526.5 L1094.1,1526.4 L1096.1,1526.4 L1098.1,1526.3 L1100.1,1526.2 L1102.1,1526.1 L1104.1,1526 L1106.1,1525.9 L1108.1,1525.8 L1110.1,1525.6 L1112.1,1525.5 L1114.1,1525.3 L1116.1,1525.2 L1118.1,1525 L1120.1,1524.8 L1122.1,1524.6 L1124.1,1524.4 L1126.1,1524.2 L1128.1,1524 L1130.1,1523.8 L1132.1,1523.6 L1134.1,1523.4 L1136.1,1523.2 L1138.1,1522.9 L1140.1,1522.7 L1142.1,1522.4 L1144.1,1522.2 L1146.1,1521.9 L1148.1,1521.7 L1150.1,1521.4 L1152.1,1521.2 L1154.1,1521 L1156.1,1520.7 L1158.1,1520.5 L1160.1,1520.4 L1162.1,1520.2 L1164.1,1520 L1166.1,1519.8 L1168.1,1519.7 L1170.1,1519.5 L1172.1,1519.4 L1174.1,1519.2 L1176.1,1519 L1178.1,1518.8 L1180.1,1518.6 L1182.1,1518.4 L1184.1,1518.1 L1186.1,1517.9 L1188.1,1517.6 L1190.1,1517.3 L1192.1,1517.1 L1194.1,1516.8 L1196.1,1516.5 L1198.1,1516.3 L1200.1,1516.1 L1202.1,1515.9 L1204.1,1515.7 L1206.1,1515.5 L1208.1,1515.4 L1210.1,1515.2 L1212.1,1515.1 L1214.1,1514.9 L1216.1,1514.8 L1218.1,1514.6 L1220.1,1514.5 L1222.1,1514.4 L1224.1,1514.3 L1226.1,1514.2 L1228.1,1514.1 L1230.1,1514 L1232.1,1514 L1234.1,1513.9 L1236.1,1513.9 L1238.1,1513.8 L1240.1,1513.8 L1242.1,1513.7 L1244.1,1513.7 L1246.1,1513.6 L1248.1,1513.6 L1250.1,1513.6 L1252.1,1513.5 L1254.1,1513.5 L1256.1,1513.5 L1258.1,1513.5 L1260.1,1513.5 L1262.1,1513.5 L1264.1,1513.5 L1266.2,1513.5 L1268.2,1513.5 L1270.2,1513.5 L1272.2,1513.5 L1274.2,1513.5 L1276.2,1513.5 L1278.2,1513.5 L1280.2,1513.5 L1282.2,1513.5 L1284.2,1513.5 L1286.2,1513.5 L1288.2,1513.5 L1290.2,1513.5 L1292.2,1513.6 L1294.2,1513.6 L1296.2,1513.6 L1298.2,1513.7 L1300.2,1513.8 L1302.2,1513.8 L1304.2,1513.9 L1306.2,1514 L1308.2,1514.1 L1310.2,1514.2 L1312.2,1514.3 L1314.2,1514.4 L1316.2,1514.5 L1318.2,1514.6 L1320.2,1514.7 L1322.2,1514.9 L1324.2,1515 L1326.2,1515.2 L1328.2,1515.3 L1330.2,1515.5 L1332.2,1515.7 L1334.2,1515.9 L1336.2,1516.1 L1338.2,1516.3 L1340.2,1516.5 L1342.2,1516.7 L1344.2,1517 L1346.2,1517.2 L1348.2,1517.5 L1350.2,1517.7 L1352.2,1517.9 L1354.2,1518.1 L1356.2,1518.3 L1358.2,1518.4 L1360.2,1518.6 L1362.2,1518.7 L1364.2,1518.9 L1366.2,1519 L1368.2,1519.2 L1370.2,1519.3 L1372.2,1519.5 L1374.2,1519.7 L1376.2,1519.8 L1378.2,1520 L1380.2,1520.2 L1382.2,1520.4 L1384.2,1520.7 L1386.2,1520.9 L1388.2,1521.2 L1390.2,1521.4 L1392.2,1521.7 L1394.2,1521.9 L1396.2,1522.2 L1398.2,1522.4 L1400.2,1522.6 L1402.2,1522.9 L1404.2,1523.1 L1406.2,1523.3 L1408.2,1523.5 L1410.2,1523.8 L1412.2,1524 L1414.2,1524.2 L1416.2,1524.4 L1418.2,1524.6 L1420.2,1524.8 L1422.2,1525 L1424.2,1525.2 L1426.2,1525.4 L1428.2,1525.5 L1430.2,1525.7 L1432.2,1525.9 L1434.2,1526.1 L1436.2,1526.2 L1438.3,1526.4 L1440.3,1526.5 L1442.3,1526.7 L1444.3,1526.8 L1446.3,1527 L1448.3,1527.1 L1450.3,1527.3 L1452.3,1527.4 L1454.3,1527.5 L1456.3,1527.7 L1458.3,1527.8 L1460.3,1527.9 L1462.3,1528 L1464.3,1528.1 L1466.3,1528.3 L1468.3,1528.4 L1470.3,1528.5 L1472.3,1528.6 L1474.3,1528.7 L1476.3,1528.8 L1478.3,1528.9 L1480.3,1529 L1482.3,1529.1 L1484.3,1529.1 L1486.3,1529.2 L1488.3,1529.3 L1490.3,1529.4 L1492.3,1529.5 L1494.3,1529.6 L1496.3,1529.7 L1498.3,1529.8 L1500.3,1529.9 L1502.3,1530 L1504.3,1530 L1506.3,1530.1 L1508.3,1530.2 L1510.3,1530.3 L1512.3,1530.4 L1514.3,1530.5 L1516.3,1530.5 L1518.3,1530.6 L1520.3,1530.7 L1522.3,1530.7 L1523.3,1530.8" fill="none" stroke="#03396c" stroke-width="4.7" stroke-linecap="round" stroke-linejoin="round"/>
<line x1="1006" y1="1533.6" x2="1523.3" y2="1533.6" stroke="#03396c" stroke-width="4.7"/>
<rect x="689" y="1529" width="13" height="10" fill="#333333"/>
<text x="680.5" y="1547.5" text-anchor="end" font-family="&quot;Liberation Serif&quot;, serif" font-weight="bold" font-size="40.2" fill="#4d4d4d" stroke="#4d4d4d" stroke-width="0.7">Congential</text>
<polygon points="1114.2,1605.6 1114.4,1605.6 1115.4,1605.5 1116.4,1605.4 1117.4,1605.4 1118.4,1605.3 1119.4,1605.2 1120.4,1605.2 1121.4,1605.1 1122.4,1605 1123.4,1604.9 1124.4,1604.8 1125.4,1604.7 1126.4,1604.7 1127.4,1604.6 1128.4,1604.5 1129.4,1604.4 1130.4,1604.3 1131.4,1604.2 1132.4,1604.1 1133.4,1604 1134.4,1603.9 1135.4,1603.8 1136.4,1603.7 1137.4,1603.6 1138.4,1603.5 1139.4,1603.4 1140.4,1603.3 1141.4,1603.2 1142.4,1603.1 1143.4,1603 1144.4,1602.9 1145.4,1602.8 1146.4,1602.7 1147.4,1602.5 1148.4,1602.4 1149.4,1602.3 1150.4,1602.2 1151.4,1602 1152.4,1601.9 1153.4,1601.8 1154.4,1601.7 1155.4,1601.5 1156.4,1601.4 1157.4,1601.3 1158.4,1601.2 1159.4,1601 1160.4,1600.9 1161.4,1600.8 1162.4,1600.7 1163.4,1600.6 1164.4,1600.5 1165.4,1600.3 1166.4,1600.2 1167.4,1600.1 1168.4,1600 1169.4,1599.9 1170.4,1599.8 1171.3,1599.7 1172.3,1599.6 1173.3,1599.5 1174.3,1599.4 1175.3,1599.3 1176.3,1599.2 1177.3,1599.1 1178.3,1599 1179.3,1598.9 1180.3,1598.9 1181.3,1598.8 1182.3,1598.7 1183.3,1598.6 1184.3,1598.5 1185.3,1598.4 1186.3,1598.3 1187.3,1598.2 1188.3,1598.1 1189.3,1598 1190.3,1597.9 1191.3,1597.8 1192.3,1597.7 1193.3,1597.6 1194.3,1597.5 1195.3,1597.4 1196.3,1597.3 1197.3,1597.2 1198.3,1597.1 1199.3,1597 1200.3,1596.9 1201.3,1596.8 1202.3,1596.7 1203.3,1596.6 1204.3,1596.5 1205.3,1596.4 1206.3,1596.3 1207.3,1596.2 1208.3,1596.2 1209.3,1596.1 1210.3,1596 1211.3,1595.9 1212.3,1595.9 1213.3,1595.8 1214.3,1595.7 1215.3,1595.7 1216.3,1595.6 1217.3,1595.5 1218.3,1595.5 1219.3,1595.4 1220.3,1595.4 1221.3,1595.3 1222.3,1595.2 1223.3,1595.2 1224.3,1595.1 1225.3,1595.1 1226.3,1595 1227.3,1595 1228.3,1594.9 1229.3,1594.9 1230.3,1594.9 1231.3,1594.8 1232.3,1594.8 1233.3,1594.7 1234.3,1594.7 1235.3,1594.6 1236.3,1594.6 1237.3,1594.5 1238.3,1594.5 1239.3,1594.5 1240.3,1594.4 1241.3,1594.4 1242.3,1594.3 1243.3,1594.3 1244.3,1594.3 1245.3,1594.2 1246.3,1594.2 1247.3,1594.1 1248.3,1594.1 1249.3,1594 1250.3,1594 1251.3,1594 1252.3,1593.9 1253.3,1593.9 1254.3,1593.8 1255.3,1593.8 1256.3,1593.8 1257.3,1593.7 1258.3,1593.7 1259.3,1593.7 1260.3,1593.6 1261.3,1593.6 1262.3,1593.6 1263.3,1593.6 1264.3,1593.6 1265.3,1593.5 1266.3,1593.5 1267.3,1593.5 1268.3,1593.5 1269.3,1593.5 1270.3,1593.5 1271.3,1593.5 1272.3,1593.5 1273.2,1593.5 1274.2,1593.5 1275.2,1593.5 1276.2,1593.5 1277.2,1593.5 1278.2,1593.5 1279.2,1593.5 1280.2,1593.5 1281.2,1593.5 1282.2,1593.5 1283.2,1593.5 1284.2,1593.5 1285.2,1593.5 1286.2,1593.5 1287.2,1593.5 1288.2,1593.5 1289.2,1593.5 1290.2,1593.5 1291.2,1593.5 1292.2,1593.5 1293.2,1593.5 1294.2,1593.5 1295.2,1593.5 1296.2,1593.5 1297.2,1593.5 1298.2,1593.5 1299.2,1593.5 1300.2,1593.5 1301.2,1593.5 1302.2,1593.5 1303.2,1593.6 1304.2,1593.6 1305.2,1593.6 1306.2,1593.6 1307.2,1593.6 1308.2,1593.7 1309.2,1593.7 1310.2,1593.7 1311.2,1593.7 1312.2,1593.8 1313.2,1593.8 1314.2,1593.8 1315.2,1593.9 1316.2,1593.9 1317.2,1593.9 1318.2,1594 1319.2,1594 1320.2,1594 1321.2,1594.1 1322.2,1594.1 1323.2,1594.1 1324.2,1594.2 1325.2,1594.2 1326.2,1594.3 1327.2,1594.3 1328.2,1594.4 1329.2,1594.4 1330.2,1594.5 1331.2,1594.6 1332.2,1594.6 1333.2,1594.7 1334.2,1594.8 1335.2,1594.9 1336.2,1595 1337.2,1595.1 1338.2,1595.1 1339.2,1595.2 1340.2,1595.3 1341.2,1595.4 1342.2,1595.5 1343.2,1595.6 1344.2,1595.7 1345.2,1595.8 1346.2,1595.9 1347.2,1596 1348.2,1596.1 1349.2,1596.2 1350.2,1596.3 1351.2,1596.4 1352.2,1596.5 1353.2,1596.6 1354.2,1596.7 1355.2,1596.8 1356.2,1596.9 1357.2,1597 1358.2,1597.2 1359.2,1597.3 1360.2,1597.4 1361.2,1597.5 1362.2,1597.6 1363.2,1597.7 1364.2,1597.8 1365.2,1597.9 1366.2,1598 1367.2,1598.1 1368.2,1598.3 1369.2,1598.4 1370.2,1598.5 1371.2,1598.6 1372.2,1598.7 1373.2,1598.8 1374.2,1599 1375.2,1599.1 1376.1,1599.2 1377.1,1599.3 1378.1,1599.4 1379.1,1599.6 1380.1,1599.7 1381.1,1599.8 1382.1,1599.9 1383.1,1600 1384.1,1600.1 1385.1,1600.3 1386.1,1600.4 1387.1,1600.5 1388.1,1600.6 1389.1,1600.7 1390.1,1600.8 1391.1,1601 1392.1,1601.1 1393.1,1601.2 1394.1,1601.3 1395.1,1601.5 1396.1,1601.6 1397.1,1601.7 1398.1,1601.8 1399.1,1601.9 1400.1,1602.1 1401.1,1602.2 1402.1,1602.3 1403.1,1602.4 1404.1,1602.5 1405.1,1602.6 1406.1,1602.8 1407.1,1602.9 1408.1,1603 1409.1,1603.1 1410.1,1603.2 1411.1,1603.3 1412.1,1603.4 1413.1,1603.5 1414.1,1603.6 1415.1,1603.8 1416.1,1603.9 1417.1,1604 1418.1,1604.1 1419.1,1604.2 1420.1,1604.3 1421.1,1604.4 1422.1,1604.5 1423.1,1604.6 1424.1,1604.7 1425.1,1604.8 1426.1,1604.9 1427.1,1605 1428.1,1605.1 1429.1,1605.2 1430.1,1605.3 1431.1,1605.4 1432.1,1605.5 1433.1,1605.6 1434.1,1605.7 1435.1,1605.8 1436.1,1605.9 1437.1,1606 1438.1,1606 1438.9,1606.1 1438.9,1613.6 1114.2,1613.6" fill="#d1e1ec"/>
<rect x="1272.7" y="1593.5" width="10" height="20.1" fill="#005b96"/>
<path d="M1016.5,1611.1 L1018.5,1611.1 L1020.5,1611 L1022.5,1610.9 L1024.5,1610.7 L1026.5,1610.6 L1028.5,1610.5 L1030.5,1610.4 L1032.5,1610.3 L1034.5,1610.1 L1036.5,1610 L1038.5,1609.9 L1040.5,1609.8 L1042.5,1609.7 L1044.5,1609.5 L1046.5,1609.4 L1048.5,1609.3 L1050.5,1609.2 L1052.5,1609.1 L1054.5,1608.9 L1056.5,1608.8 L1058.5,1608.7 L1060.5,1608.5 L1062.5,1608.4 L1064.5,1608.3 L1066.5,1608.2 L1068.4,1608 L1070.4,1607.9 L1072.4,1607.8 L1074.4,1607.6 L1076.4,1607.5 L1078.4,1607.4 L1080.4,1607.2 L1082.4,1607.1 L1084.4,1607 L1086.4,1606.9 L1088.4,1606.8 L1090.4,1606.7 L1092.4,1606.6 L1094.4,1606.5 L1096.4,1606.4 L1098.4,1606.4 L1100.4,1606.3 L1102.4,1606.2 L1104.4,1606.1 L1106.4,1606 L1108.4,1605.9 L1110.4,1605.8 L1112.4,1605.7 L1114.4,1605.6 L1116.4,1605.4 L1118.4,1605.3 L1120.4,1605.2 L1122.4,1605 L1124.4,1604.8 L1126.4,1604.7 L1128.4,1604.5 L1130.4,1604.3 L1132.4,1604.1 L1134.4,1603.9 L1136.4,1603.7 L1138.4,1603.5 L1140.4,1603.3 L1142.4,1603.1 L1144.4,1602.9 L1146.4,1602.7 L1148.4,1602.4 L1150.4,1602.2 L1152.4,1601.9 L1154.4,1601.7 L1156.4,1601.4 L1158.4,1601.2 L1160.4,1600.9 L1162.4,1600.7 L1164.4,1600.5 L1166.4,1600.2 L1168.4,1600 L1170.4,1599.8 L1172.3,1599.6 L1174.3,1599.4 L1176.3,1599.2 L1178.3,1599 L1180.3,1598.9 L1182.3,1598.7 L1184.3,1598.5 L1186.3,1598.3 L1188.3,1598.1 L1190.3,1597.9 L1192.3,1597.7 L1194.3,1597.5 L1196.3,1597.3 L1198.3,1597.1 L1200.3,1596.9 L1202.3,1596.7 L1204.3,1596.5 L1206.3,1596.3 L1208.3,1596.2 L1210.3,1596 L1212.3,1595.9 L1214.3,1595.7 L1216.3,1595.6 L1218.3,1595.5 L1220.3,1595.4 L1222.3,1595.2 L1224.3,1595.1 L1226.3,1595 L1228.3,1594.9 L1230.3,1594.9 L1232.3,1594.8 L1234.3,1594.7 L1236.3,1594.6 L1238.3,1594.5 L1240.3,1594.4 L1242.3,1594.3 L1244.3,1594.3 L1246.3,1594.2 L1248.3,1594.1 L1250.3,1594 L1252.3,1593.9 L1254.3,1593.8 L1256.3,1593.8 L1258.3,1593.7 L1260.3,1593.6 L1262.3,1593.6 L1264.3,1593.6 L1266.3,1593.5 L1268.3,1593.5 L1270.3,1593.5 L1272.3,1593.5 L1274.2,1593.5 L1276.2,1593.5 L1278.2,1593.5 L1280.2,1593.5 L1282.2,1593.5 L1284.2,1593.5 L1286.2,1593.5 L1288.2,1593.5 L1290.2,1593.5 L1292.2,1593.5 L1294.2,1593.5 L1296.2,1593.5 L1298.2,1593.5 L1300.2,1593.5 L1302.2,1593.5 L1304.2,1593.6 L1306.2,1593.6 L1308.2,1593.7 L1310.2,1593.7 L1312.2,1593.8 L1314.2,1593.8 L1316.2,1593.9 L1318.2,1594 L1320.2,1594 L1322.2,1594.1 L1324.2,1594.2 L1326.2,1594.3 L1328.2,1594.4 L1330.2,1594.5 L1332.2,1594.6 L1334.2,1594.8 L1336.2,1595 L1338.2,1595.1 L1340.2,1595.3 L1342.2,1595.5 L1344.2,1595.7 L1346.2,1595.9 L1348.2,1596.1 L1350.2,1596.3 L1352.2,1596.5 L1354.2,1596.7 L1356.2,1596.9 L1358.2,1597.2 L1360.2,1597.4 L1362.2,1597.6 L1364.2,1597.8 L1366.2,1598 L1368.2,1598.3 L1370.2,1598.5 L1372.2,1598.7 L1374.2,1599 L1376.1,1599.2 L1378.1,1599.4 L1380.1,1599.7 L1382.1,1599.9 L1384.1,1600.1 L1386.1,1600.4 L1388.1,1600.6 L1390.1,1600.8 L1392.1,1601.1 L1394.1,1601.3 L1396.1,1601.6 L1398.1,1601.8 L1400.1,1602.1 L1402.1,1602.3 L1404.1,1602.5 L1406.1,1602.8 L1408.1,1603 L1410.1,1603.2 L1412.1,1603.4 L1414.1,1603.6 L1416.1,1603.9 L1418.1,1604.1 L1420.1,1604.3 L1422.1,1604.5 L1424.1,1604.7 L1426.1,1604.9 L1428.1,1605.1 L1430.1,1605.3 L1432.1,1605.5 L1434.1,1605.7 L1436.1,1605.9 L1438.1,1606 L1440.1,1606.2 L1442.1,1606.4 L1444.1,1606.5 L1446.1,1606.7 L1448.1,1606.8 L1450.1,1607 L1452.1,1607.1 L1454.1,1607.2 L1456.1,1607.4 L1458.1,1607.5 L1460.1,1607.6 L1462.1,1607.7 L1464.1,1607.9 L1466.1,1608 L1468.1,1608.1 L1470.1,1608.1 L1472.1,1608.2 L1474.1,1608.3 L1476.1,1608.4 L1478.1,1608.5 L1480,1608.5 L1482,1608.6 L1484,1608.7 L1486,1608.8 L1488,1608.8 L1490,1608.9 L1492,1609 L1494,1609.1 L1496,1609.2 L1498,1609.2 L1500,1609.3 L1502,1609.4 L1504,1609.5 L1506,1609.6 L1508,1609.7 L1510,1609.8 L1512,1609.9 L1514,1610 L1516,1610.1 L1518,1610.2 L1520,1610.3 L1522,1610.4 L1524,1610.5 L1526,1610.6 L1528,1610.7 L1530,1610.7" fill="none" stroke="#03396c" stroke-width="4.7" stroke-linecap="round" stroke-linejoin="round"/>
<line x1="1016.5" y1="1613.6" x2="1530" y2="1613.6" stroke="#03396c" stroke-width="4.7"/>
<rect x="689" y="1609" width="13" height="10" fill="#333333"/>
<text x="680.5" y="1627.5" text-anchor="end" font-family="&quot;Liberation Serif&quot;, serif" font-weight="bold" font-size="40.2" fill="#4d4d4d" stroke="#4d4d4d" stroke-width="0.7">Symptoms, Signs etc.</text>
<polygon points="1121.1,1685.9 1121.4,1685.9 1122.4,1685.8 1123.4,1685.7 1124.4,1685.6 1125.4,1685.6 1126.4,1685.5 1127.4,1685.4 1128.4,1685.3 1129.4,1685.2 1130.4,1685.1 1131.4,1685 1132.4,1684.9 1133.4,1684.8 1134.4,1684.7 1135.4,1684.6 1136.4,1684.5 1137.4,1684.4 1138.4,1684.3 1139.4,1684.2 1140.4,1684.1 1141.4,1684 1142.4,1683.9 1143.4,1683.8 1144.4,1683.7 1145.4,1683.6 1146.4,1683.5 1147.4,1683.4 1148.4,1683.3 1149.4,1683.2 1150.4,1683.1 1151.4,1682.9 1152.4,1682.8 1153.4,1682.7 1154.4,1682.6 1155.4,1682.5 1156.4,1682.4 1157.4,1682.3 1158.4,1682.2 1159.4,1682.1 1160.4,1682 1161.4,1681.9 1162.4,1681.8 1163.4,1681.7 1164.4,1681.6 1165.4,1681.5 1166.4,1681.4 1167.4,1681.4 1168.4,1681.3 1169.4,1681.2 1170.4,1681.1 1171.4,1681 1172.4,1680.9 1173.4,1680.9 1174.4,1680.8 1175.4,1680.7 1176.4,1680.7 1177.4,1680.6 1178.4,1680.5 1179.4,1680.5 1180.4,1680.4 1181.4,1680.3 1182.4,1680.3 1183.4,1680.2 1184.4,1680.1 1185.3,1680.1 1186.3,1680 1187.3,1679.9 1188.3,1679.9 1189.3,1679.8 1190.3,1679.7 1191.3,1679.7 1192.3,1679.6 1193.3,1679.5 1194.3,1679.4 1195.3,1679.4 1196.3,1679.3 1197.3,1679.2 1198.3,1679.1 1199.3,1679 1200.3,1678.9 1201.3,1678.8 1202.3,1678.7 1203.3,1678.6 1204.3,1678.5 1205.3,1678.4 1206.3,1678.3 1207.3,1678.2 1208.3,1678.1 1209.3,1678 1210.3,1677.9 1211.3,1677.8 1212.3,1677.7 1213.3,1677.6 1214.3,1677.5 1215.3,1677.4 1216.3,1677.3 1217.3,1677.2 1218.3,1677.1 1219.3,1677 1220.3,1676.9 1221.3,1676.8 1222.3,1676.7 1223.3,1676.6 1224.3,1676.5 1225.3,1676.4 1226.3,1676.3 1227.3,1676.2 1228.3,1676.1 1229.3,1676 1230.3,1675.9 1231.3,1675.8 1232.3,1675.7 1233.3,1675.6 1234.3,1675.5 1235.3,1675.4 1236.3,1675.3 1237.3,1675.2 1238.3,1675.1 1239.3,1675 1240.3,1675 1241.3,1674.9 1242.3,1674.8 1243.3,1674.7 1244.3,1674.7 1245.3,1674.6 1246.3,1674.6 1247.3,1674.5 1248.3,1674.5 1249.3,1674.5 1250.3,1674.4 1251.3,1674.4 1252.3,1674.4 1253.3,1674.4 1254.3,1674.4 1255.3,1674.3 1256.3,1674.3 1257.3,1674.3 1258.3,1674.3 1259.3,1674.3 1260.3,1674.3 1261.3,1674.3 1262.3,1674.3 1263.3,1674.3 1264.3,1674.3 1265.3,1674.3 1266.3,1674.2 1267.3,1674.2 1268.3,1674.2 1269.3,1674.2 1270.3,1674.2 1271.3,1674.2 1272.3,1674.2 1273.3,1674.2 1274.3,1674.2 1275.3,1674.2 1276.3,1674.2 1277.3,1674.2 1278.3,1674.2 1279.3,1674.2 1280.3,1674.2 1281.3,1674.2 1282.3,1674.2 1283.3,1674.2 1284.3,1674.2 1285.3,1674.2 1286.3,1674.2 1287.3,1674.2 1288.3,1674.2 1289.3,1674.2 1290.3,1674.2 1291.2,1674.2 1292.2,1674.2 1293.2,1674.2 1294.2,1674.2 1295.2,1674.2 1296.2,1674.2 1297.2,1674.2 1298.2,1674.2 1299.2,1674.2 1300.2,1674.2 1301.2,1674.2 1302.2,1674.2 1303.2,1674.2 1304.2,1674.2 1305.2,1674.2 1306.2,1674.2 1307.2,1674.2 1308.2,1674.2 1309.2,1674.2 1310.2,1674.2 1311.2,1674.2 1312.2,1674.2 1313.2,1674.3 1314.2,1674.3 1315.2,1674.3 1316.2,1674.3 1317.2,1674.3 1318.2,1674.4 1319.2,1674.4 1320.2,1674.4 1321.2,1674.4 1322.2,1674.5 1323.2,1674.5 1324.2,1674.5 1325.2,1674.6 1326.2,1674.6 1327.2,1674.6 1328.2,1674.7 1329.2,1674.7 1330.2,1674.7 1331.2,1674.8 1332.2,1674.8 1333.2,1674.8 1334.2,1674.9 1335.2,1674.9 1336.2,1675 1337.2,1675 1338.2,1675.1 1339.2,1675.1 1340.2,1675.2 1341.2,1675.2 1342.2,1675.3 1343.2,1675.4 1344.2,1675.4 1345.2,1675.5 1346.2,1675.6 1347.2,1675.7 1348.2,1675.7 1349.2,1675.8 1350.2,1675.9 1351.2,1676 1352.2,1676 1353.2,1676.1 1354.2,1676.2 1355.2,1676.3 1356.2,1676.3 1357.2,1676.4 1358.2,1676.5 1359.2,1676.6 1360.2,1676.6 1361.2,1676.7 1362.2,1676.8 1363.2,1676.8 1364.2,1676.9 1365.2,1676.9 1366.2,1677 1367.2,1677 1368.2,1677.1 1369.2,1677.1 1370.2,1677.2 1371.2,1677.2 1372.2,1677.3 1373.2,1677.3 1374.2,1677.4 1375.2,1677.4 1376.2,1677.5 1377.2,1677.5 1378.2,1677.6 1379.2,1677.7 1380.2,1677.7 1381.2,1677.8 1382.2,1677.9 1383.2,1677.9 1384.2,1678 1385.2,1678.1 1386.2,1678.2 1387.2,1678.2 1388.2,1678.3 1389.2,1678.4 1390.2,1678.5 1391.2,1678.6 1392.2,1678.7 1393.2,1678.8 1394.2,1678.9 1395.2,1679 1396.2,1679.1 1397.2,1679.2 1398.1,1679.3 1399.1,1679.4 1400.1,1679.5 1401.1,1679.6 1402.1,1679.7 1403.1,1679.8 1404.1,1679.9 1405.1,1680 1406.1,1680.1 1407.1,1680.2 1408.1,1680.3 1409.1,1680.4 1410.1,1680.5 1411.1,1680.6 1412.1,1680.7 1413.1,1680.9 1414.1,1681 1415.1,1681.1 1416.1,1681.2 1417.1,1681.3 1418.1,1681.4 1419.1,1681.5 1420.1,1681.6 1421.1,1681.8 1422.1,1681.9 1423.1,1682 1424.1,1682.1 1425.1,1682.2 1426.1,1682.4 1427.1,1682.5 1428.1,1682.6 1429.1,1682.7 1430.1,1682.8 1431.1,1682.9 1432.1,1683.1 1433.1,1683.2 1434.1,1683.3 1435.1,1683.4 1436.1,1683.5 1437.1,1683.6 1438.1,1683.8 1439.1,1683.9 1440.1,1684 1441.1,1684.1 1442.1,1684.2 1443.1,1684.3 1444.1,1684.5 1445.1,1684.6 1446.1,1684.7 1447.1,1684.8 1448.1,1684.9 1449.1,1685 1450.1,1685.2 1451.1,1685.3 1452.1,1685.4 1453.1,1685.5 1454.1,1685.6 1455.1,1685.7 1456.1,1685.8 1457.1,1685.9 1458.1,1686 1459,1686.1 1459,1693.6 1121.1,1693.6" fill="#d1e1ec"/>
<rect x="1287.7" y="1674.2" width="10" height="19.4" fill="#005b96"/>
<path d="M1026.5,1691.1 L1028.5,1691 L1030.5,1690.9 L1032.5,1690.8 L1034.5,1690.6 L1036.5,1690.5 L1038.5,1690.4 L1040.5,1690.2 L1042.5,1690.1 L1044.5,1690 L1046.5,1689.9 L1048.5,1689.7 L1050.5,1689.6 L1052.5,1689.5 L1054.5,1689.4 L1056.5,1689.3 L1058.5,1689.2 L1060.5,1689 L1062.5,1688.9 L1064.5,1688.8 L1066.5,1688.7 L1068.5,1688.6 L1070.5,1688.5 L1072.5,1688.4 L1074.5,1688.3 L1076.5,1688.2 L1078.5,1688.1 L1080.4,1688 L1082.4,1687.9 L1084.4,1687.8 L1086.4,1687.6 L1088.4,1687.5 L1090.4,1687.4 L1092.4,1687.3 L1094.4,1687.2 L1096.4,1687.1 L1098.4,1687 L1100.4,1686.9 L1102.4,1686.8 L1104.4,1686.8 L1106.4,1686.7 L1108.4,1686.6 L1110.4,1686.5 L1112.4,1686.4 L1114.4,1686.3 L1116.4,1686.2 L1118.4,1686.1 L1120.4,1685.9 L1122.4,1685.8 L1124.4,1685.6 L1126.4,1685.5 L1128.4,1685.3 L1130.4,1685.1 L1132.4,1684.9 L1134.4,1684.7 L1136.4,1684.5 L1138.4,1684.3 L1140.4,1684.1 L1142.4,1683.9 L1144.4,1683.7 L1146.4,1683.5 L1148.4,1683.3 L1150.4,1683.1 L1152.4,1682.8 L1154.4,1682.6 L1156.4,1682.4 L1158.4,1682.2 L1160.4,1682 L1162.4,1681.8 L1164.4,1681.6 L1166.4,1681.4 L1168.4,1681.3 L1170.4,1681.1 L1172.4,1680.9 L1174.4,1680.8 L1176.4,1680.7 L1178.4,1680.5 L1180.4,1680.4 L1182.4,1680.3 L1184.4,1680.1 L1186.3,1680 L1188.3,1679.9 L1190.3,1679.7 L1192.3,1679.6 L1194.3,1679.4 L1196.3,1679.3 L1198.3,1679.1 L1200.3,1678.9 L1202.3,1678.7 L1204.3,1678.5 L1206.3,1678.3 L1208.3,1678.1 L1210.3,1677.9 L1212.3,1677.7 L1214.3,1677.5 L1216.3,1677.3 L1218.3,1677.1 L1220.3,1676.9 L1222.3,1676.7 L1224.3,1676.5 L1226.3,1676.3 L1228.3,1676.1 L1230.3,1675.9 L1232.3,1675.7 L1234.3,1675.5 L1236.3,1675.3 L1238.3,1675.1 L1240.3,1675 L1242.3,1674.8 L1244.3,1674.7 L1246.3,1674.6 L1248.3,1674.5 L1250.3,1674.4 L1252.3,1674.4 L1254.3,1674.4 L1256.3,1674.3 L1258.3,1674.3 L1260.3,1674.3 L1262.3,1674.3 L1264.3,1674.3 L1266.3,1674.2 L1268.3,1674.2 L1270.3,1674.2 L1272.3,1674.2 L1274.3,1674.2 L1276.3,1674.2 L1278.3,1674.2 L1280.3,1674.2 L1282.3,1674.2 L1284.3,1674.2 L1286.3,1674.2 L1288.3,1674.2 L1290.3,1674.2 L1292.2,1674.2 L1294.2,1674.2 L1296.2,1674.2 L1298.2,1674.2 L1300.2,1674.2 L1302.2,1674.2 L1304.2,1674.2 L1306.2,1674.2 L1308.2,1674.2 L1310.2,1674.2 L1312.2,1674.2 L1314.2,1674.3 L1316.2,1674.3 L1318.2,1674.4 L1320.2,1674.4 L1322.2,1674.5 L1324.2,1674.5 L1326.2,1674.6 L1328.2,1674.7 L1330.2,1674.7 L1332.2,1674.8 L1334.2,1674.9 L1336.2,1675 L1338.2,1675.1 L1340.2,1675.2 L1342.2,1675.3 L1344.2,1675.4 L1346.2,1675.6 L1348.2,1675.7 L1350.2,1675.9 L1352.2,1676 L1354.2,1676.2 L1356.2,1676.3 L1358.2,1676.5 L1360.2,1676.6 L1362.2,1676.8 L1364.2,1676.9 L1366.2,1677 L1368.2,1677.1 L1370.2,1677.2 L1372.2,1677.3 L1374.2,1677.4 L1376.2,1677.5 L1378.2,1677.6 L1380.2,1677.7 L1382.2,1677.9 L1384.2,1678 L1386.2,1678.2 L1388.2,1678.3 L1390.2,1678.5 L1392.2,1678.7 L1394.2,1678.9 L1396.2,1679.1 L1398.1,1679.3 L1400.1,1679.5 L1402.1,1679.7 L1404.1,1679.9 L1406.1,1680.1 L1408.1,1680.3 L1410.1,1680.5 L1412.1,1680.7 L1414.1,1681 L1416.1,1681.2 L1418.1,1681.4 L1420.1,1681.6 L1422.1,1681.9 L1424.1,1682.1 L1426.1,1682.4 L1428.1,1682.6 L1430.1,1682.8 L1432.1,1683.1 L1434.1,1683.3 L1436.1,1683.5 L1438.1,1683.8 L1440.1,1684 L1442.1,1684.2 L1444.1,1684.5 L1446.1,1684.7 L1448.1,1684.9 L1450.1,1685.2 L1452.1,1685.4 L1454.1,1685.6 L1456.1,1685.8 L1458.1,1686 L1460.1,1686.2 L1462.1,1686.4 L1464.1,1686.6 L1466.1,1686.8 L1468.1,1686.9 L1470.1,1687.1 L1472.1,1687.3 L1474.1,1687.4 L1476.1,1687.6 L1478.1,1687.7 L1480.1,1687.9 L1482.1,1688 L1484.1,1688.1 L1486.1,1688.2 L1488.1,1688.3 L1490.1,1688.4 L1492.1,1688.4 L1494.1,1688.5 L1496.1,1688.6 L1498.1,1688.7 L1500.1,1688.7 L1502.1,1688.8 L1504,1688.9 L1506,1688.9 L1508,1689 L1510,1689.1 L1512,1689.1 L1514,1689.2 L1516,1689.3 L1518,1689.3 L1520,1689.4 L1522,1689.5 L1524,1689.6 L1526,1689.6 L1528,1689.7 L1530,1689.8 L1532,1689.9 L1534,1689.9 L1536,1690 L1538,1690.1 L1540,1690.2 L1542,1690.3 L1544,1690.3 L1546,1690.4 L1548,1690.5 L1550,1690.6 L1552,1690.6 L1554,1690.7 L1556,1690.8" fill="none" stroke="#03396c" stroke-width="4.7" stroke-linecap="round" stroke-linejoin="round"/>
<line x1="1026.5" y1="1693.6" x2="1556" y2="1693.6" stroke="#03396c" stroke-width="4.7"/>
<rect x="689" y="1689" width="13" height="10" fill="#333333"/>
<text x="680.5" y="1707.5" text-anchor="end" font-family="&quot;Liberation Serif&quot;, serif" font-weight="bold" font-size="40.2" fill="#4d4d4d" stroke="#4d4d4d" stroke-width="0.7">Injury etc.</text>
<polygon points="1127,1766.1 1127.6,1766.1 1128.6,1766 1129.6,1765.9 1130.6,1765.9 1131.6,1765.8 1132.6,1765.7 1133.6,1765.7 1134.6,1765.6 1135.6,1765.5 1136.6,1765.4 1137.6,1765.4 1138.6,1765.3 1139.6,1765.2 1140.6,1765.1 1141.6,1765 1142.6,1764.9 1143.6,1764.8 1144.6,1764.8 1145.6,1764.7 1146.6,1764.6 1147.6,1764.5 1148.6,1764.4 1149.6,1764.3 1150.6,1764.2 1151.6,1764.1 1152.6,1764 1153.6,1763.8 1154.6,1763.7 1155.6,1763.6 1156.6,1763.5 1157.6,1763.3 1158.6,1763.2 1159.6,1763.1 1160.6,1763 1161.6,1762.8 1162.6,1762.7 1163.6,1762.6 1164.6,1762.4 1165.6,1762.3 1166.6,1762.2 1167.6,1762.1 1168.6,1762 1169.6,1761.8 1170.6,1761.7 1171.6,1761.6 1172.6,1761.5 1173.6,1761.4 1174.6,1761.3 1175.6,1761.2 1176.6,1761.1 1177.6,1761 1178.6,1761 1179.6,1760.9 1180.6,1760.8 1181.7,1760.7 1182.7,1760.6 1183.7,1760.5 1184.7,1760.4 1185.7,1760.4 1186.7,1760.3 1187.7,1760.2 1188.7,1760.1 1189.7,1760 1190.7,1759.9 1191.7,1759.8 1192.7,1759.8 1193.7,1759.7 1194.7,1759.6 1195.7,1759.5 1196.7,1759.4 1197.7,1759.3 1198.7,1759.2 1199.7,1759.1 1200.7,1759 1201.7,1758.9 1202.7,1758.7 1203.7,1758.6 1204.7,1758.5 1205.7,1758.4 1206.7,1758.3 1207.7,1758.2 1208.7,1758.1 1209.7,1757.9 1210.7,1757.8 1211.7,1757.7 1212.7,1757.6 1213.7,1757.5 1214.7,1757.4 1215.7,1757.3 1216.7,1757.2 1217.7,1757.1 1218.7,1757 1219.7,1756.9 1220.7,1756.8 1221.7,1756.7 1222.7,1756.6 1223.7,1756.6 1224.7,1756.5 1225.7,1756.4 1226.7,1756.3 1227.7,1756.3 1228.7,1756.2 1229.7,1756.1 1230.7,1756.1 1231.7,1756 1232.7,1755.9 1233.7,1755.9 1234.7,1755.8 1235.7,1755.7 1236.7,1755.7 1237.7,1755.6 1238.7,1755.6 1239.7,1755.5 1240.7,1755.5 1241.7,1755.4 1242.7,1755.3 1243.7,1755.3 1244.7,1755.2 1245.7,1755.2 1246.7,1755.1 1247.7,1755.1 1248.7,1755 1249.7,1755 1250.7,1754.9 1251.7,1754.8 1252.7,1754.8 1253.7,1754.7 1254.7,1754.7 1255.7,1754.6 1256.7,1754.5 1257.7,1754.5 1258.7,1754.4 1259.7,1754.3 1260.7,1754.3 1261.7,1754.2 1262.7,1754.1 1263.7,1754.1 1264.7,1754 1265.7,1754 1266.7,1753.9 1267.7,1753.9 1268.7,1753.8 1269.7,1753.8 1270.7,1753.7 1271.7,1753.7 1272.7,1753.6 1273.7,1753.6 1274.7,1753.6 1275.7,1753.5 1276.7,1753.5 1277.7,1753.5 1278.7,1753.5 1279.7,1753.5 1280.7,1753.5 1281.7,1753.5 1282.7,1753.5 1283.7,1753.5 1284.7,1753.5 1285.7,1753.5 1286.8,1753.5 1287.8,1753.5 1288.8,1753.5 1289.8,1753.5 1290.8,1753.5 1291.8,1753.5 1292.8,1753.5 1293.8,1753.5 1294.8,1753.5 1295.8,1753.5 1296.8,1753.5 1297.8,1753.5 1298.8,1753.5 1299.8,1753.5 1300.8,1753.5 1301.8,1753.5 1302.8,1753.5 1303.8,1753.5 1304.8,1753.5 1305.8,1753.5 1306.8,1753.5 1307.8,1753.5 1308.8,1753.5 1309.8,1753.5 1310.8,1753.5 1311.8,1753.6 1312.8,1753.6 1313.8,1753.6 1314.8,1753.6 1315.8,1753.6 1316.8,1753.7 1317.8,1753.7 1318.8,1753.7 1319.8,1753.8 1320.8,1753.8 1321.8,1753.8 1322.8,1753.9 1323.8,1753.9 1324.8,1753.9 1325.8,1754 1326.8,1754 1327.8,1754.1 1328.8,1754.1 1329.8,1754.2 1330.8,1754.2 1331.8,1754.3 1332.8,1754.3 1333.8,1754.4 1334.8,1754.4 1335.8,1754.5 1336.8,1754.5 1337.8,1754.6 1338.8,1754.6 1339.8,1754.7 1340.8,1754.8 1341.8,1754.9 1342.8,1754.9 1343.8,1755 1344.8,1755.1 1345.8,1755.2 1346.8,1755.3 1347.8,1755.4 1348.8,1755.5 1349.8,1755.6 1350.8,1755.7 1351.8,1755.8 1352.8,1755.9 1353.8,1756 1354.8,1756.1 1355.8,1756.2 1356.8,1756.3 1357.8,1756.3 1358.8,1756.4 1359.8,1756.5 1360.8,1756.6 1361.8,1756.7 1362.8,1756.8 1363.8,1756.9 1364.8,1757 1365.8,1757.1 1366.8,1757.1 1367.8,1757.2 1368.8,1757.3 1369.8,1757.4 1370.8,1757.5 1371.8,1757.5 1372.8,1757.6 1373.8,1757.7 1374.8,1757.8 1375.8,1757.9 1376.8,1757.9 1377.8,1758 1378.8,1758.1 1379.8,1758.2 1380.8,1758.2 1381.8,1758.3 1382.8,1758.4 1383.8,1758.5 1384.8,1758.5 1385.8,1758.6 1386.8,1758.7 1387.8,1758.8 1388.8,1758.8 1389.8,1758.9 1390.8,1759 1391.8,1759.1 1392.9,1759.1 1393.9,1759.2 1394.9,1759.3 1395.9,1759.4 1396.9,1759.5 1397.9,1759.5 1398.9,1759.6 1399.9,1759.7 1400.9,1759.8 1401.9,1759.9 1402.9,1760 1403.9,1760.1 1404.9,1760.2 1405.9,1760.3 1406.9,1760.4 1407.9,1760.5 1408.9,1760.6 1409.9,1760.7 1410.9,1760.9 1411.9,1761 1412.9,1761.1 1413.9,1761.2 1414.9,1761.3 1415.9,1761.5 1416.9,1761.6 1417.9,1761.7 1418.9,1761.9 1419.9,1762 1420.9,1762.1 1421.9,1762.2 1422.9,1762.4 1423.9,1762.5 1424.9,1762.6 1425.9,1762.7 1426.9,1762.8 1427.9,1763 1428.9,1763.1 1429.9,1763.2 1430.9,1763.3 1431.9,1763.4 1432.9,1763.5 1433.9,1763.6 1434.9,1763.7 1435.9,1763.8 1436.9,1763.9 1437.9,1764 1438.9,1764.1 1439.9,1764.2 1440.9,1764.3 1441.9,1764.4 1442.9,1764.5 1443.9,1764.6 1444.9,1764.7 1445.9,1764.8 1446.9,1764.9 1447.9,1765 1448.9,1765.1 1449.9,1765.2 1450.9,1765.3 1451.9,1765.4 1452.9,1765.5 1453.9,1765.6 1454.9,1765.7 1455.9,1765.8 1456.9,1765.9 1457.9,1765.9 1458.9,1766 1459.8,1766.1 1459.8,1773.6 1127,1773.6" fill="#d1e1ec"/>
<rect x="1290.3" y="1753.5" width="10" height="20.1" fill="#005b96"/>
<path d="M1022.5,1771.1 L1024.5,1771.1 L1026.5,1771 L1028.5,1770.9 L1030.5,1770.8 L1032.5,1770.7 L1034.5,1770.6 L1036.5,1770.5 L1038.5,1770.4 L1040.5,1770.3 L1042.5,1770.2 L1044.5,1770.1 L1046.5,1770 L1048.5,1769.9 L1050.5,1769.8 L1052.5,1769.7 L1054.5,1769.6 L1056.5,1769.5 L1058.5,1769.4 L1060.5,1769.3 L1062.5,1769.2 L1064.5,1769.1 L1066.5,1769 L1068.5,1768.9 L1070.5,1768.8 L1072.5,1768.7 L1074.5,1768.6 L1076.6,1768.5 L1078.6,1768.4 L1080.6,1768.3 L1082.6,1768.2 L1084.6,1768.1 L1086.6,1768 L1088.6,1767.8 L1090.6,1767.7 L1092.6,1767.7 L1094.6,1767.6 L1096.6,1767.5 L1098.6,1767.4 L1100.6,1767.3 L1102.6,1767.2 L1104.6,1767.1 L1106.6,1767 L1108.6,1766.9 L1110.6,1766.8 L1112.6,1766.8 L1114.6,1766.7 L1116.6,1766.6 L1118.6,1766.5 L1120.6,1766.4 L1122.6,1766.3 L1124.6,1766.2 L1126.6,1766.1 L1128.6,1766 L1130.6,1765.9 L1132.6,1765.7 L1134.6,1765.6 L1136.6,1765.4 L1138.6,1765.3 L1140.6,1765.1 L1142.6,1764.9 L1144.6,1764.8 L1146.6,1764.6 L1148.6,1764.4 L1150.6,1764.2 L1152.6,1764 L1154.6,1763.7 L1156.6,1763.5 L1158.6,1763.2 L1160.6,1763 L1162.6,1762.7 L1164.6,1762.4 L1166.6,1762.2 L1168.6,1762 L1170.6,1761.7 L1172.6,1761.5 L1174.6,1761.3 L1176.6,1761.1 L1178.6,1761 L1180.6,1760.8 L1182.7,1760.6 L1184.7,1760.4 L1186.7,1760.3 L1188.7,1760.1 L1190.7,1759.9 L1192.7,1759.8 L1194.7,1759.6 L1196.7,1759.4 L1198.7,1759.2 L1200.7,1759 L1202.7,1758.7 L1204.7,1758.5 L1206.7,1758.3 L1208.7,1758.1 L1210.7,1757.8 L1212.7,1757.6 L1214.7,1757.4 L1216.7,1757.2 L1218.7,1757 L1220.7,1756.8 L1222.7,1756.6 L1224.7,1756.5 L1226.7,1756.3 L1228.7,1756.2 L1230.7,1756.1 L1232.7,1755.9 L1234.7,1755.8 L1236.7,1755.7 L1238.7,1755.6 L1240.7,1755.5 L1242.7,1755.3 L1244.7,1755.2 L1246.7,1755.1 L1248.7,1755 L1250.7,1754.9 L1252.7,1754.8 L1254.7,1754.7 L1256.7,1754.5 L1258.7,1754.4 L1260.7,1754.3 L1262.7,1754.1 L1264.7,1754 L1266.7,1753.9 L1268.7,1753.8 L1270.7,1753.7 L1272.7,1753.6 L1274.7,1753.6 L1276.7,1753.5 L1278.7,1753.5 L1280.7,1753.5 L1282.7,1753.5 L1284.7,1753.5 L1286.8,1753.5 L1288.8,1753.5 L1290.8,1753.5 L1292.8,1753.5 L1294.8,1753.5 L1296.8,1753.5 L1298.8,1753.5 L1300.8,1753.5 L1302.8,1753.5 L1304.8,1753.5 L1306.8,1753.5 L1308.8,1753.5 L1310.8,1753.5 L1312.8,1753.6 L1314.8,1753.6 L1316.8,1753.7 L1318.8,1753.7 L1320.8,1753.8 L1322.8,1753.9 L1324.8,1753.9 L1326.8,1754 L1328.8,1754.1 L1330.8,1754.2 L1332.8,1754.3 L1334.8,1754.4 L1336.8,1754.5 L1338.8,1754.6 L1340.8,1754.8 L1342.8,1754.9 L1344.8,1755.1 L1346.8,1755.3 L1348.8,1755.5 L1350.8,1755.7 L1352.8,1755.9 L1354.8,1756.1 L1356.8,1756.3 L1358.8,1756.4 L1360.8,1756.6 L1362.8,1756.8 L1364.8,1757 L1366.8,1757.1 L1368.8,1757.3 L1370.8,1757.5 L1372.8,1757.6 L1374.8,1757.8 L1376.8,1757.9 L1378.8,1758.1 L1380.8,1758.2 L1382.8,1758.4 L1384.8,1758.5 L1386.8,1758.7 L1388.8,1758.8 L1390.8,1759 L1392.9,1759.1 L1394.9,1759.3 L1396.9,1759.5 L1398.9,1759.6 L1400.9,1759.8 L1402.9,1760 L1404.9,1760.2 L1406.9,1760.4 L1408.9,1760.6 L1410.9,1760.9 L1412.9,1761.1 L1414.9,1761.3 L1416.9,1761.6 L1418.9,1761.9 L1420.9,1762.1 L1422.9,1762.4 L1424.9,1762.6 L1426.9,1762.8 L1428.9,1763.1 L1430.9,1763.3 L1432.9,1763.5 L1434.9,1763.7 L1436.9,1763.9 L1438.9,1764.1 L1440.9,1764.3 L1442.9,1764.5 L1444.9,1764.7 L1446.9,1764.9 L1448.9,1765.1 L1450.9,1765.3 L1452.9,1765.5 L1454.9,1765.7 L1456.9,1765.9 L1458.9,1766 L1460.9,1766.2 L1462.9,1766.3 L1464.9,1766.5 L1466.9,1766.7 L1468.9,1766.8 L1470.9,1767 L1472.9,1767.1 L1474.9,1767.2 L1476.9,1767.4 L1478.9,1767.5 L1480.9,1767.6 L1482.9,1767.8 L1484.9,1767.9 L1486.9,1768 L1488.9,1768.1 L1490.9,1768.2 L1492.9,1768.3 L1494.9,1768.5 L1496.9,1768.6 L1499,1768.7 L1501,1768.8 L1503,1768.9 L1505,1769 L1507,1769 L1509,1769.1 L1511,1769.2 L1513,1769.3 L1515,1769.4 L1517,1769.5 L1519,1769.6 L1521,1769.7 L1523,1769.7 L1525,1769.8 L1527,1769.9 L1529,1770 L1531,1770.1 L1533,1770.2 L1535,1770.2 L1537,1770.3 L1539,1770.4 L1541,1770.5 L1543,1770.5 L1545,1770.6 L1547,1770.7 L1549,1770.7 L1551,1770.8" fill="none" stroke="#03396c" stroke-width="4.7" stroke-linecap="round" stroke-linejoin="round"/>
<line x1="1022.5" y1="1773.6" x2="1551" y2="1773.6" stroke="#03396c" stroke-width="4.7"/>
<rect x="689" y="1769" width="13" height="10" fill="#333333"/>
<text x="680.5" y="1787.5" text-anchor="end" font-family="&quot;Liberation Serif&quot;, serif" font-weight="bold" font-size="40.2" fill="#4d4d4d" stroke="#4d4d4d" stroke-width="0.7">External Causes</text>
<polygon points="1129.4,1845.6 1129.4,1845.6 1130.4,1845.5 1131.4,1845.4 1132.4,1845.4 1133.4,1845.3 1134.4,1845.2 1135.4,1845.1 1136.4,1845 1137.4,1844.9 1138.4,1844.8 1139.4,1844.8 1140.4,1844.7 1141.4,1844.6 1142.4,1844.5 1143.4,1844.4 1144.4,1844.3 1145.4,1844.2 1146.4,1844.1 1147.4,1844 1148.4,1843.9 1149.4,1843.8 1150.4,1843.7 1151.4,1843.6 1152.4,1843.5 1153.4,1843.4 1154.4,1843.2 1155.4,1843.1 1156.4,1843 1157.4,1842.9 1158.4,1842.8 1159.4,1842.7 1160.4,1842.5 1161.4,1842.4 1162.4,1842.3 1163.4,1842.2 1164.4,1842.1 1165.4,1841.9 1166.4,1841.8 1167.4,1841.7 1168.4,1841.6 1169.4,1841.5 1170.4,1841.4 1171.4,1841.3 1172.4,1841.2 1173.4,1841.1 1174.4,1841 1175.4,1840.9 1176.4,1840.8 1177.4,1840.7 1178.4,1840.6 1179.4,1840.5 1180.4,1840.4 1181.4,1840.4 1182.4,1840.3 1183.4,1840.2 1184.4,1840.1 1185.4,1840.1 1186.4,1840 1187.4,1839.9 1188.4,1839.9 1189.4,1839.8 1190.4,1839.8 1191.4,1839.7 1192.3,1839.6 1193.3,1839.6 1194.3,1839.5 1195.3,1839.4 1196.3,1839.4 1197.3,1839.3 1198.3,1839.2 1199.3,1839.2 1200.3,1839.1 1201.3,1839 1202.3,1838.9 1203.3,1838.9 1204.3,1838.8 1205.3,1838.7 1206.3,1838.6 1207.3,1838.5 1208.3,1838.4 1209.3,1838.3 1210.3,1838.2 1211.3,1838.1 1212.3,1837.9 1213.3,1837.8 1214.3,1837.7 1215.3,1837.5 1216.3,1837.4 1217.3,1837.3 1218.3,1837.1 1219.3,1837 1220.3,1836.9 1221.3,1836.7 1222.3,1836.6 1223.3,1836.5 1224.3,1836.3 1225.3,1836.2 1226.3,1836.1 1227.3,1836 1228.3,1835.8 1229.3,1835.7 1230.3,1835.6 1231.3,1835.6 1232.3,1835.5 1233.3,1835.4 1234.3,1835.3 1235.3,1835.2 1236.3,1835.2 1237.3,1835.1 1238.3,1835 1239.3,1835 1240.3,1834.9 1241.3,1834.9 1242.3,1834.8 1243.3,1834.7 1244.3,1834.7 1245.3,1834.6 1246.3,1834.6 1247.3,1834.5 1248.3,1834.5 1249.3,1834.4 1250.3,1834.4 1251.3,1834.3 1252.3,1834.3 1253.3,1834.3 1254.3,1834.2 1255.3,1834.2 1256.3,1834.1 1257.3,1834.1 1258.3,1834.1 1259.3,1834 1260.3,1834 1261.3,1834 1262.3,1834 1263.3,1833.9 1264.3,1833.9 1265.3,1833.9 1266.3,1833.9 1267.3,1833.8 1268.3,1833.8 1269.3,1833.8 1270.3,1833.8 1271.3,1833.7 1272.3,1833.7 1273.3,1833.7 1274.3,1833.7 1275.3,1833.7 1276.3,1833.6 1277.3,1833.6 1278.3,1833.6 1279.3,1833.6 1280.3,1833.6 1281.3,1833.6 1282.3,1833.5 1283.3,1833.5 1284.3,1833.5 1285.3,1833.5 1286.3,1833.5 1287.3,1833.5 1288.3,1833.5 1289.3,1833.5 1290.3,1833.5 1291.3,1833.5 1292.3,1833.5 1293.3,1833.5 1294.3,1833.5 1295.3,1833.5 1296.3,1833.5 1297.2,1833.5 1298.2,1833.5 1299.2,1833.5 1300.2,1833.5 1301.2,1833.5 1302.2,1833.5 1303.2,1833.5 1304.2,1833.5 1305.2,1833.5 1306.2,1833.5 1307.2,1833.5 1308.2,1833.5 1309.2,1833.5 1310.2,1833.5 1311.2,1833.5 1312.2,1833.5 1313.2,1833.5 1314.2,1833.5 1315.2,1833.5 1316.2,1833.5 1317.2,1833.5 1318.2,1833.5 1319.2,1833.5 1320.2,1833.5 1321.2,1833.6 1322.2,1833.6 1323.2,1833.6 1324.2,1833.6 1325.2,1833.7 1326.2,1833.7 1327.2,1833.7 1328.2,1833.8 1329.2,1833.8 1330.2,1833.9 1331.2,1833.9 1332.2,1834 1333.2,1834 1334.2,1834.1 1335.2,1834.1 1336.2,1834.2 1337.2,1834.3 1338.2,1834.3 1339.2,1834.4 1340.2,1834.4 1341.2,1834.5 1342.2,1834.5 1343.2,1834.6 1344.2,1834.7 1345.2,1834.7 1346.2,1834.8 1347.2,1834.9 1348.2,1834.9 1349.2,1835 1350.2,1835.1 1351.2,1835.1 1352.2,1835.2 1353.2,1835.3 1354.2,1835.4 1355.2,1835.5 1356.2,1835.5 1357.2,1835.6 1358.2,1835.7 1359.2,1835.8 1360.2,1835.9 1361.2,1836 1362.2,1836.1 1363.2,1836.2 1364.2,1836.3 1365.2,1836.4 1366.2,1836.5 1367.2,1836.6 1368.2,1836.7 1369.2,1836.8 1370.2,1836.9 1371.2,1837 1372.2,1837.1 1373.2,1837.3 1374.2,1837.4 1375.2,1837.5 1376.2,1837.6 1377.2,1837.8 1378.2,1837.9 1379.2,1838 1380.2,1838.2 1381.2,1838.3 1382.2,1838.4 1383.2,1838.6 1384.2,1838.7 1385.2,1838.8 1386.2,1838.9 1387.2,1839.1 1388.2,1839.2 1389.2,1839.3 1390.2,1839.4 1391.2,1839.5 1392.2,1839.6 1393.2,1839.8 1394.2,1839.9 1395.2,1840 1396.2,1840.1 1397.2,1840.2 1398.2,1840.3 1399.2,1840.4 1400.2,1840.5 1401.2,1840.6 1402.2,1840.7 1403.1,1840.9 1404.1,1841 1405.1,1841.1 1406.1,1841.2 1407.1,1841.3 1408.1,1841.4 1409.1,1841.5 1410.1,1841.6 1411.1,1841.7 1412.1,1841.8 1413.1,1841.9 1414.1,1842 1415.1,1842.1 1416.1,1842.2 1417.1,1842.3 1418.1,1842.4 1419.1,1842.5 1420.1,1842.6 1421.1,1842.7 1422.1,1842.8 1423.1,1842.9 1424.1,1843.1 1425.1,1843.2 1426.1,1843.3 1427.1,1843.4 1428.1,1843.5 1429.1,1843.6 1430.1,1843.7 1431.1,1843.8 1432.1,1843.8 1433.1,1843.9 1434.1,1844 1435.1,1844.1 1436.1,1844.2 1437.1,1844.3 1438.1,1844.4 1439.1,1844.5 1440.1,1844.6 1441.1,1844.7 1442.1,1844.8 1443.1,1844.9 1444.1,1845 1445.1,1845.1 1446.1,1845.2 1447.1,1845.3 1448.1,1845.4 1449.1,1845.5 1450.1,1845.6 1451.1,1845.7 1452.1,1845.8 1453.1,1845.8 1454.1,1845.9 1455.1,1846 1456.1,1846.1 1457.1,1846.2 1458.1,1846.3 1459.1,1846.4 1460.1,1846.5 1461.1,1846.5 1461.9,1846.6 1461.9,1853.6 1129.4,1853.6" fill="#d1e1ec"/>
<rect x="1290.4" y="1833.5" width="10" height="20.1" fill="#005b96"/>
<path d="M1033.5,1851.1 L1035.5,1851.1 L1037.5,1850.9 L1039.5,1850.8 L1041.5,1850.7 L1043.5,1850.6 L1045.5,1850.4 L1047.5,1850.3 L1049.5,1850.2 L1051.5,1850.1 L1053.5,1850 L1055.5,1849.8 L1057.5,1849.7 L1059.5,1849.6 L1061.5,1849.5 L1063.5,1849.4 L1065.5,1849.2 L1067.5,1849.1 L1069.5,1849 L1071.5,1848.9 L1073.5,1848.8 L1075.5,1848.7 L1077.5,1848.6 L1079.5,1848.4 L1081.5,1848.3 L1083.5,1848.2 L1085.5,1848.1 L1087.4,1848 L1089.4,1847.9 L1091.4,1847.8 L1093.4,1847.7 L1095.4,1847.6 L1097.4,1847.5 L1099.4,1847.4 L1101.4,1847.3 L1103.4,1847.2 L1105.4,1847 L1107.4,1846.9 L1109.4,1846.8 L1111.4,1846.7 L1113.4,1846.6 L1115.4,1846.5 L1117.4,1846.4 L1119.4,1846.3 L1121.4,1846.1 L1123.4,1846 L1125.4,1845.9 L1127.4,1845.7 L1129.4,1845.6 L1131.4,1845.4 L1133.4,1845.3 L1135.4,1845.1 L1137.4,1844.9 L1139.4,1844.8 L1141.4,1844.6 L1143.4,1844.4 L1145.4,1844.2 L1147.4,1844 L1149.4,1843.8 L1151.4,1843.6 L1153.4,1843.4 L1155.4,1843.1 L1157.4,1842.9 L1159.4,1842.7 L1161.4,1842.4 L1163.4,1842.2 L1165.4,1841.9 L1167.4,1841.7 L1169.4,1841.5 L1171.4,1841.3 L1173.4,1841.1 L1175.4,1840.9 L1177.4,1840.7 L1179.4,1840.5 L1181.4,1840.4 L1183.4,1840.2 L1185.4,1840.1 L1187.4,1839.9 L1189.4,1839.8 L1191.4,1839.7 L1193.3,1839.6 L1195.3,1839.4 L1197.3,1839.3 L1199.3,1839.2 L1201.3,1839 L1203.3,1838.9 L1205.3,1838.7 L1207.3,1838.5 L1209.3,1838.3 L1211.3,1838.1 L1213.3,1837.8 L1215.3,1837.5 L1217.3,1837.3 L1219.3,1837 L1221.3,1836.7 L1223.3,1836.5 L1225.3,1836.2 L1227.3,1836 L1229.3,1835.7 L1231.3,1835.6 L1233.3,1835.4 L1235.3,1835.2 L1237.3,1835.1 L1239.3,1835 L1241.3,1834.9 L1243.3,1834.7 L1245.3,1834.6 L1247.3,1834.5 L1249.3,1834.4 L1251.3,1834.3 L1253.3,1834.3 L1255.3,1834.2 L1257.3,1834.1 L1259.3,1834 L1261.3,1834 L1263.3,1833.9 L1265.3,1833.9 L1267.3,1833.8 L1269.3,1833.8 L1271.3,1833.7 L1273.3,1833.7 L1275.3,1833.7 L1277.3,1833.6 L1279.3,1833.6 L1281.3,1833.6 L1283.3,1833.5 L1285.3,1833.5 L1287.3,1833.5 L1289.3,1833.5 L1291.3,1833.5 L1293.3,1833.5 L1295.3,1833.5 L1297.2,1833.5 L1299.2,1833.5 L1301.2,1833.5 L1303.2,1833.5 L1305.2,1833.5 L1307.2,1833.5 L1309.2,1833.5 L1311.2,1833.5 L1313.2,1833.5 L1315.2,1833.5 L1317.2,1833.5 L1319.2,1833.5 L1321.2,1833.6 L1323.2,1833.6 L1325.2,1833.7 L1327.2,1833.7 L1329.2,1833.8 L1331.2,1833.9 L1333.2,1834 L1335.2,1834.1 L1337.2,1834.3 L1339.2,1834.4 L1341.2,1834.5 L1343.2,1834.6 L1345.2,1834.7 L1347.2,1834.9 L1349.2,1835 L1351.2,1835.1 L1353.2,1835.3 L1355.2,1835.5 L1357.2,1835.6 L1359.2,1835.8 L1361.2,1836 L1363.2,1836.2 L1365.2,1836.4 L1367.2,1836.6 L1369.2,1836.8 L1371.2,1837 L1373.2,1837.3 L1375.2,1837.5 L1377.2,1837.8 L1379.2,1838 L1381.2,1838.3 L1383.2,1838.6 L1385.2,1838.8 L1387.2,1839.1 L1389.2,1839.3 L1391.2,1839.5 L1393.2,1839.8 L1395.2,1840 L1397.2,1840.2 L1399.2,1840.4 L1401.2,1840.6 L1403.1,1840.9 L1405.1,1841.1 L1407.1,1841.3 L1409.1,1841.5 L1411.1,1841.7 L1413.1,1841.9 L1415.1,1842.1 L1417.1,1842.3 L1419.1,1842.5 L1421.1,1842.7 L1423.1,1842.9 L1425.1,1843.2 L1427.1,1843.4 L1429.1,1843.6 L1431.1,1843.8 L1433.1,1843.9 L1435.1,1844.1 L1437.1,1844.3 L1439.1,1844.5 L1441.1,1844.7 L1443.1,1844.9 L1445.1,1845.1 L1447.1,1845.3 L1449.1,1845.5 L1451.1,1845.7 L1453.1,1845.8 L1455.1,1846 L1457.1,1846.2 L1459.1,1846.4 L1461.1,1846.5 L1463.1,1846.7 L1465.1,1846.9 L1467.1,1847 L1469.1,1847.2 L1471.1,1847.3 L1473.1,1847.5 L1475.1,1847.6 L1477.1,1847.8 L1479.1,1847.9 L1481.1,1848 L1483.1,1848.2 L1485.1,1848.3 L1487.1,1848.4 L1489.1,1848.5 L1491.1,1848.5 L1493.1,1848.6 L1495.1,1848.7 L1497.1,1848.8 L1499.1,1848.8 L1501.1,1848.9 L1503.1,1849 L1505.1,1849 L1507.1,1849.1 L1509,1849.1 L1511,1849.2 L1513,1849.3 L1515,1849.3 L1517,1849.4 L1519,1849.4 L1521,1849.5 L1523,1849.5 L1525,1849.6 L1527,1849.7 L1529,1849.7 L1531,1849.8 L1533,1849.9 L1535,1849.9 L1537,1850 L1539,1850.1 L1541,1850.1 L1543,1850.2 L1545,1850.3 L1547,1850.3 L1549,1850.4 L1551,1850.5 L1553,1850.5 L1555,1850.6 L1557,1850.7 L1559,1850.7 L1561,1850.8" fill="none" stroke="#03396c" stroke-width="4.7" stroke-linecap="round" stroke-linejoin="round"/>
<line x1="1033.5" y1="1853.6" x2="1561" y2="1853.6" stroke="#03396c" stroke-width="4.7"/>
<rect x="689" y="1849" width="13" height="10" fill="#333333"/>
<text x="680.5" y="1867.5" text-anchor="end" font-family="&quot;Liberation Serif&quot;, serif" font-weight="bold" font-size="40.2" fill="#4d4d4d" stroke="#4d4d4d" stroke-width="0.7">Contact with Healthcare</text>
<polygon points="1134.2,1925.6 1134.5,1925.6 1135.5,1925.5 1136.5,1925.4 1137.5,1925.3 1138.5,1925.2 1139.5,1925.1 1140.5,1925 1141.5,1924.9 1142.5,1924.8 1143.5,1924.7 1144.5,1924.6 1145.5,1924.5 1146.5,1924.4 1147.5,1924.2 1148.5,1924.1 1149.5,1924 1150.5,1923.9 1151.5,1923.8 1152.5,1923.6 1153.5,1923.5 1154.5,1923.4 1155.5,1923.3 1156.5,1923.1 1157.5,1923 1158.5,1922.8 1159.5,1922.7 1160.5,1922.6 1161.5,1922.4 1162.5,1922.3 1163.5,1922.1 1164.4,1922 1165.4,1921.8 1166.4,1921.7 1167.4,1921.6 1168.4,1921.4 1169.4,1921.3 1170.4,1921.1 1171.4,1921 1172.4,1920.9 1173.4,1920.7 1174.4,1920.6 1175.4,1920.5 1176.4,1920.3 1177.4,1920.2 1178.4,1920.1 1179.4,1920 1180.4,1919.9 1181.4,1919.7 1182.4,1919.6 1183.4,1919.5 1184.4,1919.4 1185.4,1919.3 1186.4,1919.2 1187.4,1919.1 1188.4,1919 1189.4,1918.9 1190.4,1918.8 1191.4,1918.7 1192.4,1918.6 1193.4,1918.5 1194.4,1918.4 1195.4,1918.3 1196.4,1918.3 1197.4,1918.2 1198.4,1918.1 1199.4,1918 1200.4,1917.9 1201.4,1917.8 1202.4,1917.7 1203.4,1917.6 1204.4,1917.5 1205.4,1917.4 1206.4,1917.3 1207.4,1917.2 1208.4,1917.1 1209.4,1917 1210.4,1916.9 1211.4,1916.8 1212.4,1916.7 1213.4,1916.5 1214.4,1916.4 1215.4,1916.3 1216.4,1916.2 1217.4,1916.1 1218.4,1916 1219.4,1915.9 1220.4,1915.7 1221.4,1915.6 1222.4,1915.5 1223.4,1915.5 1224.4,1915.4 1225.4,1915.3 1226.4,1915.2 1227.4,1915.2 1228.4,1915.1 1229.4,1915.1 1230.4,1915 1231.4,1915 1232.4,1914.9 1233.4,1914.9 1234.4,1914.8 1235.4,1914.8 1236.4,1914.7 1237.4,1914.7 1238.4,1914.7 1239.4,1914.6 1240.4,1914.6 1241.4,1914.6 1242.4,1914.5 1243.4,1914.5 1244.4,1914.5 1245.4,1914.5 1246.4,1914.5 1247.4,1914.4 1248.4,1914.4 1249.4,1914.4 1250.4,1914.4 1251.4,1914.4 1252.4,1914.4 1253.4,1914.4 1254.4,1914.4 1255.4,1914.4 1256.4,1914.4 1257.4,1914.4 1258.4,1914.4 1259.4,1914.4 1260.4,1914.4 1261.4,1914.4 1262.4,1914.4 1263.4,1914.4 1264.4,1914.4 1265.4,1914.4 1266.4,1914.4 1267.4,1914.4 1268.4,1914.4 1269.4,1914.4 1270.4,1914.4 1271.4,1914.4 1272.4,1914.4 1273.4,1914.4 1274.4,1914.4 1275.4,1914.4 1276.4,1914.4 1277.4,1914.4 1278.4,1914.4 1279.4,1914.4 1280.4,1914.4 1281.4,1914.4 1282.4,1914.4 1283.4,1914.4 1284.4,1914.4 1285.4,1914.4 1286.4,1914.4 1287.4,1914.4 1288.4,1914.4 1289.4,1914.4 1290.4,1914.4 1291.4,1914.4 1292.4,1914.4 1293.4,1914.4 1294.4,1914.4 1295.4,1914.4 1296.4,1914.4 1297.4,1914.4 1298.4,1914.4 1299.4,1914.4 1300.4,1914.4 1301.4,1914.4 1302.4,1914.4 1303.4,1914.4 1304.4,1914.4 1305.4,1914.4 1306.4,1914.4 1307.4,1914.4 1308.4,1914.4 1309.4,1914.4 1310.4,1914.4 1311.4,1914.4 1312.4,1914.4 1313.4,1914.4 1314.4,1914.4 1315.4,1914.4 1316.4,1914.4 1317.4,1914.4 1318.4,1914.4 1319.4,1914.4 1320.4,1914.4 1321.4,1914.4 1322.4,1914.4 1323.4,1914.4 1324.4,1914.4 1325.4,1914.4 1326.4,1914.4 1327.4,1914.4 1328.4,1914.4 1329.4,1914.4 1330.4,1914.4 1331.4,1914.5 1332.4,1914.5 1333.4,1914.5 1334.4,1914.5 1335.4,1914.6 1336.4,1914.6 1337.4,1914.6 1338.4,1914.7 1339.4,1914.7 1340.4,1914.7 1341.4,1914.8 1342.4,1914.8 1343.4,1914.9 1344.4,1914.9 1345.4,1915 1346.4,1915 1347.4,1915.1 1348.4,1915.1 1349.4,1915.2 1350.4,1915.2 1351.4,1915.3 1352.4,1915.3 1353.4,1915.4 1354.4,1915.4 1355.4,1915.5 1356.4,1915.5 1357.4,1915.6 1358.4,1915.7 1359.4,1915.8 1360.4,1915.8 1361.4,1915.9 1362.4,1916 1363.4,1916.1 1364.4,1916.2 1365.4,1916.3 1366.4,1916.4 1367.4,1916.5 1368.4,1916.6 1369.4,1916.7 1370.4,1916.8 1371.4,1916.9 1372.4,1917 1373.4,1917.1 1374.4,1917.2 1375.4,1917.3 1376.4,1917.4 1377.4,1917.5 1378.4,1917.6 1379.4,1917.7 1380.4,1917.8 1381.4,1917.9 1382.4,1918 1383.4,1918.1 1384.4,1918.2 1385.4,1918.4 1386.4,1918.5 1387.4,1918.6 1388.4,1918.7 1389.4,1918.8 1390.4,1918.9 1391.4,1919 1392.4,1919.1 1393.4,1919.2 1394.4,1919.3 1395.4,1919.4 1396.4,1919.5 1397.4,1919.7 1398.4,1919.8 1399.4,1919.9 1400.4,1920 1401.4,1920.1 1402.4,1920.2 1403.4,1920.3 1404.4,1920.5 1405.4,1920.6 1406.4,1920.7 1407.4,1920.8 1408.4,1921 1409.4,1921.1 1410.4,1921.2 1411.4,1921.3 1412.4,1921.5 1413.4,1921.6 1414.4,1921.7 1415.4,1921.9 1416.4,1922 1417.4,1922.1 1418.4,1922.3 1419.4,1922.4 1420.3,1922.5 1421.3,1922.6 1422.3,1922.8 1423.3,1922.9 1424.3,1923 1425.3,1923.1 1426.3,1923.3 1427.3,1923.4 1428.3,1923.5 1429.3,1923.6 1430.3,1923.7 1431.3,1923.8 1432.3,1924 1433.3,1924.1 1434.3,1924.2 1435.3,1924.3 1436.3,1924.4 1437.3,1924.5 1438.3,1924.6 1439.3,1924.7 1440.3,1924.8 1441.3,1924.9 1442.3,1925 1443.3,1925.1 1444.3,1925.2 1445.3,1925.3 1446.3,1925.4 1447.3,1925.5 1448.3,1925.6 1449.3,1925.7 1450.3,1925.8 1451.3,1925.9 1452.3,1926 1453.3,1926.1 1454.3,1926.1 1455.3,1926.2 1456.1,1926.3 1456.1,1933.6 1134.2,1933.6" fill="#d1e1ec"/>
<rect x="1289" y="1914.4" width="10" height="19.2" fill="#005b96"/>
<path d="M1035.5,1930.8 L1037.5,1930.7 L1039.5,1930.6 L1041.5,1930.5 L1043.5,1930.4 L1045.5,1930.3 L1047.5,1930.2 L1049.5,1930.1 L1051.5,1930 L1053.5,1929.9 L1055.5,1929.8 L1057.5,1929.7 L1059.5,1929.6 L1061.5,1929.5 L1063.5,1929.4 L1065.5,1929.3 L1067.5,1929.2 L1069.5,1929.1 L1071.5,1928.9 L1073.5,1928.8 L1075.5,1928.7 L1077.5,1928.6 L1079.5,1928.5 L1081.5,1928.4 L1083.5,1928.3 L1085.5,1928.2 L1087.5,1928.1 L1089.5,1928 L1091.5,1927.9 L1093.5,1927.8 L1095.5,1927.7 L1097.5,1927.6 L1099.5,1927.5 L1101.5,1927.4 L1103.5,1927.3 L1105.5,1927.2 L1107.5,1927.1 L1109.5,1927 L1111.5,1926.9 L1113.5,1926.8 L1115.5,1926.7 L1117.5,1926.6 L1119.5,1926.5 L1121.5,1926.4 L1123.5,1926.3 L1125.5,1926.2 L1127.5,1926 L1129.5,1925.9 L1131.5,1925.8 L1133.5,1925.6 L1135.5,1925.5 L1137.5,1925.3 L1139.5,1925.1 L1141.5,1924.9 L1143.5,1924.7 L1145.5,1924.5 L1147.5,1924.2 L1149.5,1924 L1151.5,1923.8 L1153.5,1923.5 L1155.5,1923.3 L1157.5,1923 L1159.5,1922.7 L1161.5,1922.4 L1163.5,1922.1 L1165.4,1921.8 L1167.4,1921.6 L1169.4,1921.3 L1171.4,1921 L1173.4,1920.7 L1175.4,1920.5 L1177.4,1920.2 L1179.4,1920 L1181.4,1919.7 L1183.4,1919.5 L1185.4,1919.3 L1187.4,1919.1 L1189.4,1918.9 L1191.4,1918.7 L1193.4,1918.5 L1195.4,1918.3 L1197.4,1918.2 L1199.4,1918 L1201.4,1917.8 L1203.4,1917.6 L1205.4,1917.4 L1207.4,1917.2 L1209.4,1917 L1211.4,1916.8 L1213.4,1916.5 L1215.4,1916.3 L1217.4,1916.1 L1219.4,1915.9 L1221.4,1915.6 L1223.4,1915.5 L1225.4,1915.3 L1227.4,1915.2 L1229.4,1915.1 L1231.4,1915 L1233.4,1914.9 L1235.4,1914.8 L1237.4,1914.7 L1239.4,1914.6 L1241.4,1914.6 L1243.4,1914.5 L1245.4,1914.5 L1247.4,1914.4 L1249.4,1914.4 L1251.4,1914.4 L1253.4,1914.4 L1255.4,1914.4 L1257.4,1914.4 L1259.4,1914.4 L1261.4,1914.4 L1263.4,1914.4 L1265.4,1914.4 L1267.4,1914.4 L1269.4,1914.4 L1271.4,1914.4 L1273.4,1914.4 L1275.4,1914.4 L1277.4,1914.4 L1279.4,1914.4 L1281.4,1914.4 L1283.4,1914.4 L1285.4,1914.4 L1287.4,1914.4 L1289.4,1914.4 L1291.4,1914.4 L1293.4,1914.4 L1295.4,1914.4 L1297.4,1914.4 L1299.4,1914.4 L1301.4,1914.4 L1303.4,1914.4 L1305.4,1914.4 L1307.4,1914.4 L1309.4,1914.4 L1311.4,1914.4 L1313.4,1914.4 L1315.4,1914.4 L1317.4,1914.4 L1319.4,1914.4 L1321.4,1914.4 L1323.4,1914.4 L1325.4,1914.4 L1327.4,1914.4 L1329.4,1914.4 L1331.4,1914.5 L1333.4,1914.5 L1335.4,1914.6 L1337.4,1914.6 L1339.4,1914.7 L1341.4,1914.8 L1343.4,1914.9 L1345.4,1915 L1347.4,1915.1 L1349.4,1915.2 L1351.4,1915.3 L1353.4,1915.4 L1355.4,1915.5 L1357.4,1915.6 L1359.4,1915.8 L1361.4,1915.9 L1363.4,1916.1 L1365.4,1916.3 L1367.4,1916.5 L1369.4,1916.7 L1371.4,1916.9 L1373.4,1917.1 L1375.4,1917.3 L1377.4,1917.5 L1379.4,1917.7 L1381.4,1917.9 L1383.4,1918.1 L1385.4,1918.4 L1387.4,1918.6 L1389.4,1918.8 L1391.4,1919 L1393.4,1919.2 L1395.4,1919.4 L1397.4,1919.7 L1399.4,1919.9 L1401.4,1920.1 L1403.4,1920.3 L1405.4,1920.6 L1407.4,1920.8 L1409.4,1921.1 L1411.4,1921.3 L1413.4,1921.6 L1415.4,1921.9 L1417.4,1922.1 L1419.4,1922.4 L1421.3,1922.6 L1423.3,1922.9 L1425.3,1923.1 L1427.3,1923.4 L1429.3,1923.6 L1431.3,1923.8 L1433.3,1924.1 L1435.3,1924.3 L1437.3,1924.5 L1439.3,1924.7 L1441.3,1924.9 L1443.3,1925.1 L1445.3,1925.3 L1447.3,1925.5 L1449.3,1925.7 L1451.3,1925.9 L1453.3,1926.1 L1455.3,1926.2 L1457.3,1926.4 L1459.3,1926.6 L1461.3,1926.8 L1463.3,1926.9 L1465.3,1927.1 L1467.3,1927.3 L1469.3,1927.4 L1471.3,1927.6 L1473.3,1927.7 L1475.3,1927.9 L1477.3,1928 L1479.3,1928.1 L1481.3,1928.2 L1483.3,1928.3 L1485.3,1928.4 L1487.3,1928.5 L1489.3,1928.6 L1491.3,1928.7 L1493.3,1928.8 L1495.3,1928.8 L1497.3,1928.9 L1499.3,1929 L1501.3,1929.1 L1503.3,1929.2 L1505.3,1929.2 L1507.3,1929.3 L1509.3,1929.4 L1511.3,1929.5 L1513.3,1929.5 L1515.3,1929.6 L1517.3,1929.7 L1519.3,1929.8 L1521.3,1929.8 L1523.3,1929.9 L1525.3,1930 L1527.3,1930.1 L1529.3,1930.1 L1531.3,1930.2 L1533.3,1930.3 L1535.3,1930.4 L1537.3,1930.4 L1539.3,1930.5 L1541.3,1930.6 L1543.3,1930.6 L1545.3,1930.7 L1547.3,1930.7 L1548.3,1930.8" fill="none" stroke="#03396c" stroke-width="4.7" stroke-linecap="round" stroke-linejoin="round"/>
<line x1="1035.5" y1="1933.6" x2="1548.3" y2="1933.6" stroke="#03396c" stroke-width="4.7"/>
<rect x="689" y="1929" width="13" height="10" fill="#333333"/>
<text x="680.5" y="1947.5" text-anchor="end" font-family="&quot;Liberation Serif&quot;, serif" font-weight="bold" font-size="40.2" fill="#4d4d4d" stroke="#4d4d4d" stroke-width="0.7">Special Purposes</text>
<rect x="772.2" y="2018" width="3.5" height="13" fill="#333333"/>
<text x="774" y="2066" text-anchor="middle" font-family="&quot;Liberation Serif&quot;, serif" font-size="40.5" fill="#4d4d4d" stroke="#4d4d4d" stroke-width="0.5">-4</text>
<rect x="1033" y="2018" width="3.5" height="13" fill="#333333"/>
<text x="1034.8" y="2066" text-anchor="middle" font-family="&quot;Liberation Serif&quot;, serif" font-size="40.5" fill="#4d4d4d" stroke="#4d4d4d" stroke-width="0.5">-2</text>
<rect x="1293.8" y="2018" width="3.5" height="13" fill="#333333"/>
<text x="1295.5" y="2066" text-anchor="middle" font-family="&quot;Liberation Serif&quot;, serif" font-size="40.5" fill="#4d4d4d" stroke="#4d4d4d" stroke-width="0.5">0</text>
<rect x="1554.5" y="2018" width="3.5" height="13" fill="#333333"/>
<text x="1556.2" y="2066" text-anchor="middle" font-family="&quot;Liberation Serif&quot;, serif" font-size="40.5" fill="#4d4d4d" stroke="#4d4d4d" stroke-width="0.5">2</text>
<rect x="1815.2" y="2018" width="3.5" height="13" fill="#333333"/>
<text x="1817" y="2066" text-anchor="middle" font-family="&quot;Liberation Serif&quot;, serif" font-size="40.5" fill="#4d4d4d" stroke="#4d4d4d" stroke-width="0.5">4</text>
</svg></body></html>
